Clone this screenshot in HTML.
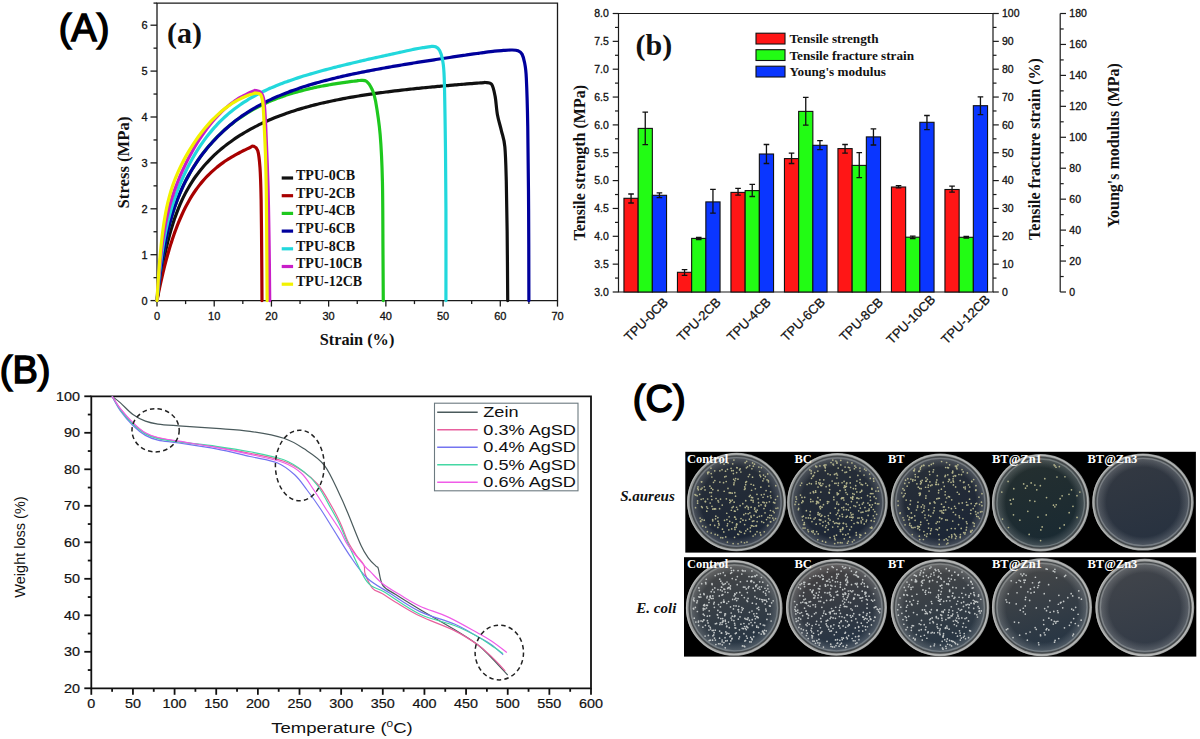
<!DOCTYPE html><html><head><meta charset="utf-8"><style>html,body{margin:0;padding:0;background:#fff;width:1200px;height:739px;overflow:hidden}svg{display:block}</style></head><body>
<svg width="1200" height="739" viewBox="0 0 1200 739">
<rect width="1200" height="739" fill="#fff"/>
<text x="58.7" y="40.6" style="font-family:'Liberation Sans', sans-serif;font-size:38px;fill:#000;stroke:#000;stroke-width:1.5">(A)</text>
<text x="-0.2" y="382.8" style="font-family:'Liberation Sans', sans-serif;font-size:38px;fill:#000;stroke:#000;stroke-width:1.5">(B)</text>
<text x="632.8" y="412" style="font-family:'Liberation Sans', sans-serif;font-size:38px;fill:#000;stroke:#000;stroke-width:1.5">(C)</text>
<g style="stroke:#1a1a1a;stroke-width:1.3;fill:none">
<path d="M157 300.6 H557.5 V3.1 H157 Z"/>
<path d="M150.5 300.6 H157"/>
<path d="M153.5 277.65 H157"/>
<path d="M150.5 254.7 H157"/>
<path d="M153.5 231.75 H157"/>
<path d="M150.5 208.8 H157"/>
<path d="M153.5 185.85 H157"/>
<path d="M150.5 162.9 H157"/>
<path d="M153.5 139.95 H157"/>
<path d="M150.5 117 H157"/>
<path d="M153.5 94.05 H157"/>
<path d="M150.5 71.1 H157"/>
<path d="M153.5 48.15 H157"/>
<path d="M150.5 25.2 H157"/>
<path d="M153.5 3.1 H157"/>
<path d="M157 300.6 V306.6"/>
<path d="M185.61 300.6 V304.1"/>
<path d="M214.21 300.6 V306.6"/>
<path d="M242.82 300.6 V304.1"/>
<path d="M271.43 300.6 V306.6"/>
<path d="M300.04 300.6 V304.1"/>
<path d="M328.64 300.6 V306.6"/>
<path d="M357.25 300.6 V304.1"/>
<path d="M385.86 300.6 V306.6"/>
<path d="M414.46 300.6 V304.1"/>
<path d="M443.07 300.6 V306.6"/>
<path d="M471.68 300.6 V304.1"/>
<path d="M500.29 300.6 V306.6"/>
<path d="M528.89 300.6 V304.1"/>
<path d="M557.5 300.6 V306.6"/>
</g>
<text x="147.5" y="304.6" text-anchor="end" style="font-family:'Liberation Sans', sans-serif;font-size:11px;fill:#111;stroke:#111;stroke-width:0.3">0</text>
<text x="147.5" y="258.7" text-anchor="end" style="font-family:'Liberation Sans', sans-serif;font-size:11px;fill:#111;stroke:#111;stroke-width:0.3">1</text>
<text x="147.5" y="212.8" text-anchor="end" style="font-family:'Liberation Sans', sans-serif;font-size:11px;fill:#111;stroke:#111;stroke-width:0.3">2</text>
<text x="147.5" y="166.9" text-anchor="end" style="font-family:'Liberation Sans', sans-serif;font-size:11px;fill:#111;stroke:#111;stroke-width:0.3">3</text>
<text x="147.5" y="121" text-anchor="end" style="font-family:'Liberation Sans', sans-serif;font-size:11px;fill:#111;stroke:#111;stroke-width:0.3">4</text>
<text x="147.5" y="75.1" text-anchor="end" style="font-family:'Liberation Sans', sans-serif;font-size:11px;fill:#111;stroke:#111;stroke-width:0.3">5</text>
<text x="147.5" y="29.2" text-anchor="end" style="font-family:'Liberation Sans', sans-serif;font-size:11px;fill:#111;stroke:#111;stroke-width:0.3">6</text>
<text x="157" y="320" text-anchor="middle" style="font-family:'Liberation Sans', sans-serif;font-size:11px;fill:#111;stroke:#111;stroke-width:0.3">0</text>
<text x="214.21" y="320" text-anchor="middle" style="font-family:'Liberation Sans', sans-serif;font-size:11px;fill:#111;stroke:#111;stroke-width:0.3">10</text>
<text x="271.43" y="320" text-anchor="middle" style="font-family:'Liberation Sans', sans-serif;font-size:11px;fill:#111;stroke:#111;stroke-width:0.3">20</text>
<text x="328.64" y="320" text-anchor="middle" style="font-family:'Liberation Sans', sans-serif;font-size:11px;fill:#111;stroke:#111;stroke-width:0.3">30</text>
<text x="385.86" y="320" text-anchor="middle" style="font-family:'Liberation Sans', sans-serif;font-size:11px;fill:#111;stroke:#111;stroke-width:0.3">40</text>
<text x="443.07" y="320" text-anchor="middle" style="font-family:'Liberation Sans', sans-serif;font-size:11px;fill:#111;stroke:#111;stroke-width:0.3">50</text>
<text x="500.29" y="320" text-anchor="middle" style="font-family:'Liberation Sans', sans-serif;font-size:11px;fill:#111;stroke:#111;stroke-width:0.3">60</text>
<text x="557.5" y="320" text-anchor="middle" style="font-family:'Liberation Sans', sans-serif;font-size:11px;fill:#111;stroke:#111;stroke-width:0.3">70</text>
<text x="357" y="345" text-anchor="middle" style="font-family:'Liberation Serif', serif;font-size:16.3px;font-weight:bold;fill:#111">Strain (%)</text>
<text transform="translate(129.4 162.5) rotate(-90)" text-anchor="middle" style="font-family:'Liberation Serif', serif;font-size:16.3px;font-weight:bold;fill:#111;font-size:16.7px">Stress (MPa)</text>
<text x="167" y="42.5" style="font-family:'Liberation Serif', serif;font-size:30px;font-weight:bold;fill:#111">(a)</text>
<g style="fill:none;stroke-width:3.2;stroke-linejoin:round;stroke-linecap:round">
<path stroke="#111111" d="M157 300.6 C157.14 299.58 157.57 296.48 157.86 294.5 C158.14 292.51 158.43 290.58 158.72 288.7 C159 286.81 159.29 284.98 159.57 283.18 C159.86 281.39 160.15 279.64 160.43 277.94 C160.72 276.23 161 274.57 161.29 272.94 C161.58 271.31 161.86 269.73 162.15 268.18 C162.44 266.63 162.72 265.12 163.01 263.64 C163.29 262.17 163.58 260.72 163.87 259.31 C164.15 257.9 164.44 256.53 164.72 255.18 C165.01 253.84 165.3 252.52 165.58 251.24 C165.87 249.95 166.15 248.7 166.44 247.47 C166.73 246.24 167.01 245.03 167.3 243.86 C167.58 242.68 167.87 241.53 168.16 240.41 C168.44 239.28 168.73 238.18 169.01 237.1 C169.3 236.02 169.59 234.96 169.87 233.93 C170.16 232.9 170.45 231.88 170.73 230.89 C171.02 229.9 171.3 228.93 171.59 227.97 C171.88 227.02 172.16 226.09 172.45 225.17 C172.73 224.26 173.02 223.36 173.31 222.48 C173.59 221.6 173.88 220.74 174.16 219.89 C174.45 219.04 174.31 219.33 175.02 217.39 C175.74 215.46 177.31 211.13 178.46 208.29 C179.6 205.45 180.74 202.85 181.89 200.36 C183.03 197.88 184.18 195.58 185.32 193.38 C186.47 191.19 187.61 189.14 188.75 187.18 C189.9 185.21 191.04 183.37 192.19 181.6 C193.33 179.83 194.48 178.15 195.62 176.54 C196.76 174.93 197.91 173.4 199.05 171.92 C200.2 170.44 201.34 169.03 202.49 167.67 C203.63 166.3 204.77 165 205.92 163.73 C207.06 162.46 208.21 161.24 209.35 160.06 C210.5 158.88 211.64 157.74 212.78 156.63 C213.93 155.52 215.07 154.45 216.22 153.41 C217.36 152.37 218.51 151.36 219.65 150.38 C220.79 149.39 221.94 148.44 223.08 147.51 C224.23 146.58 225.37 145.68 226.52 144.79 C227.66 143.91 228.8 143.06 229.95 142.22 C231.09 141.38 232.24 140.57 233.38 139.77 C234.53 138.98 235.67 138.2 236.81 137.44 C237.96 136.69 239.1 135.95 240.25 135.23 C241.39 134.5 242.54 133.8 243.68 133.11 C244.82 132.42 245.97 131.75 247.11 131.09 C248.26 130.43 249.4 129.79 250.55 129.16 C251.69 128.54 252.83 127.92 253.98 127.32 C255.12 126.72 256.27 126.13 257.41 125.56 C258.56 124.98 259.7 124.42 260.84 123.87 C261.99 123.32 263.13 122.79 264.28 122.26 C265.42 121.73 266.57 121.22 267.71 120.72 C268.85 120.21 270 119.72 271.14 119.24 C272.29 118.75 273.43 118.28 274.58 117.82 C275.72 117.36 276.86 116.9 278.01 116.46 C279.15 116.02 280.3 115.58 281.44 115.16 C282.59 114.73 283.73 114.31 284.87 113.9 C286.02 113.5 287.16 113.1 288.31 112.7 C289.45 112.31 290.6 111.93 291.74 111.55 C292.88 111.17 294.03 110.81 295.17 110.44 C296.32 110.08 297.46 109.73 298.61 109.38 C299.75 109.03 300.89 108.69 302.04 108.36 C303.18 108.02 304.33 107.7 305.47 107.38 C306.62 107.05 307.76 106.74 308.9 106.43 C310.05 106.12 311.19 105.82 312.34 105.52 C313.48 105.22 314.63 104.93 315.77 104.64 C316.91 104.36 318.06 104.08 319.2 103.8 C320.35 103.52 321.49 103.25 322.64 102.99 C323.78 102.72 324.92 102.46 326.07 102.2 C327.21 101.95 328.36 101.7 329.5 101.45 C330.65 101.2 331.79 100.96 332.93 100.72 C334.08 100.48 335.22 100.25 336.37 100.02 C337.51 99.79 338.66 99.56 339.8 99.34 C340.94 99.11 342.09 98.89 343.23 98.68 C344.38 98.46 345.52 98.25 346.67 98.04 C347.81 97.84 348.95 97.63 350.1 97.43 C351.24 97.23 352.39 97.03 353.53 96.84 C354.68 96.64 355.82 96.45 356.96 96.26 C358.11 96.07 359.25 95.89 360.4 95.7 C361.54 95.52 362.69 95.34 363.83 95.16 C364.97 94.99 366.12 94.81 367.26 94.64 C368.41 94.47 369.55 94.3 370.7 94.13 C371.84 93.96 372.98 93.8 374.13 93.64 C375.27 93.47 376.42 93.31 377.56 93.16 C378.71 93 379.85 92.84 380.99 92.69 C382.14 92.54 383.28 92.39 384.43 92.24 C385.57 92.09 386.72 91.94 387.86 91.8 C389 91.65 390.15 91.51 391.29 91.37 C392.44 91.23 393.58 91.09 394.73 90.95 C395.87 90.81 397.01 90.67 398.16 90.54 C399.3 90.41 400.45 90.27 401.59 90.14 C402.74 90.01 403.88 89.88 405.02 89.75 C406.17 89.63 407.31 89.5 408.46 89.37 C409.6 89.25 410.75 89.13 411.89 89 C413.03 88.88 414.18 88.76 415.32 88.64 C416.47 88.52 417.61 88.4 418.76 88.29 C419.9 88.17 421.04 88.05 422.19 87.94 C423.33 87.83 424.48 87.71 425.62 87.6 C426.77 87.49 427.91 87.38 429.05 87.27 C430.2 87.16 431.34 87.05 432.49 86.94 C433.63 86.83 434.78 86.72 435.92 86.62 C437.06 86.51 438.21 86.41 439.35 86.3 C440.5 86.2 441.64 86.1 442.79 85.99 C443.93 85.89 445.07 85.79 446.22 85.69 C447.36 85.59 448.51 85.49 449.65 85.39 C450.8 85.29 451.94 85.2 453.08 85.1 C454.23 85 455.37 84.9 456.52 84.81 C457.66 84.71 458.81 84.62 459.95 84.52 C461.09 84.43 462.24 84.34 463.38 84.24 C464.53 84.15 465.67 84.06 466.82 83.97 C467.96 83.87 469.1 83.78 470.25 83.69 C471.39 83.6 472.54 83.51 473.68 83.42 C474.83 83.33 475.97 83.25 477.11 83.16 C478.26 83.07 479.4 82.98 480.55 82.89 C481.69 82.81 483.17 82.7 483.98 82.63 C484.79 82.57 484.12 82.23 485.41 82.53 C486.7 82.82 490.08 82.11 491.7 84.41 C493.32 86.71 494.18 91.3 495.14 96.35 C496.09 101.39 496.38 108.97 497.43 114.71 C498.47 120.44 500.19 125.42 501.43 130.77 C502.67 136.12 504.05 138.42 504.86 146.84 C505.67 155.25 505.91 167.11 506.29 181.26 C506.67 195.41 506.91 211.86 507.15 231.75 C507.39 251.64 507.63 289.12 507.72 300.6"/>
<path stroke="#a80000" d="M157 300.6 C157.14 299.87 157.57 297.67 157.86 296.23 C158.14 294.8 158.43 293.38 158.72 291.99 C159 290.6 159.29 289.23 159.57 287.88 C159.86 286.54 160.15 285.21 160.43 283.9 C160.72 282.59 161 281.3 161.29 280.03 C161.58 278.76 161.86 277.51 162.15 276.28 C162.44 275.05 162.72 273.84 163.01 272.64 C163.29 271.45 163.58 270.27 163.87 269.11 C164.15 267.95 164.44 266.81 164.72 265.69 C165.01 264.56 165.3 263.45 165.58 262.36 C165.87 261.27 166.15 260.2 166.44 259.14 C166.73 258.08 167.01 257.04 167.3 256.01 C167.58 254.98 167.87 253.97 168.16 252.97 C168.44 251.97 168.73 250.99 169.01 250.02 C169.3 249.05 169.59 248.1 169.87 247.16 C170.16 246.22 170.45 245.29 170.73 244.38 C171.02 243.46 171.3 242.56 171.59 241.68 C171.88 240.79 172.16 239.92 172.45 239.06 C172.73 238.19 173.02 237.35 173.31 236.51 C173.59 235.67 173.88 234.85 174.16 234.04 C174.45 233.23 174.31 233.53 175.02 231.64 C175.74 229.75 177.31 225.51 178.46 222.69 C179.6 219.87 180.74 217.23 181.89 214.72 C183.03 212.2 184.18 209.84 185.32 207.58 C186.47 205.33 187.61 203.21 188.75 201.19 C189.9 199.17 191.04 197.27 192.19 195.45 C193.33 193.63 194.48 191.92 195.62 190.28 C196.76 188.64 197.91 187.09 199.05 185.61 C200.2 184.13 201.34 182.72 202.49 181.38 C203.63 180.03 204.77 178.76 205.92 177.53 C207.06 176.31 208.21 175.15 209.35 174.03 C210.5 172.91 211.64 171.84 212.78 170.82 C213.93 169.79 215.07 168.81 216.22 167.87 C217.36 166.92 218.51 166.02 219.65 165.14 C220.79 164.27 221.94 163.43 223.08 162.62 C224.23 161.81 225.37 161.03 226.52 160.28 C227.66 159.52 228.8 158.79 229.95 158.08 C231.09 157.37 232.24 156.69 233.38 156.03 C234.53 155.36 235.67 154.72 236.81 154.09 C237.96 153.46 239.1 152.85 240.25 152.25 C241.39 151.66 242.54 151.08 243.68 150.51 C244.82 149.94 245.97 149.39 247.11 148.85 C248.26 148.31 249.54 147.71 250.55 147.26 C251.55 146.8 251.93 145.56 253.12 146.1 C254.31 146.64 256.55 146.94 257.7 150.51 C258.84 154.07 259.41 159.3 259.99 167.49 C260.56 175.68 260.84 185.09 261.13 199.62 C261.42 214.16 261.56 237.87 261.7 254.7 C261.85 271.53 261.94 292.95 261.99 300.6"/>
<path stroke="#1ec81e" d="M157 300.6 C157.14 299.29 157.57 295.28 157.86 292.76 C158.14 290.24 158.43 287.81 158.72 285.47 C159 283.12 159.29 280.86 159.57 278.66 C159.86 276.47 160.15 274.36 160.43 272.31 C160.72 270.26 161 268.29 161.29 266.37 C161.58 264.46 161.86 262.61 162.15 260.81 C162.44 259.02 162.72 257.28 163.01 255.59 C163.29 253.91 163.58 252.28 163.87 250.69 C164.15 249.11 164.44 247.57 164.72 246.08 C165.01 244.58 165.3 243.14 165.58 241.73 C165.87 240.32 166.15 238.95 166.44 237.62 C166.73 236.28 167.01 234.99 167.3 233.73 C167.58 232.46 167.87 231.24 168.16 230.04 C168.44 228.84 168.73 227.68 169.01 226.54 C169.3 225.41 169.59 224.3 169.87 223.22 C170.16 222.13 170.45 221.08 170.73 220.05 C171.02 219.02 171.3 218.01 171.59 217.02 C171.88 216.04 172.16 215.08 172.45 214.14 C172.73 213.19 173.02 212.27 173.31 211.37 C173.59 210.47 173.88 209.58 174.16 208.72 C174.45 207.85 174.31 208.14 175.02 206.17 C175.74 204.2 177.31 199.8 178.46 196.9 C179.6 194.01 180.74 191.36 181.89 188.81 C183.03 186.26 184.18 183.9 185.32 181.62 C186.47 179.34 187.61 177.2 188.75 175.14 C189.9 173.07 191.04 171.11 192.19 169.22 C193.33 167.32 194.48 165.52 195.62 163.77 C196.76 162.02 197.91 160.35 199.05 158.72 C200.2 157.09 201.34 155.53 202.49 154.02 C203.63 152.5 204.77 151.04 205.92 149.62 C207.06 148.19 208.21 146.82 209.35 145.49 C210.5 144.16 211.64 142.87 212.78 141.61 C213.93 140.36 215.07 139.14 216.22 137.96 C217.36 136.78 218.51 135.64 219.65 134.53 C220.79 133.41 221.94 132.33 223.08 131.28 C224.23 130.23 225.37 129.22 226.52 128.22 C227.66 127.23 228.8 126.27 229.95 125.34 C231.09 124.4 232.24 123.49 233.38 122.61 C234.53 121.73 235.67 120.87 236.81 120.03 C237.96 119.2 239.1 118.39 240.25 117.6 C241.39 116.81 242.54 116.04 243.68 115.3 C244.82 114.55 245.97 113.83 247.11 113.12 C248.26 112.41 249.4 111.73 250.55 111.06 C251.69 110.39 252.83 109.75 253.98 109.12 C255.12 108.48 256.27 107.87 257.41 107.27 C258.56 106.68 259.7 106.1 260.84 105.53 C261.99 104.97 263.13 104.42 264.28 103.88 C265.42 103.35 266.57 102.83 267.71 102.32 C268.85 101.82 270 101.33 271.14 100.85 C272.29 100.37 273.43 99.9 274.58 99.45 C275.72 98.99 276.86 98.55 278.01 98.12 C279.15 97.69 280.3 97.28 281.44 96.87 C282.59 96.46 283.73 96.06 284.87 95.68 C286.02 95.29 287.16 94.92 288.31 94.55 C289.45 94.19 290.6 93.83 291.74 93.48 C292.88 93.14 294.03 92.8 295.17 92.47 C296.32 92.14 297.46 91.82 298.61 91.51 C299.75 91.19 300.89 90.89 302.04 90.59 C303.18 90.3 304.33 90.01 305.47 89.73 C306.62 89.45 307.76 89.17 308.9 88.9 C310.05 88.64 311.19 88.38 312.34 88.12 C313.48 87.87 314.63 87.62 315.77 87.38 C316.91 87.14 318.06 86.9 319.2 86.67 C320.35 86.44 321.49 86.22 322.64 86 C323.78 85.78 324.92 85.57 326.07 85.36 C327.21 85.16 328.36 84.95 329.5 84.76 C330.65 84.56 331.79 84.36 332.93 84.18 C334.08 83.99 335.22 83.8 336.37 83.62 C337.51 83.44 338.66 83.27 339.8 83.1 C340.94 82.93 342.09 82.76 343.23 82.6 C344.38 82.43 345.52 82.27 346.67 82.12 C347.81 81.96 348.95 81.81 350.1 81.66 C351.24 81.51 352.39 81.36 353.53 81.22 C354.68 81.08 355.96 80.92 356.96 80.8 C357.97 80.68 357.97 80.44 359.54 80.5 C361.11 80.57 364.31 79.71 366.4 81.2 C368.5 82.69 370.6 86.17 372.13 89.46 C373.65 92.75 374.22 93.44 375.56 100.94 C376.89 108.43 378.99 121.05 380.14 134.44 C381.28 147.83 381.95 161.22 382.42 181.26 C382.9 201.3 382.85 234.81 383 254.7 C383.14 274.59 383.23 292.95 383.28 300.6"/>
<path stroke="#00009c" d="M157 300.6 C157.14 299.3 157.57 295.3 157.86 292.79 C158.14 290.27 158.43 287.85 158.72 285.51 C159 283.16 159.29 280.91 159.57 278.72 C159.86 276.53 160.15 274.42 160.43 272.37 C160.72 270.32 161 268.35 161.29 266.43 C161.58 264.51 161.86 262.66 162.15 260.87 C162.44 259.07 162.72 257.33 163.01 255.64 C163.29 253.95 163.58 252.32 163.87 250.73 C164.15 249.14 164.44 247.6 164.72 246.1 C165.01 244.61 165.3 243.16 165.58 241.74 C165.87 240.33 166.15 238.96 166.44 237.62 C166.73 236.29 167.01 234.99 167.3 233.72 C167.58 232.46 167.87 231.23 168.16 230.03 C168.44 228.83 168.73 227.66 169.01 226.52 C169.3 225.38 169.59 224.27 169.87 223.18 C170.16 222.1 170.45 221.04 170.73 220.01 C171.02 218.97 171.3 217.96 171.59 216.97 C171.88 215.99 172.16 215.02 172.45 214.08 C172.73 213.13 173.02 212.21 173.31 211.31 C173.59 210.4 173.88 209.52 174.16 208.65 C174.45 207.78 174.31 208.07 175.02 206.1 C175.74 204.13 177.31 199.72 178.46 196.83 C179.6 193.93 180.74 191.29 181.89 188.74 C183.03 186.2 184.18 183.84 185.32 181.57 C186.47 179.3 187.61 177.17 188.75 175.11 C189.9 173.05 191.04 171.11 192.19 169.22 C193.33 167.34 194.48 165.54 195.62 163.8 C196.76 162.06 197.91 160.39 199.05 158.78 C200.2 157.16 201.34 155.6 202.49 154.09 C203.63 152.58 204.77 151.12 205.92 149.7 C207.06 148.29 208.21 146.92 209.35 145.58 C210.5 144.25 211.64 142.96 212.78 141.7 C213.93 140.45 215.07 139.23 216.22 138.04 C217.36 136.85 218.51 135.7 219.65 134.58 C220.79 133.46 221.94 132.37 223.08 131.31 C224.23 130.24 225.37 129.21 226.52 128.2 C227.66 127.2 228.8 126.22 229.95 125.26 C231.09 124.31 232.24 123.38 233.38 122.47 C234.53 121.56 235.67 120.68 236.81 119.82 C237.96 118.96 239.1 118.12 240.25 117.3 C241.39 116.48 242.54 115.69 243.68 114.91 C244.82 114.13 245.97 113.37 247.11 112.63 C248.26 111.89 249.4 111.16 250.55 110.46 C251.69 109.75 252.83 109.06 253.98 108.39 C255.12 107.72 256.27 107.06 257.41 106.42 C258.56 105.78 259.7 105.15 260.84 104.54 C261.99 103.92 263.13 103.32 264.28 102.74 C265.42 102.15 266.57 101.58 267.71 101.02 C268.85 100.46 270 99.92 271.14 99.38 C272.29 98.84 273.43 98.32 274.58 97.81 C275.72 97.29 276.86 96.79 278.01 96.3 C279.15 95.81 280.3 95.33 281.44 94.86 C282.59 94.39 283.73 93.93 284.87 93.47 C286.02 93.02 287.16 92.58 288.31 92.14 C289.45 91.71 290.6 91.28 291.74 90.87 C292.88 90.45 294.03 90.04 295.17 89.64 C296.32 89.23 297.46 88.84 298.61 88.45 C299.75 88.06 300.89 87.69 302.04 87.31 C303.18 86.94 304.33 86.57 305.47 86.21 C306.62 85.85 307.76 85.5 308.9 85.15 C310.05 84.8 311.19 84.46 312.34 84.12 C313.48 83.79 314.63 83.46 315.77 83.13 C316.91 82.8 318.06 82.48 319.2 82.17 C320.35 81.85 321.49 81.54 322.64 81.24 C323.78 80.93 324.92 80.63 326.07 80.33 C327.21 80.04 328.36 79.74 329.5 79.46 C330.65 79.17 331.79 78.88 332.93 78.6 C334.08 78.32 335.22 78.05 336.37 77.77 C337.51 77.5 338.66 77.23 339.8 76.97 C340.94 76.7 342.09 76.44 343.23 76.18 C344.38 75.92 345.52 75.66 346.67 75.41 C347.81 75.16 348.95 74.91 350.1 74.66 C351.24 74.42 352.39 74.17 353.53 73.93 C354.68 73.69 355.82 73.45 356.96 73.21 C358.11 72.98 359.25 72.74 360.4 72.51 C361.54 72.28 362.69 72.05 363.83 71.82 C364.97 71.6 366.12 71.37 367.26 71.15 C368.41 70.93 369.55 70.71 370.7 70.49 C371.84 70.27 372.98 70.05 374.13 69.84 C375.27 69.62 376.42 69.41 377.56 69.2 C378.71 68.99 379.85 68.78 380.99 68.57 C382.14 68.37 383.28 68.16 384.43 67.95 C385.57 67.75 386.72 67.55 387.86 67.35 C389 67.14 390.15 66.94 391.29 66.75 C392.44 66.55 393.58 66.35 394.73 66.15 C395.87 65.96 397.01 65.76 398.16 65.57 C399.3 65.37 400.45 65.18 401.59 64.99 C402.74 64.8 403.88 64.61 405.02 64.42 C406.17 64.23 407.31 64.04 408.46 63.86 C409.6 63.67 410.75 63.48 411.89 63.3 C413.03 63.11 414.18 62.93 415.32 62.75 C416.47 62.56 417.61 62.38 418.76 62.2 C419.9 62.02 421.04 61.84 422.19 61.66 C423.33 61.48 424.48 61.3 425.62 61.12 C426.77 60.94 427.91 60.76 429.05 60.58 C430.2 60.41 431.34 60.23 432.49 60.06 C433.63 59.88 434.78 59.7 435.92 59.53 C437.06 59.36 438.21 59.18 439.35 59.01 C440.5 58.84 441.64 58.66 442.79 58.49 C443.93 58.32 445.07 58.15 446.22 57.98 C447.36 57.8 448.51 57.63 449.65 57.46 C450.8 57.29 451.94 57.12 453.08 56.95 C454.23 56.78 455.37 56.62 456.52 56.45 C457.66 56.28 458.81 56.11 459.95 55.94 C461.09 55.78 462.24 55.61 463.38 55.44 C464.53 55.28 465.67 55.11 466.82 54.94 C467.96 54.78 469.1 54.61 470.25 54.45 C471.39 54.28 472.54 54.12 473.68 53.95 C474.83 53.79 475.97 53.62 477.11 53.46 C478.26 53.29 479.55 53.11 480.55 52.97 C481.55 52.82 480.79 52.9 483.12 52.6 C485.46 52.29 491.23 51.49 494.56 51.13 C497.9 50.77 500.29 50.64 503.15 50.45 C506.01 50.25 509.25 49.95 511.73 49.99 C514.21 50.02 516.31 49.99 518.02 50.67 C519.74 51.36 520.93 52.09 522.03 54.12 C523.12 56.14 523.89 58.86 524.6 62.84 C525.32 66.82 525.79 67.43 526.32 77.99 C526.84 88.54 527.37 104.38 527.75 126.18 C528.13 147.98 528.42 179.73 528.61 208.8 C528.8 237.87 528.85 285.3 528.89 300.6"/>
<path stroke="#22d8dc" d="M157 300.6 C157.14 298.84 157.57 293.36 157.86 290.04 C158.14 286.72 158.43 283.62 158.72 280.66 C159 277.7 159.29 274.93 159.57 272.28 C159.86 269.63 160.15 267.15 160.43 264.76 C160.72 262.38 161 260.14 161.29 257.98 C161.58 255.83 161.86 253.79 162.15 251.83 C162.44 249.87 162.72 248.01 163.01 246.22 C163.29 244.43 163.58 242.73 163.87 241.08 C164.15 239.43 164.44 237.86 164.72 236.34 C165.01 234.82 165.3 233.36 165.58 231.95 C165.87 230.54 166.15 229.18 166.44 227.86 C166.73 226.54 167.01 225.27 167.3 224.03 C167.58 222.8 167.87 221.6 168.16 220.44 C168.44 219.27 168.73 218.14 169.01 217.04 C169.3 215.94 169.59 214.87 169.87 213.82 C170.16 212.78 170.45 211.76 170.73 210.76 C171.02 209.76 171.3 208.79 171.59 207.84 C171.88 206.88 172.16 205.95 172.45 205.04 C172.73 204.12 173.02 203.23 173.31 202.35 C173.59 201.47 173.88 200.61 174.16 199.76 C174.45 198.91 174.31 199.22 175.02 197.26 C175.74 195.31 177.31 190.95 178.46 188.03 C179.6 185.11 180.74 182.39 181.89 179.76 C183.03 177.13 184.18 174.65 185.32 172.25 C186.47 169.85 187.61 167.56 188.75 165.35 C189.9 163.14 191.04 161.03 192.19 158.99 C193.33 156.95 194.48 155 195.62 153.11 C196.76 151.22 197.91 149.4 199.05 147.65 C200.2 145.89 201.34 144.21 202.49 142.58 C203.63 140.94 204.77 139.38 205.92 137.86 C207.06 136.34 208.21 134.88 209.35 133.46 C210.5 132.05 211.64 130.68 212.78 129.36 C213.93 128.04 215.07 126.77 216.22 125.54 C217.36 124.3 218.51 123.12 219.65 121.96 C220.79 120.81 221.94 119.7 223.08 118.62 C224.23 117.54 225.37 116.5 226.52 115.48 C227.66 114.47 228.8 113.49 229.95 112.55 C231.09 111.6 232.24 110.68 233.38 109.79 C234.53 108.89 235.67 108.03 236.81 107.19 C237.96 106.35 239.1 105.54 240.25 104.75 C241.39 103.96 242.54 103.19 243.68 102.44 C244.82 101.7 245.97 100.97 247.11 100.27 C248.26 99.56 249.4 98.88 250.55 98.21 C251.69 97.54 252.83 96.9 253.98 96.26 C255.12 95.63 256.27 95.01 257.41 94.41 C258.56 93.81 259.7 93.23 260.84 92.65 C261.99 92.08 263.13 91.53 264.28 90.98 C265.42 90.44 266.57 89.9 267.71 89.38 C268.85 88.86 270 88.36 271.14 87.86 C272.29 87.36 273.43 86.88 274.58 86.4 C275.72 85.92 276.86 85.46 278.01 85 C279.15 84.54 280.3 84.1 281.44 83.66 C282.59 83.22 283.73 82.79 284.87 82.36 C286.02 81.94 287.16 81.53 288.31 81.12 C289.45 80.71 290.6 80.31 291.74 79.91 C292.88 79.52 294.03 79.13 295.17 78.75 C296.32 78.37 297.46 78 298.61 77.63 C299.75 77.26 300.89 76.89 302.04 76.53 C303.18 76.17 304.33 75.82 305.47 75.47 C306.62 75.12 307.76 74.78 308.9 74.44 C310.05 74.1 311.19 73.76 312.34 73.43 C313.48 73.1 314.63 72.77 315.77 72.44 C316.91 72.12 318.06 71.8 319.2 71.48 C320.35 71.17 321.49 70.85 322.64 70.54 C323.78 70.23 324.92 69.92 326.07 69.62 C327.21 69.31 328.36 69.01 329.5 68.71 C330.65 68.41 331.79 68.12 332.93 67.82 C334.08 67.53 335.22 67.24 336.37 66.95 C337.51 66.66 338.66 66.37 339.8 66.09 C340.94 65.8 342.09 65.52 343.23 65.24 C344.38 64.95 345.52 64.67 346.67 64.4 C347.81 64.12 348.95 63.84 350.1 63.57 C351.24 63.29 352.39 63.02 353.53 62.75 C354.68 62.48 355.82 62.21 356.96 61.94 C358.11 61.67 359.25 61.4 360.4 61.14 C361.54 60.87 362.69 60.61 363.83 60.34 C364.97 60.08 366.12 59.82 367.26 59.56 C368.41 59.3 369.55 59.04 370.7 58.78 C371.84 58.52 372.98 58.26 374.13 58 C375.27 57.74 376.42 57.49 377.56 57.23 C378.71 56.97 379.85 56.72 380.99 56.47 C382.14 56.21 383.28 55.96 384.43 55.7 C385.57 55.45 386.72 55.2 387.86 54.95 C389 54.7 390.15 54.45 391.29 54.2 C392.44 53.95 393.58 53.7 394.73 53.45 C395.87 53.2 397.01 52.95 398.16 52.7 C399.3 52.45 400.45 52.2 401.59 51.96 C402.74 51.71 403.88 51.46 405.02 51.22 C406.17 50.97 407.31 50.72 408.46 50.48 C409.6 50.23 410.89 49.96 411.89 49.74 C412.89 49.53 412.6 49.54 414.46 49.19 C416.32 48.85 420.38 48.13 423.05 47.69 C425.72 47.25 428.39 46.7 430.48 46.54 C432.58 46.39 434.11 46.12 435.63 46.77 C437.16 47.42 438.49 48.3 439.64 50.45 C440.78 52.59 441.74 55.04 442.5 59.63 C443.26 64.22 443.74 64.6 444.22 77.99 C444.69 91.37 445.07 118.15 445.36 139.95 C445.65 161.75 445.84 182.03 445.93 208.8 C446.03 235.58 445.93 285.3 445.93 300.6"/>
<path stroke="#c81ec8" d="M157 300.6 C157.14 298.53 157.57 292.06 157.86 288.17 C158.14 284.28 158.43 280.68 158.72 277.26 C159 273.84 159.29 270.66 159.57 267.64 C159.86 264.62 160.15 261.81 160.43 259.13 C160.72 256.44 161 253.94 161.29 251.55 C161.58 249.16 161.86 246.92 162.15 244.77 C162.44 242.62 162.72 240.61 163.01 238.67 C163.29 236.74 163.58 234.91 163.87 233.16 C164.15 231.4 164.44 229.74 164.72 228.14 C165.01 226.53 165.3 225.01 165.58 223.54 C165.87 222.07 166.15 220.67 166.44 219.32 C166.73 217.96 167.01 216.66 167.3 215.4 C167.58 214.14 167.87 212.93 168.16 211.76 C168.44 210.58 168.73 209.45 169.01 208.35 C169.3 207.25 169.59 206.18 169.87 205.14 C170.16 204.11 170.45 203.1 170.73 202.11 C171.02 201.13 171.3 200.18 171.59 199.24 C171.88 198.3 172.16 197.39 172.45 196.5 C172.73 195.6 173.02 194.73 173.31 193.88 C173.59 193.02 173.88 192.18 174.16 191.36 C174.45 190.53 174.31 190.83 175.02 188.93 C175.74 187.04 177.31 182.82 178.46 179.99 C179.6 177.16 180.74 174.52 181.89 171.96 C183.03 169.39 184.18 166.96 185.32 164.6 C186.47 162.24 187.61 159.98 188.75 157.79 C189.9 155.59 191.04 153.48 192.19 151.44 C193.33 149.39 194.48 147.42 195.62 145.51 C196.76 143.6 197.91 141.76 199.05 139.97 C200.2 138.18 201.34 136.46 202.49 134.79 C203.63 133.13 204.77 131.52 205.92 129.96 C207.06 128.41 208.21 126.91 209.35 125.46 C210.5 124.01 211.64 122.61 212.78 121.27 C213.93 119.92 215.07 118.62 216.22 117.37 C217.36 116.12 218.51 114.92 219.65 113.77 C220.79 112.61 221.94 111.5 223.08 110.43 C224.23 109.37 225.37 108.34 226.52 107.36 C227.66 106.38 228.8 105.44 229.95 104.54 C231.09 103.64 232.24 102.78 233.38 101.96 C234.53 101.14 235.67 100.35 236.81 99.61 C237.96 98.86 239.1 98.15 240.25 97.47 C241.39 96.8 242.54 96.16 243.68 95.55 C244.82 94.94 245.97 94.37 247.11 93.83 C248.26 93.29 249.4 92.78 250.55 92.3 C251.69 91.82 253.17 91.26 253.98 90.95 C254.79 90.64 254.22 90.16 255.41 90.44 C256.6 90.73 259.7 90.92 261.13 92.67 C262.56 94.42 263.23 95.35 263.99 100.94 C264.75 106.52 265.04 112.03 265.71 126.18 C266.37 140.33 267.42 165.96 268 185.85 C268.57 205.74 268.85 226.4 269.14 245.52 C269.43 264.65 269.62 291.42 269.71 300.6"/>
<path stroke="#f2f200" d="M157 300.6 C157.14 298.16 157.57 290.52 157.86 285.96 C158.14 281.4 158.43 277.2 158.72 273.23 C159 269.26 159.29 265.6 159.57 262.12 C159.86 258.65 160.15 255.44 160.43 252.4 C160.72 249.35 161 246.52 161.29 243.84 C161.58 241.15 161.86 238.66 162.15 236.28 C162.44 233.9 162.72 231.68 163.01 229.56 C163.29 227.45 163.58 225.47 163.87 223.57 C164.15 221.68 164.44 219.9 164.72 218.2 C165.01 216.49 165.3 214.89 165.58 213.34 C165.87 211.8 166.15 210.34 166.44 208.94 C166.73 207.54 167.01 206.21 167.3 204.92 C167.58 203.64 167.87 202.42 168.16 201.23 C168.44 200.05 168.73 198.92 169.01 197.83 C169.3 196.73 169.59 195.68 169.87 194.66 C170.16 193.64 170.45 192.66 170.73 191.71 C171.02 190.76 171.3 189.84 171.59 188.94 C171.88 188.04 172.16 187.17 172.45 186.32 C172.73 185.48 173.02 184.65 173.31 183.85 C173.59 183.04 173.88 182.26 174.16 181.49 C174.45 180.73 174.31 180.98 175.02 179.24 C175.74 177.51 177.31 173.64 178.46 171.08 C179.6 168.52 180.74 166.17 181.89 163.88 C183.03 161.6 184.18 159.45 185.32 157.37 C186.47 155.28 187.61 153.3 188.75 151.37 C189.9 149.44 191.04 147.59 192.19 145.8 C193.33 144.01 194.48 142.28 195.62 140.61 C196.76 138.94 197.91 137.33 199.05 135.77 C200.2 134.21 201.34 132.71 202.49 131.25 C203.63 129.79 204.77 128.39 205.92 127.03 C207.06 125.68 208.21 124.37 209.35 123.11 C210.5 121.84 211.64 120.63 212.78 119.46 C213.93 118.28 215.07 117.16 216.22 116.07 C217.36 114.98 218.51 113.94 219.65 112.94 C220.79 111.93 221.94 110.97 223.08 110.05 C224.23 109.12 225.37 108.24 226.52 107.39 C227.66 106.54 228.8 105.73 229.95 104.95 C231.09 104.18 232.24 103.44 233.38 102.73 C234.53 102.03 235.67 101.35 236.81 100.71 C237.96 100.08 239.1 99.47 240.25 98.89 C241.39 98.32 242.54 97.78 243.68 97.26 C244.82 96.75 245.97 96.27 247.11 95.81 C248.26 95.36 249.4 94.93 250.55 94.53 C251.69 94.13 253.17 93.67 253.98 93.42 C254.79 93.17 254.31 92.82 255.41 93 C256.51 93.19 259.32 92.8 260.56 94.51 C261.8 96.21 262.27 98.72 262.85 103.23 C263.42 107.74 263.56 113.18 263.99 121.59 C264.42 130.01 265.04 142.25 265.42 153.72 C265.8 165.2 266.04 173.61 266.28 190.44 C266.52 207.27 266.71 236.34 266.85 254.7 C266.99 273.06 267.09 292.95 267.14 300.6"/>
</g>
<path d="M281.7 178 H293.1" stroke="#111111" stroke-width="3.2"/>
<text x="296" y="179.8" style="font-family:'Liberation Serif', serif;font-size:14px;font-weight:bold;fill:#111">TPU-0CB</text>
<path d="M281.7 195.7 H293.1" stroke="#a80000" stroke-width="3.2"/>
<text x="296" y="197.5" style="font-family:'Liberation Serif', serif;font-size:14px;font-weight:bold;fill:#111">TPU-2CB</text>
<path d="M281.7 213.4 H293.1" stroke="#1ec81e" stroke-width="3.2"/>
<text x="296" y="215.2" style="font-family:'Liberation Serif', serif;font-size:14px;font-weight:bold;fill:#111">TPU-4CB</text>
<path d="M281.7 231.1 H293.1" stroke="#00009c" stroke-width="3.2"/>
<text x="296" y="232.9" style="font-family:'Liberation Serif', serif;font-size:14px;font-weight:bold;fill:#111">TPU-6CB</text>
<path d="M281.7 248.8 H293.1" stroke="#22d8dc" stroke-width="3.2"/>
<text x="296" y="250.6" style="font-family:'Liberation Serif', serif;font-size:14px;font-weight:bold;fill:#111">TPU-8CB</text>
<path d="M281.7 266.5 H293.1" stroke="#c81ec8" stroke-width="3.2"/>
<text x="296" y="268.3" style="font-family:'Liberation Serif', serif;font-size:14px;font-weight:bold;fill:#111">TPU-10CB</text>
<path d="M281.7 284.2 H293.1" stroke="#f2f200" stroke-width="3.2"/>
<text x="296" y="286" style="font-family:'Liberation Serif', serif;font-size:14px;font-weight:bold;fill:#111">TPU-12CB</text>
<g style="stroke:#1a1a1a;stroke-width:1.3;fill:none;stroke-width:1.2">
<path d="M618.5 292 H993 V13.5 H618.5 Z"/>
<path d="M612.7 292 H618.5"/>
<path d="M615 278.07 H618.5"/>
<path d="M612.7 264.15 H618.5"/>
<path d="M615 250.22 H618.5"/>
<path d="M612.7 236.3 H618.5"/>
<path d="M615 222.38 H618.5"/>
<path d="M612.7 208.45 H618.5"/>
<path d="M615 194.53 H618.5"/>
<path d="M612.7 180.6 H618.5"/>
<path d="M615 166.68 H618.5"/>
<path d="M612.7 152.75 H618.5"/>
<path d="M615 138.82 H618.5"/>
<path d="M612.7 124.9 H618.5"/>
<path d="M615 110.97 H618.5"/>
<path d="M612.7 97.05 H618.5"/>
<path d="M615 83.12 H618.5"/>
<path d="M612.7 69.2 H618.5"/>
<path d="M615 55.28 H618.5"/>
<path d="M612.7 41.35 H618.5"/>
<path d="M615 27.43 H618.5"/>
<path d="M612.7 13.5 H618.5"/>
<path d="M993 292 H998.8"/>
<path d="M993 278.07 H996.5"/>
<path d="M993 264.15 H998.8"/>
<path d="M993 250.22 H996.5"/>
<path d="M993 236.3 H998.8"/>
<path d="M993 222.38 H996.5"/>
<path d="M993 208.45 H998.8"/>
<path d="M993 194.53 H996.5"/>
<path d="M993 180.6 H998.8"/>
<path d="M993 166.68 H996.5"/>
<path d="M993 152.75 H998.8"/>
<path d="M993 138.82 H996.5"/>
<path d="M993 124.9 H998.8"/>
<path d="M993 110.97 H996.5"/>
<path d="M993 97.05 H998.8"/>
<path d="M993 83.12 H996.5"/>
<path d="M993 69.2 H998.8"/>
<path d="M993 55.28 H996.5"/>
<path d="M993 41.35 H998.8"/>
<path d="M993 27.43 H996.5"/>
<path d="M993 13.5 H998.8"/>
<path d="M1060.2 13.5 V292"/>
<path d="M1060.2 292 H1066"/>
<path d="M1060.2 276.53 H1063.7"/>
<path d="M1060.2 261.06 H1066"/>
<path d="M1060.2 245.58 H1063.7"/>
<path d="M1060.2 230.11 H1066"/>
<path d="M1060.2 214.64 H1063.7"/>
<path d="M1060.2 199.17 H1066"/>
<path d="M1060.2 183.69 H1063.7"/>
<path d="M1060.2 168.22 H1066"/>
<path d="M1060.2 152.75 H1063.7"/>
<path d="M1060.2 137.28 H1066"/>
<path d="M1060.2 121.81 H1063.7"/>
<path d="M1060.2 106.33 H1066"/>
<path d="M1060.2 90.86 H1063.7"/>
<path d="M1060.2 75.39 H1066"/>
<path d="M1060.2 59.92 H1063.7"/>
<path d="M1060.2 44.44 H1066"/>
<path d="M1060.2 28.97 H1063.7"/>
<path d="M1060.2 13.5 H1066"/>
</g>
<text x="608.8" y="295.8" text-anchor="end" style="font-family:'Liberation Sans', sans-serif;font-size:10.5px;fill:#111;stroke:#111;stroke-width:0.3">3.0</text>
<text x="608.8" y="267.95" text-anchor="end" style="font-family:'Liberation Sans', sans-serif;font-size:10.5px;fill:#111;stroke:#111;stroke-width:0.3">3.5</text>
<text x="608.8" y="240.1" text-anchor="end" style="font-family:'Liberation Sans', sans-serif;font-size:10.5px;fill:#111;stroke:#111;stroke-width:0.3">4.0</text>
<text x="608.8" y="212.25" text-anchor="end" style="font-family:'Liberation Sans', sans-serif;font-size:10.5px;fill:#111;stroke:#111;stroke-width:0.3">4.5</text>
<text x="608.8" y="184.4" text-anchor="end" style="font-family:'Liberation Sans', sans-serif;font-size:10.5px;fill:#111;stroke:#111;stroke-width:0.3">5.0</text>
<text x="608.8" y="156.55" text-anchor="end" style="font-family:'Liberation Sans', sans-serif;font-size:10.5px;fill:#111;stroke:#111;stroke-width:0.3">5.5</text>
<text x="608.8" y="128.7" text-anchor="end" style="font-family:'Liberation Sans', sans-serif;font-size:10.5px;fill:#111;stroke:#111;stroke-width:0.3">6.0</text>
<text x="608.8" y="100.85" text-anchor="end" style="font-family:'Liberation Sans', sans-serif;font-size:10.5px;fill:#111;stroke:#111;stroke-width:0.3">6.5</text>
<text x="608.8" y="73" text-anchor="end" style="font-family:'Liberation Sans', sans-serif;font-size:10.5px;fill:#111;stroke:#111;stroke-width:0.3">7.0</text>
<text x="608.8" y="45.15" text-anchor="end" style="font-family:'Liberation Sans', sans-serif;font-size:10.5px;fill:#111;stroke:#111;stroke-width:0.3">7.5</text>
<text x="608.8" y="17.3" text-anchor="end" style="font-family:'Liberation Sans', sans-serif;font-size:10.5px;fill:#111;stroke:#111;stroke-width:0.3">8.0</text>
<text x="1002" y="295.8" style="font-family:'Liberation Sans', sans-serif;font-size:10.5px;fill:#111;stroke:#111;stroke-width:0.3">0</text>
<text x="1002" y="267.95" style="font-family:'Liberation Sans', sans-serif;font-size:10.5px;fill:#111;stroke:#111;stroke-width:0.3">10</text>
<text x="1002" y="240.1" style="font-family:'Liberation Sans', sans-serif;font-size:10.5px;fill:#111;stroke:#111;stroke-width:0.3">20</text>
<text x="1002" y="212.25" style="font-family:'Liberation Sans', sans-serif;font-size:10.5px;fill:#111;stroke:#111;stroke-width:0.3">30</text>
<text x="1002" y="184.4" style="font-family:'Liberation Sans', sans-serif;font-size:10.5px;fill:#111;stroke:#111;stroke-width:0.3">40</text>
<text x="1002" y="156.55" style="font-family:'Liberation Sans', sans-serif;font-size:10.5px;fill:#111;stroke:#111;stroke-width:0.3">50</text>
<text x="1002" y="128.7" style="font-family:'Liberation Sans', sans-serif;font-size:10.5px;fill:#111;stroke:#111;stroke-width:0.3">60</text>
<text x="1002" y="100.85" style="font-family:'Liberation Sans', sans-serif;font-size:10.5px;fill:#111;stroke:#111;stroke-width:0.3">70</text>
<text x="1002" y="73" style="font-family:'Liberation Sans', sans-serif;font-size:10.5px;fill:#111;stroke:#111;stroke-width:0.3">80</text>
<text x="1002" y="45.15" style="font-family:'Liberation Sans', sans-serif;font-size:10.5px;fill:#111;stroke:#111;stroke-width:0.3">90</text>
<text x="1002" y="17.3" style="font-family:'Liberation Sans', sans-serif;font-size:10.5px;fill:#111;stroke:#111;stroke-width:0.3">100</text>
<text x="1069.3" y="295.8" style="font-family:'Liberation Sans', sans-serif;font-size:10.5px;fill:#111;stroke:#111;stroke-width:0.3">0</text>
<text x="1069.3" y="264.86" style="font-family:'Liberation Sans', sans-serif;font-size:10.5px;fill:#111;stroke:#111;stroke-width:0.3">20</text>
<text x="1069.3" y="233.91" style="font-family:'Liberation Sans', sans-serif;font-size:10.5px;fill:#111;stroke:#111;stroke-width:0.3">40</text>
<text x="1069.3" y="202.97" style="font-family:'Liberation Sans', sans-serif;font-size:10.5px;fill:#111;stroke:#111;stroke-width:0.3">60</text>
<text x="1069.3" y="172.02" style="font-family:'Liberation Sans', sans-serif;font-size:10.5px;fill:#111;stroke:#111;stroke-width:0.3">80</text>
<text x="1069.3" y="141.08" style="font-family:'Liberation Sans', sans-serif;font-size:10.5px;fill:#111;stroke:#111;stroke-width:0.3">100</text>
<text x="1069.3" y="110.13" style="font-family:'Liberation Sans', sans-serif;font-size:10.5px;fill:#111;stroke:#111;stroke-width:0.3">120</text>
<text x="1069.3" y="79.19" style="font-family:'Liberation Sans', sans-serif;font-size:10.5px;fill:#111;stroke:#111;stroke-width:0.3">140</text>
<text x="1069.3" y="48.24" style="font-family:'Liberation Sans', sans-serif;font-size:10.5px;fill:#111;stroke:#111;stroke-width:0.3">160</text>
<text x="1069.3" y="17.3" style="font-family:'Liberation Sans', sans-serif;font-size:10.5px;fill:#111;stroke:#111;stroke-width:0.3">180</text>
<text transform="translate(584.6 162.8) rotate(-90)" text-anchor="middle" style="font-family:'Liberation Serif', serif;font-size:16px;font-weight:bold;fill:#111">Tensile strength (MPa)</text>
<text transform="translate(1039.6 149) rotate(-90)" text-anchor="middle" style="font-family:'Liberation Serif', serif;font-size:16px;font-weight:bold;fill:#111">Tensile fracture strain (%)</text>
<text transform="translate(1119 145.5) rotate(-90)" text-anchor="middle" style="font-family:'Liberation Serif', serif;font-size:16px;font-weight:bold;fill:#111">Young&#39;s modulus (MPa)</text>
<text x="635.5" y="55" style="font-family:'Liberation Serif', serif;font-size:30px;font-weight:bold;fill:#111">(b)</text>
<rect x="623.95" y="198.3" width="14.2" height="93.7" fill="#ff1616" stroke="#111" stroke-width="1.1"/>
<rect x="638.15" y="128.4" width="14.2" height="163.6" fill="#22fc14" stroke="#111" stroke-width="1.1"/>
<rect x="652.35" y="195.3" width="14.2" height="96.7" fill="#0a36ff" stroke="#111" stroke-width="1.1"/>
<path d="M631.05 194 V203 M628.25 194 h5.6 M628.25 203 h5.6" stroke="#111" stroke-width="1.3" fill="none"/>
<path d="M645.25 112.2 V144.7 M642.45 112.2 h5.6 M642.45 144.7 h5.6" stroke="#111" stroke-width="1.3" fill="none"/>
<path d="M659.45 192.9 V197.7 M656.65 192.9 h5.6 M656.65 197.7 h5.6" stroke="#111" stroke-width="1.3" fill="none"/>
<text transform="translate(646.05 319.5) rotate(-45)" text-anchor="middle" dominant-baseline="central" style="font-family:'Liberation Sans', sans-serif;font-size:13px;fill:#111;stroke:#111;stroke-width:0.25">TPU-0CB</text>
<rect x="677.45" y="272.3" width="14.2" height="19.7" fill="#ff1616" stroke="#111" stroke-width="1.1"/>
<rect x="691.65" y="238.4" width="14.2" height="53.6" fill="#22fc14" stroke="#111" stroke-width="1.1"/>
<rect x="705.85" y="201.9" width="14.2" height="90.1" fill="#0a36ff" stroke="#111" stroke-width="1.1"/>
<path d="M684.55 269.6 V275.3 M681.75 269.6 h5.6 M681.75 275.3 h5.6" stroke="#111" stroke-width="1.3" fill="none"/>
<path d="M698.75 237.3 V239.5 M695.95 237.3 h5.6 M695.95 239.5 h5.6" stroke="#111" stroke-width="1.3" fill="none"/>
<path d="M712.95 189.4 V213.2 M710.15 189.4 h5.6 M710.15 213.2 h5.6" stroke="#111" stroke-width="1.3" fill="none"/>
<text transform="translate(698.75 319.5) rotate(-45)" text-anchor="middle" dominant-baseline="central" style="font-family:'Liberation Sans', sans-serif;font-size:13px;fill:#111;stroke:#111;stroke-width:0.25">TPU-2CB</text>
<rect x="730.95" y="192.4" width="14.2" height="99.6" fill="#ff1616" stroke="#111" stroke-width="1.1"/>
<rect x="745.15" y="190.6" width="14.2" height="101.4" fill="#22fc14" stroke="#111" stroke-width="1.1"/>
<rect x="759.35" y="154" width="14.2" height="138" fill="#0a36ff" stroke="#111" stroke-width="1.1"/>
<path d="M738.05 188.4 V195.2 M735.25 188.4 h5.6 M735.25 195.2 h5.6" stroke="#111" stroke-width="1.3" fill="none"/>
<path d="M752.25 184.3 V196.5 M749.45 184.3 h5.6 M749.45 196.5 h5.6" stroke="#111" stroke-width="1.3" fill="none"/>
<path d="M766.45 144.5 V163.5 M763.65 144.5 h5.6 M763.65 163.5 h5.6" stroke="#111" stroke-width="1.3" fill="none"/>
<text transform="translate(748.85 319.5) rotate(-45)" text-anchor="middle" dominant-baseline="central" style="font-family:'Liberation Sans', sans-serif;font-size:13px;fill:#111;stroke:#111;stroke-width:0.25">TPU-4CB</text>
<rect x="784.45" y="158.6" width="14.2" height="133.4" fill="#ff1616" stroke="#111" stroke-width="1.1"/>
<rect x="798.65" y="111.4" width="14.2" height="180.6" fill="#22fc14" stroke="#111" stroke-width="1.1"/>
<rect x="812.85" y="145.3" width="14.2" height="146.7" fill="#0a36ff" stroke="#111" stroke-width="1.1"/>
<path d="M791.55 153.2 V163.5 M788.75 153.2 h5.6 M788.75 163.5 h5.6" stroke="#111" stroke-width="1.3" fill="none"/>
<path d="M805.75 97.3 V125.2 M802.95 97.3 h5.6 M802.95 125.2 h5.6" stroke="#111" stroke-width="1.3" fill="none"/>
<path d="M819.95 140.7 V149.6 M817.15 140.7 h5.6 M817.15 149.6 h5.6" stroke="#111" stroke-width="1.3" fill="none"/>
<text transform="translate(802.95 319.5) rotate(-45)" text-anchor="middle" dominant-baseline="central" style="font-family:'Liberation Sans', sans-serif;font-size:13px;fill:#111;stroke:#111;stroke-width:0.25">TPU-6CB</text>
<rect x="837.95" y="148.6" width="14.2" height="143.4" fill="#ff1616" stroke="#111" stroke-width="1.1"/>
<rect x="852.15" y="165.4" width="14.2" height="126.6" fill="#22fc14" stroke="#111" stroke-width="1.1"/>
<rect x="866.35" y="136.9" width="14.2" height="155.1" fill="#0a36ff" stroke="#111" stroke-width="1.1"/>
<path d="M845.05 144.5 V153.2 M842.25 144.5 h5.6 M842.25 153.2 h5.6" stroke="#111" stroke-width="1.3" fill="none"/>
<path d="M859.25 152.6 V177.6 M856.45 152.6 h5.6 M856.45 177.6 h5.6" stroke="#111" stroke-width="1.3" fill="none"/>
<path d="M873.45 128.8 V145 M870.65 128.8 h5.6 M870.65 145 h5.6" stroke="#111" stroke-width="1.3" fill="none"/>
<text transform="translate(861.15 319.5) rotate(-45)" text-anchor="middle" dominant-baseline="central" style="font-family:'Liberation Sans', sans-serif;font-size:13px;fill:#111;stroke:#111;stroke-width:0.25">TPU-8CB</text>
<rect x="891.45" y="187" width="14.2" height="105" fill="#ff1616" stroke="#111" stroke-width="1.1"/>
<rect x="905.65" y="237.2" width="14.2" height="54.8" fill="#22fc14" stroke="#111" stroke-width="1.1"/>
<rect x="919.85" y="122.3" width="14.2" height="169.7" fill="#0a36ff" stroke="#111" stroke-width="1.1"/>
<path d="M898.55 185.7 V187.9 M895.75 185.7 h5.6 M895.75 187.9 h5.6" stroke="#111" stroke-width="1.3" fill="none"/>
<path d="M912.75 236.1 V238.5 M909.95 236.1 h5.6 M909.95 238.5 h5.6" stroke="#111" stroke-width="1.3" fill="none"/>
<path d="M926.95 115.5 V129.6 M924.15 115.5 h5.6 M924.15 129.6 h5.6" stroke="#111" stroke-width="1.3" fill="none"/>
<text transform="translate(910.85 319.5) rotate(-45)" text-anchor="middle" dominant-baseline="central" style="font-family:'Liberation Sans', sans-serif;font-size:13px;fill:#111;stroke:#111;stroke-width:0.25">TPU-10CB</text>
<rect x="944.95" y="189.5" width="14.2" height="102.5" fill="#ff1616" stroke="#111" stroke-width="1.1"/>
<rect x="959.15" y="237.3" width="14.2" height="54.7" fill="#22fc14" stroke="#111" stroke-width="1.1"/>
<rect x="973.35" y="105.7" width="14.2" height="186.3" fill="#0a36ff" stroke="#111" stroke-width="1.1"/>
<path d="M952.05 186.2 V192.2 M949.25 186.2 h5.6 M949.25 192.2 h5.6" stroke="#111" stroke-width="1.3" fill="none"/>
<path d="M966.25 236.5 V238.1 M963.45 236.5 h5.6 M963.45 238.1 h5.6" stroke="#111" stroke-width="1.3" fill="none"/>
<path d="M980.45 96.8 V114.6 M977.65 96.8 h5.6 M977.65 114.6 h5.6" stroke="#111" stroke-width="1.3" fill="none"/>
<text transform="translate(965.45 319.5) rotate(-45)" text-anchor="middle" dominant-baseline="central" style="font-family:'Liberation Sans', sans-serif;font-size:13px;fill:#111;stroke:#111;stroke-width:0.25">TPU-12CB</text>
<rect x="756" y="33.2" width="29" height="10.8" fill="#ff1616" stroke="#111" stroke-width="1.1"/>
<text x="789.5" y="43" style="font-family:'Liberation Serif', serif;font-size:13.2px;font-weight:bold;fill:#111">Tensile strength</text>
<rect x="756" y="49.7" width="29" height="10.8" fill="#22fc14" stroke="#111" stroke-width="1.1"/>
<text x="789.5" y="59.5" style="font-family:'Liberation Serif', serif;font-size:13.2px;font-weight:bold;fill:#111">Tensile fracture strain</text>
<rect x="756" y="66.2" width="29" height="10.8" fill="#0a36ff" stroke="#111" stroke-width="1.1"/>
<text x="789.5" y="76" style="font-family:'Liberation Serif', serif;font-size:13.2px;font-weight:bold;fill:#111">Young&#39;s modulus</text>
<g style="stroke:#111;stroke-width:1.8;fill:none">
<path d="M91.3 688.3 H591 V396.3 H91.3 Z"/>
<path d="M84.3 688.3 H91.3"/>
<path d="M87.8 670.05 H91.3"/>
<path d="M84.3 651.8 H91.3"/>
<path d="M87.8 633.55 H91.3"/>
<path d="M84.3 615.3 H91.3"/>
<path d="M87.8 597.05 H91.3"/>
<path d="M84.3 578.8 H91.3"/>
<path d="M87.8 560.55 H91.3"/>
<path d="M84.3 542.3 H91.3"/>
<path d="M87.8 524.05 H91.3"/>
<path d="M84.3 505.8 H91.3"/>
<path d="M87.8 487.55 H91.3"/>
<path d="M84.3 469.3 H91.3"/>
<path d="M87.8 451.05 H91.3"/>
<path d="M84.3 432.8 H91.3"/>
<path d="M87.8 414.55 H91.3"/>
<path d="M84.3 396.3 H91.3"/>
<path d="M91.3 688.3 V694.8"/>
<path d="M112.12 688.3 V691.8"/>
<path d="M132.94 688.3 V694.8"/>
<path d="M153.76 688.3 V691.8"/>
<path d="M174.58 688.3 V694.8"/>
<path d="M195.4 688.3 V691.8"/>
<path d="M216.22 688.3 V694.8"/>
<path d="M237.05 688.3 V691.8"/>
<path d="M257.87 688.3 V694.8"/>
<path d="M278.69 688.3 V691.8"/>
<path d="M299.51 688.3 V694.8"/>
<path d="M320.33 688.3 V691.8"/>
<path d="M341.15 688.3 V694.8"/>
<path d="M361.97 688.3 V691.8"/>
<path d="M382.79 688.3 V694.8"/>
<path d="M403.61 688.3 V691.8"/>
<path d="M424.43 688.3 V694.8"/>
<path d="M445.25 688.3 V691.8"/>
<path d="M466.07 688.3 V694.8"/>
<path d="M486.9 688.3 V691.8"/>
<path d="M507.72 688.3 V694.8"/>
<path d="M528.54 688.3 V691.8"/>
<path d="M549.36 688.3 V694.8"/>
<path d="M570.18 688.3 V691.8"/>
<path d="M591 688.3 V694.8"/>
</g>
<text transform="translate(80 692.7) scale(1.17 1)" text-anchor="end" style="font-family:'Liberation Sans', sans-serif;font-size:12.3px;fill:#111;stroke:#111;stroke-width:0.2">20</text>
<text transform="translate(80 656.2) scale(1.17 1)" text-anchor="end" style="font-family:'Liberation Sans', sans-serif;font-size:12.3px;fill:#111;stroke:#111;stroke-width:0.2">30</text>
<text transform="translate(80 619.7) scale(1.17 1)" text-anchor="end" style="font-family:'Liberation Sans', sans-serif;font-size:12.3px;fill:#111;stroke:#111;stroke-width:0.2">40</text>
<text transform="translate(80 583.2) scale(1.17 1)" text-anchor="end" style="font-family:'Liberation Sans', sans-serif;font-size:12.3px;fill:#111;stroke:#111;stroke-width:0.2">50</text>
<text transform="translate(80 546.7) scale(1.17 1)" text-anchor="end" style="font-family:'Liberation Sans', sans-serif;font-size:12.3px;fill:#111;stroke:#111;stroke-width:0.2">60</text>
<text transform="translate(80 510.2) scale(1.17 1)" text-anchor="end" style="font-family:'Liberation Sans', sans-serif;font-size:12.3px;fill:#111;stroke:#111;stroke-width:0.2">70</text>
<text transform="translate(80 473.7) scale(1.17 1)" text-anchor="end" style="font-family:'Liberation Sans', sans-serif;font-size:12.3px;fill:#111;stroke:#111;stroke-width:0.2">80</text>
<text transform="translate(80 437.2) scale(1.17 1)" text-anchor="end" style="font-family:'Liberation Sans', sans-serif;font-size:12.3px;fill:#111;stroke:#111;stroke-width:0.2">90</text>
<text transform="translate(80 400.7) scale(1.17 1)" text-anchor="end" style="font-family:'Liberation Sans', sans-serif;font-size:12.3px;fill:#111;stroke:#111;stroke-width:0.2">100</text>
<text transform="translate(91.3 707.7) scale(1.17 1)" text-anchor="middle" style="font-family:'Liberation Sans', sans-serif;font-size:12.3px;fill:#111;stroke:#111;stroke-width:0.2">0</text>
<text transform="translate(132.94 707.7) scale(1.17 1)" text-anchor="middle" style="font-family:'Liberation Sans', sans-serif;font-size:12.3px;fill:#111;stroke:#111;stroke-width:0.2">50</text>
<text transform="translate(174.58 707.7) scale(1.17 1)" text-anchor="middle" style="font-family:'Liberation Sans', sans-serif;font-size:12.3px;fill:#111;stroke:#111;stroke-width:0.2">100</text>
<text transform="translate(216.22 707.7) scale(1.17 1)" text-anchor="middle" style="font-family:'Liberation Sans', sans-serif;font-size:12.3px;fill:#111;stroke:#111;stroke-width:0.2">150</text>
<text transform="translate(257.87 707.7) scale(1.17 1)" text-anchor="middle" style="font-family:'Liberation Sans', sans-serif;font-size:12.3px;fill:#111;stroke:#111;stroke-width:0.2">200</text>
<text transform="translate(299.51 707.7) scale(1.17 1)" text-anchor="middle" style="font-family:'Liberation Sans', sans-serif;font-size:12.3px;fill:#111;stroke:#111;stroke-width:0.2">250</text>
<text transform="translate(341.15 707.7) scale(1.17 1)" text-anchor="middle" style="font-family:'Liberation Sans', sans-serif;font-size:12.3px;fill:#111;stroke:#111;stroke-width:0.2">300</text>
<text transform="translate(382.79 707.7) scale(1.17 1)" text-anchor="middle" style="font-family:'Liberation Sans', sans-serif;font-size:12.3px;fill:#111;stroke:#111;stroke-width:0.2">350</text>
<text transform="translate(424.43 707.7) scale(1.17 1)" text-anchor="middle" style="font-family:'Liberation Sans', sans-serif;font-size:12.3px;fill:#111;stroke:#111;stroke-width:0.2">400</text>
<text transform="translate(466.07 707.7) scale(1.17 1)" text-anchor="middle" style="font-family:'Liberation Sans', sans-serif;font-size:12.3px;fill:#111;stroke:#111;stroke-width:0.2">450</text>
<text transform="translate(507.72 707.7) scale(1.17 1)" text-anchor="middle" style="font-family:'Liberation Sans', sans-serif;font-size:12.3px;fill:#111;stroke:#111;stroke-width:0.2">500</text>
<text transform="translate(549.36 707.7) scale(1.17 1)" text-anchor="middle" style="font-family:'Liberation Sans', sans-serif;font-size:12.3px;fill:#111;stroke:#111;stroke-width:0.2">550</text>
<text transform="translate(591 707.7) scale(1.17 1)" text-anchor="middle" style="font-family:'Liberation Sans', sans-serif;font-size:12.3px;fill:#111;stroke:#111;stroke-width:0.2">600</text>
<text transform="translate(342 733) scale(1.245 1)" text-anchor="middle" style="font-family:'Liberation Sans', sans-serif;font-size:14.9px;fill:#111">Temperature (<tspan dy="-6.5" style="font-size:9.5px">0</tspan><tspan dy="6.5">C)</tspan></text>
<text transform="translate(25.3 547) rotate(-90)" text-anchor="middle" style="font-family:'Liberation Sans', sans-serif;font-size:14.5px;fill:#111">Weight loss (%)</text>
<g style="fill:none;stroke-width:1.2;stroke-linejoin:round">
<path stroke="#4a5a5c" d="M112.12 396.3 C113.51 397.39 116.98 399.83 120.45 402.87 C123.92 405.91 128.78 411.51 132.94 414.55 C137.11 417.59 141.27 419.54 145.43 421.12 C149.6 422.7 152.37 423.25 157.93 424.04 C163.48 424.83 169.03 425.13 178.75 425.86 C188.46 426.59 204.34 427.51 216.22 428.42 C228.11 429.33 238.78 429.7 250.04 431.34 C261.3 432.98 274.76 435.35 283.77 438.27 C292.78 441.19 297.32 444.36 304.09 448.86 C310.86 453.36 318.43 457.56 324.41 465.29 C330.39 473.01 336.08 487.25 339.98 495.21 C343.88 503.18 344.3 504.71 347.81 513.1 C351.32 521.5 357.58 538.04 361.05 545.59 C364.52 553.13 366.11 554.89 368.63 558.36 C371.16 561.83 374.6 564.69 376.21 566.39 C377.82 568.09 377.2 565.42 378.29 568.58 C379.39 571.74 379.89 581.05 382.79 585.37 C385.69 589.69 389.51 590.48 395.7 594.5 C401.89 598.51 410.15 603.62 419.94 609.46 C429.72 615.3 444.84 623.69 454.42 629.53 C463.99 635.38 471.29 639.88 477.4 644.5 C483.51 649.12 486.01 652.16 491.06 657.27 C496.11 662.38 504.94 672.18 507.72 675.16"/>
<path stroke="#e8609e" d="M112.12 396.3 C113.51 398.43 116.98 404.57 120.45 409.07 C123.92 413.58 128.78 419.3 132.94 423.31 C137.11 427.33 141.27 430.73 145.43 433.16 C149.6 435.6 152.37 436.51 157.93 437.91 C163.48 439.31 169.03 440.04 178.75 441.56 C188.46 443.08 204.34 445.09 216.22 447.04 C228.11 448.98 238.78 450.87 250.04 453.24 C261.3 455.61 274.76 458.11 283.77 461.27 C292.78 464.43 298.44 468.39 304.09 472.22 C309.74 476.05 313.6 479.52 317.66 484.26 C321.73 489.01 324.77 494.36 328.49 500.69 C332.21 507.02 336.75 515.41 339.98 522.22 C343.22 529.04 345.2 536.09 347.9 541.57 C350.59 547.04 353.48 551.18 356.14 555.08 C358.81 558.97 362.39 561.83 363.89 564.93 C365.39 568.03 363.69 569.8 365.14 573.69 C366.58 577.58 369.73 585 372.55 588.29 C375.37 591.57 378.18 591.09 382.04 593.4 C385.9 595.71 389.38 598.39 395.7 602.16 C402.02 605.93 410.15 611.28 419.94 616.03 C429.72 620.77 444.84 625.88 454.42 630.63 C463.99 635.38 471.29 640.24 477.4 644.5 C483.51 648.76 486.42 651.8 491.06 656.18 C495.7 660.56 502.86 668.35 505.22 670.78"/>
<path stroke="#7474f0" d="M112.12 396.3 C113.51 398.73 116.98 406.03 120.45 410.9 C123.92 415.77 128.78 421.42 132.94 425.5 C137.11 429.58 141.27 432.92 145.43 435.36 C149.6 437.79 152.37 438.82 157.93 440.1 C163.48 441.38 169.03 441.56 178.75 443.02 C188.46 444.48 204.34 446.61 216.22 448.86 C228.11 451.11 239.89 454.21 250.04 456.52 C260.18 458.84 269.67 459.69 277.11 462.73 C284.55 465.77 289.72 470.27 294.68 474.77 C299.63 479.28 302.55 484.08 306.84 489.74 C311.13 495.4 315.9 501.97 320.41 508.72 C324.92 515.47 329.06 522.53 333.9 530.25 C338.75 537.98 344 547.17 349.48 555.08 C354.96 562.98 360.12 571.38 366.8 577.71 C373.48 584.03 380.68 587.38 389.54 593.03 C398.39 598.69 409.12 606.48 419.94 611.65 C430.75 616.82 444.84 619.92 454.42 624.06 C463.99 628.2 471.29 633.06 477.4 636.47 C483.51 639.88 486.77 641.46 491.06 644.5 C495.35 647.54 501.12 653.02 503.14 654.72"/>
<path stroke="#44d8a4" d="M112.12 396.3 C113.51 398.55 116.98 405.18 120.45 409.81 C123.92 414.43 128.78 420.02 132.94 424.04 C137.11 428.05 141.27 431.46 145.43 433.89 C149.6 436.33 152.37 437.3 157.93 438.64 C163.48 439.98 169.03 440.65 178.75 441.93 C188.46 443.2 204.34 444.66 216.22 446.31 C228.11 447.95 238.78 449.53 250.04 451.78 C261.3 454.03 274.76 456.46 283.77 459.81 C292.78 463.16 298.44 467.54 304.09 471.86 C309.74 476.17 313.15 479.58 317.66 485.73 C322.18 491.87 327.44 502.15 331.16 508.72 C334.88 515.29 337.19 519.37 339.98 525.14 C342.77 530.92 343.43 534.03 347.9 543.39 C352.37 552.76 360.65 573.2 366.8 581.36 C372.95 589.51 375.93 586.83 384.79 592.3 C393.65 597.78 408.33 608.67 419.94 614.2 C431.54 619.74 444.84 621.81 454.42 625.52 C463.99 629.23 471.29 633.18 477.4 636.47 C483.51 639.75 486.77 642.37 491.06 645.23 C495.35 648.09 501.12 652.23 503.14 653.62"/>
<path stroke="#f05ce8" d="M112.12 396.3 C113.51 398.37 116.98 404.33 120.45 408.71 C123.92 413.09 128.78 418.57 132.94 422.58 C137.11 426.6 141.27 430.31 145.43 432.8 C149.6 435.29 152.37 436.15 157.93 437.54 C163.48 438.94 169.03 439.55 178.75 441.19 C188.46 442.84 204.34 445.21 216.22 447.4 C228.11 449.59 238.78 451.78 250.04 454.34 C261.3 456.89 275.2 459.57 283.77 462.73 C292.33 465.89 296.44 468.81 301.42 473.31 C306.41 477.82 309.6 483.84 313.67 489.74 C317.73 495.64 321.44 501.97 325.83 508.72 C330.21 515.47 336.31 524.17 339.98 530.25 C343.66 536.34 343.73 539.2 347.9 545.22 C352.06 551.24 361.18 561.95 364.97 566.39 C368.76 570.83 367.79 569.07 370.63 571.87 C373.48 574.66 377.14 579.35 382.04 583.18 C386.94 587.01 393.72 591.03 400.03 594.86 C406.35 598.69 411.9 602.46 419.94 606.17 C427.97 609.89 438.67 612.68 448.25 617.12 C457.83 621.57 470.27 628.87 477.4 632.82 C484.54 636.77 486.15 637.56 491.06 640.85 C495.97 644.13 504.25 650.58 506.88 652.53"/>
</g>
<g style="fill:none;stroke:#222;stroke-width:1.5;stroke-dasharray:4.5 3.2">
<ellipse cx="155.6" cy="430.3" rx="23.6" ry="21.6"/>
<ellipse cx="299.8" cy="465.5" rx="24.4" ry="35.3"/>
<ellipse cx="499.3" cy="652.5" rx="24.2" ry="27.4"/>
</g>
<rect x="434.5" y="403.2" width="143.5" height="87.6" fill="#fff" stroke="#6c7a80" stroke-width="1.1"/>
<path d="M437.2 412.2 H477.7" stroke="#4a5a5c" stroke-width="1.6"/>
<text transform="translate(483.3 417.4) scale(1.25 1)" style="font-family:'Liberation Sans', sans-serif;font-size:14.5px;fill:#111">Zein</text>
<path d="M437.2 429.7 H477.7" stroke="#e8609e" stroke-width="1.6"/>
<text transform="translate(483.3 434.9) scale(1.25 1)" style="font-family:'Liberation Sans', sans-serif;font-size:14.5px;fill:#111">0.3% AgSD</text>
<path d="M437.2 447.2 H477.7" stroke="#7474f0" stroke-width="1.6"/>
<text transform="translate(483.3 452.4) scale(1.25 1)" style="font-family:'Liberation Sans', sans-serif;font-size:14.5px;fill:#111">0.4% AgSD</text>
<path d="M437.2 464.7 H477.7" stroke="#44d8a4" stroke-width="1.6"/>
<text transform="translate(483.3 469.9) scale(1.25 1)" style="font-family:'Liberation Sans', sans-serif;font-size:14.5px;fill:#111">0.5% AgSD</text>
<path d="M437.2 482.2 H477.7" stroke="#f05ce8" stroke-width="1.6"/>
<text transform="translate(483.3 487.4) scale(1.25 1)" style="font-family:'Liberation Sans', sans-serif;font-size:14.5px;fill:#111">0.6% AgSD</text>
<rect x="685.3" y="451.8" width="510.6" height="100.8" fill="#000"/>
<rect x="684" y="557.2" width="512.3" height="99.4" fill="#000"/>
<defs>
<linearGradient id="gs" x1="0" y1="0" x2="0.3" y2="1"><stop offset="0" stop-color="#2a3038"/><stop offset="1" stop-color="#1c2636"/></linearGradient>
<linearGradient id="gs0" x1="0" y1="0" x2="0.3" y2="1"><stop offset="0" stop-color="#353a42"/><stop offset="1" stop-color="#283240"/></linearGradient>
<linearGradient id="ge" x1="0" y1="0" x2="0.3" y2="1"><stop offset="0" stop-color="#4a4948"/><stop offset="1" stop-color="#283644"/></linearGradient>
<linearGradient id="ge0" x1="0" y1="0" x2="0.3" y2="1"><stop offset="0" stop-color="#43464b"/><stop offset="1" stop-color="#333b47"/></linearGradient>
<linearGradient id="gsz" x1="0" y1="0" x2="0.3" y2="1"><stop offset="0" stop-color="#26302f"/><stop offset="1" stop-color="#1a2a32"/></linearGradient>
<linearGradient id="geb" x1="0" y1="0" x2="0.3" y2="1"><stop offset="0" stop-color="#4a4442"/><stop offset="1" stop-color="#263444"/></linearGradient>
<radialGradient id="edge" cx="0.5" cy="0.5" r="0.5"><stop offset="0.78" stop-color="#c8caca" stop-opacity="0"/><stop offset="1" stop-color="#c8caca" stop-opacity="0.28"/></radialGradient>
</defs>
<ellipse cx="736.6" cy="502" rx="49.5" ry="49.3" fill="#8e9292"/><ellipse cx="736.1" cy="502" rx="48.3" ry="48.1" fill="none" stroke="#c4c6c4" stroke-width="1.2" opacity="0.7"/><ellipse cx="736.6" cy="502" rx="46.9" ry="46.7" fill="#44484a"/><ellipse cx="736.6" cy="502" rx="45.5" ry="45.3" fill="url(#gs)"/><ellipse cx="736.6" cy="502" rx="45.5" ry="45.3" fill="url(#edge)"/><ellipse cx="736.6" cy="502" rx="44.5" ry="44.3" fill="none" stroke="#b0b4b4" stroke-width="1.3" opacity="0.4"/><g fill="#b4b48c"><circle cx="729.18" cy="516.77" r="0.85"/><circle cx="729.9" cy="492.7" r="0.85"/><circle cx="711.42" cy="496.25" r="0.85"/><circle cx="765.03" cy="512.8" r="0.85"/><circle cx="763.95" cy="508.54" r="0.85"/><circle cx="748.25" cy="507.44" r="0.85"/><circle cx="702.04" cy="519.66" r="0.85"/><circle cx="750.98" cy="516.1" r="0.85"/><circle cx="707.65" cy="472.28" r="0.85"/><circle cx="712.79" cy="489.53" r="0.85"/><circle cx="745.72" cy="500.64" r="0.85"/><circle cx="751.08" cy="484.23" r="0.85"/><circle cx="745.64" cy="513.49" r="0.85"/><circle cx="722.74" cy="537.85" r="0.85"/><circle cx="750.34" cy="531.41" r="0.85"/><circle cx="719.85" cy="482.12" r="0.85"/><circle cx="726.37" cy="498.85" r="0.85"/><circle cx="754.64" cy="509.06" r="0.85"/><circle cx="724.77" cy="476.81" r="0.85"/><circle cx="723.78" cy="531.94" r="0.85"/><circle cx="714.21" cy="508.75" r="0.85"/><circle cx="746.43" cy="467.82" r="0.85"/><circle cx="737.8" cy="534.21" r="0.85"/><circle cx="697.14" cy="495.73" r="0.85"/><circle cx="733.65" cy="479.37" r="0.85"/><circle cx="751.17" cy="500.18" r="0.85"/><circle cx="704.24" cy="520.21" r="0.85"/><circle cx="753.86" cy="526.27" r="0.85"/><circle cx="770.47" cy="510.48" r="0.85"/><circle cx="739.56" cy="469.94" r="0.85"/><circle cx="753.57" cy="485.21" r="0.85"/><circle cx="725.5" cy="471.13" r="0.85"/><circle cx="711.31" cy="488.18" r="0.85"/><circle cx="758.84" cy="467.1" r="0.85"/><circle cx="702.25" cy="507.62" r="0.85"/><circle cx="769.81" cy="515.25" r="0.85"/><circle cx="710.96" cy="468.17" r="0.85"/><circle cx="746.55" cy="481.59" r="0.85"/><circle cx="710.28" cy="524.87" r="0.85"/><circle cx="765.34" cy="506.08" r="0.85"/><circle cx="743.8" cy="514.67" r="0.85"/><circle cx="771.5" cy="515.49" r="0.85"/><circle cx="751.22" cy="517.37" r="0.85"/><circle cx="705.72" cy="527.12" r="0.85"/><circle cx="761.64" cy="515.82" r="0.85"/><circle cx="698.37" cy="489.78" r="0.85"/><circle cx="753.34" cy="466.16" r="0.85"/><circle cx="731.71" cy="528.97" r="0.85"/><circle cx="711.23" cy="533.01" r="0.85"/><circle cx="752.61" cy="497.66" r="0.85"/><circle cx="745.8" cy="520.32" r="0.85"/><circle cx="739.71" cy="531.45" r="0.85"/><circle cx="718.05" cy="490.42" r="0.85"/><circle cx="764.24" cy="502.71" r="0.85"/><circle cx="714.7" cy="525.43" r="0.85"/><circle cx="770.57" cy="491.74" r="0.85"/><circle cx="703.19" cy="498.75" r="0.85"/><circle cx="732.16" cy="493.16" r="0.85"/><circle cx="767.06" cy="479.83" r="0.85"/><circle cx="763.5" cy="475.06" r="0.85"/><circle cx="715.55" cy="518.81" r="0.85"/><circle cx="763.67" cy="522.51" r="0.85"/><circle cx="746.85" cy="506.21" r="0.85"/><circle cx="741.01" cy="518.56" r="0.85"/><circle cx="731.35" cy="510.23" r="0.85"/><circle cx="753.21" cy="502.02" r="0.85"/><circle cx="757.3" cy="517.26" r="0.85"/><circle cx="776.03" cy="508.34" r="0.85"/><circle cx="724.19" cy="491.23" r="0.85"/><circle cx="736.24" cy="527.06" r="0.85"/><circle cx="726.76" cy="513.23" r="0.85"/><circle cx="761.39" cy="467.55" r="0.85"/><circle cx="707.56" cy="508.27" r="0.85"/><circle cx="748.32" cy="508.99" r="0.85"/><circle cx="724.52" cy="520.28" r="0.85"/><circle cx="744.76" cy="486.97" r="0.85"/><circle cx="777.82" cy="508" r="0.85"/><circle cx="720.5" cy="499.12" r="0.85"/><circle cx="729.83" cy="500.13" r="0.85"/><circle cx="695" cy="494.61" r="0.85"/><circle cx="759.89" cy="475.14" r="0.85"/><circle cx="734.79" cy="527.69" r="0.85"/><circle cx="755.29" cy="534.4" r="0.85"/><circle cx="699.68" cy="494.37" r="0.85"/><circle cx="726.92" cy="519.62" r="0.85"/><circle cx="752.58" cy="462.91" r="0.85"/><circle cx="759.65" cy="471.48" r="0.85"/><circle cx="751.9" cy="468.74" r="0.85"/><circle cx="741.08" cy="532.27" r="0.85"/><circle cx="732.12" cy="507.7" r="0.85"/><circle cx="758.83" cy="505.93" r="0.85"/><circle cx="734.55" cy="537.33" r="0.85"/><circle cx="764.11" cy="494.33" r="0.85"/><circle cx="775.78" cy="485.71" r="0.85"/><circle cx="761.37" cy="494.84" r="0.85"/><circle cx="740.35" cy="521.91" r="0.85"/><circle cx="742.95" cy="520.16" r="0.85"/><circle cx="707.77" cy="473.63" r="0.85"/><circle cx="752.52" cy="477.18" r="0.85"/><circle cx="714.73" cy="470.82" r="0.85"/><circle cx="766.51" cy="519.55" r="0.85"/><circle cx="768.47" cy="481.8" r="0.85"/><circle cx="736.63" cy="472.6" r="0.85"/><circle cx="753.08" cy="536.03" r="0.85"/><circle cx="717.66" cy="535.06" r="0.85"/><circle cx="763.05" cy="497.26" r="0.85"/><circle cx="702.76" cy="526.03" r="0.85"/><circle cx="733.82" cy="484.68" r="0.85"/><circle cx="748.19" cy="513.84" r="0.85"/><circle cx="768.31" cy="480.5" r="0.85"/><circle cx="760.18" cy="532.72" r="0.85"/><circle cx="770.97" cy="497.74" r="0.85"/><circle cx="717.93" cy="527.44" r="0.85"/><circle cx="740.07" cy="505.72" r="0.85"/><circle cx="770.46" cy="495.77" r="0.85"/><circle cx="695.9" cy="495.17" r="0.85"/><circle cx="700.11" cy="518.04" r="0.85"/><circle cx="745.64" cy="484.66" r="0.85"/><circle cx="736.33" cy="525.02" r="0.85"/><circle cx="738.54" cy="534.51" r="0.85"/><circle cx="734.97" cy="529.48" r="0.85"/><circle cx="764.3" cy="531.76" r="0.85"/><circle cx="719.05" cy="524.88" r="0.85"/><circle cx="701.42" cy="481.78" r="0.85"/><circle cx="700.66" cy="521.49" r="0.85"/><circle cx="705.45" cy="501.68" r="0.85"/><circle cx="730.82" cy="501.14" r="0.85"/><circle cx="719.6" cy="508.69" r="0.85"/><circle cx="774.78" cy="502.94" r="0.85"/><circle cx="750.38" cy="527.85" r="0.85"/><circle cx="731.65" cy="470.66" r="0.85"/><circle cx="722.47" cy="529.2" r="0.85"/><circle cx="701.04" cy="489.14" r="0.85"/><circle cx="761.73" cy="521.69" r="0.85"/><circle cx="736.81" cy="524.38" r="0.85"/><circle cx="740.84" cy="471.99" r="0.85"/><circle cx="702.12" cy="487.98" r="0.85"/><circle cx="760.85" cy="487.2" r="0.85"/><circle cx="713.51" cy="482.36" r="0.85"/><circle cx="701.15" cy="499.3" r="0.85"/><circle cx="706.79" cy="511.16" r="0.85"/><circle cx="695.54" cy="507.68" r="0.85"/><circle cx="724.05" cy="464.19" r="0.85"/><circle cx="756.95" cy="494.3" r="0.85"/><circle cx="697.98" cy="486.91" r="0.85"/><circle cx="745.08" cy="488.7" r="0.85"/><circle cx="757.11" cy="521.57" r="0.85"/><circle cx="755.42" cy="511.18" r="0.85"/><circle cx="767.93" cy="517.43" r="0.85"/><circle cx="745.16" cy="462.63" r="0.85"/><circle cx="757.02" cy="531.7" r="0.85"/><circle cx="727.97" cy="488.41" r="0.85"/><circle cx="767.74" cy="473.91" r="0.85"/><circle cx="744.52" cy="542.75" r="0.85"/><circle cx="712.67" cy="519.71" r="0.85"/><circle cx="775.5" cy="499.53" r="0.85"/><circle cx="751.42" cy="525.72" r="0.85"/><circle cx="711.84" cy="499.58" r="0.85"/><circle cx="744.66" cy="524.62" r="0.85"/><circle cx="735.56" cy="496.15" r="0.85"/><circle cx="709.87" cy="492.6" r="0.85"/><circle cx="761.04" cy="504.78" r="0.85"/><circle cx="714.83" cy="480.62" r="0.85"/><circle cx="775.59" cy="518.59" r="0.85"/><circle cx="746.65" cy="461.29" r="0.85"/><circle cx="754.01" cy="515.41" r="0.85"/><circle cx="773.14" cy="511.24" r="0.85"/><circle cx="734.63" cy="517.18" r="0.85"/><circle cx="700.59" cy="521.05" r="0.85"/><circle cx="745.72" cy="482.37" r="0.85"/><circle cx="760.81" cy="534.89" r="0.85"/><circle cx="704.31" cy="486.73" r="0.85"/><circle cx="745.27" cy="507.44" r="0.85"/><circle cx="726.05" cy="476.33" r="0.85"/><circle cx="773.77" cy="520.1" r="0.85"/><circle cx="711.2" cy="473.53" r="0.85"/><circle cx="770.78" cy="521.76" r="0.85"/><circle cx="772.85" cy="518.06" r="0.85"/><circle cx="712.76" cy="509.09" r="0.85"/><circle cx="697.74" cy="488.6" r="0.85"/><circle cx="734.88" cy="517.19" r="0.85"/><circle cx="716.04" cy="498.5" r="0.85"/><circle cx="749.86" cy="512.85" r="0.85"/><circle cx="754.84" cy="507.95" r="0.85"/><circle cx="727.64" cy="523.73" r="0.85"/><circle cx="737.97" cy="479.14" r="0.85"/><circle cx="718.58" cy="501.99" r="0.85"/><circle cx="733.3" cy="506.7" r="0.85"/><circle cx="736.59" cy="507.27" r="0.85"/><circle cx="733.24" cy="470.61" r="0.85"/><circle cx="747.53" cy="529.21" r="0.85"/><circle cx="749.37" cy="496.47" r="0.85"/><circle cx="748.38" cy="476.62" r="0.85"/><circle cx="697.59" cy="503.22" r="0.85"/><circle cx="712.8" cy="520.84" r="0.85"/><circle cx="720.46" cy="463.03" r="0.85"/><circle cx="715.16" cy="534.4" r="0.85"/><circle cx="727.45" cy="469.33" r="0.85"/><circle cx="715.8" cy="516.13" r="0.85"/><circle cx="751.1" cy="507.14" r="0.85"/><circle cx="769.8" cy="517.74" r="0.85"/><circle cx="735.99" cy="519.17" r="0.85"/><circle cx="770.39" cy="521.75" r="0.85"/><circle cx="760.63" cy="476.69" r="0.85"/><circle cx="732.41" cy="522.51" r="0.85"/><circle cx="728.86" cy="529.78" r="0.85"/><circle cx="752.26" cy="525.74" r="0.85"/><circle cx="733.12" cy="543.56" r="0.85"/><circle cx="767.73" cy="496.62" r="0.85"/><circle cx="738.06" cy="543.77" r="0.85"/><circle cx="727.28" cy="525.64" r="0.85"/><circle cx="762.99" cy="502.18" r="0.85"/><circle cx="706.69" cy="506.78" r="0.85"/><circle cx="745.8" cy="530.79" r="0.85"/><circle cx="758.55" cy="502.68" r="0.85"/><circle cx="759.42" cy="516.37" r="0.85"/><circle cx="742.79" cy="503.65" r="0.85"/><circle cx="729.71" cy="521.34" r="0.85"/><circle cx="709.91" cy="486.15" r="0.85"/><circle cx="736.72" cy="467.51" r="0.85"/><circle cx="728.11" cy="463.03" r="0.85"/><circle cx="717.85" cy="517.54" r="0.85"/><circle cx="753.04" cy="500.42" r="0.85"/><circle cx="731.06" cy="468.34" r="0.85"/><circle cx="774.18" cy="512.56" r="0.85"/><circle cx="762.93" cy="480.85" r="0.85"/><circle cx="732.7" cy="463.87" r="0.85"/><circle cx="756.41" cy="525.63" r="0.85"/><circle cx="697.58" cy="500.93" r="0.85"/><circle cx="749.68" cy="465.6" r="0.85"/><circle cx="701.73" cy="481.75" r="0.85"/><circle cx="722.04" cy="469.69" r="0.85"/><circle cx="737.55" cy="509.45" r="0.85"/><circle cx="753.8" cy="520.96" r="0.85"/><circle cx="767.47" cy="525.81" r="0.85"/><circle cx="705.02" cy="489.89" r="0.85"/><circle cx="711.87" cy="477" r="0.85"/><circle cx="734.15" cy="502.16" r="0.85"/><circle cx="747.51" cy="466.85" r="0.85"/><circle cx="705.35" cy="501.42" r="0.85"/><circle cx="730.68" cy="492.8" r="0.85"/><circle cx="734.82" cy="480.72" r="0.85"/><circle cx="756.25" cy="511.88" r="0.85"/><circle cx="734.09" cy="482.9" r="0.85"/><circle cx="733.9" cy="460.08" r="0.85"/><circle cx="710.2" cy="503" r="0.85"/><circle cx="701.58" cy="506.62" r="0.85"/><circle cx="740.17" cy="468.78" r="0.85"/><circle cx="729.18" cy="492.75" r="0.85"/><circle cx="749.53" cy="519.13" r="0.85"/><circle cx="735.6" cy="478.56" r="0.85"/><circle cx="732.26" cy="500.04" r="0.85"/><circle cx="757.16" cy="510.2" r="0.85"/><circle cx="719.87" cy="470.78" r="0.85"/><circle cx="726.23" cy="481.52" r="0.85"/><circle cx="707.64" cy="498.99" r="0.85"/><circle cx="722.22" cy="505.07" r="0.85"/><circle cx="751.57" cy="490.24" r="0.85"/><circle cx="777.55" cy="496.36" r="0.85"/><circle cx="765.37" cy="505.16" r="0.85"/><circle cx="754.47" cy="464.13" r="0.85"/><circle cx="715.56" cy="508.88" r="0.85"/><circle cx="746.97" cy="542.05" r="0.85"/><circle cx="744.56" cy="533.45" r="0.85"/><circle cx="756.05" cy="525.94" r="0.85"/><circle cx="751.48" cy="497.47" r="0.85"/><circle cx="749.61" cy="474.57" r="0.85"/><circle cx="763.75" cy="478.73" r="0.85"/><circle cx="741.32" cy="542.02" r="0.85"/><circle cx="729.89" cy="502.58" r="0.85"/><circle cx="766.55" cy="502.67" r="0.85"/><circle cx="714.24" cy="509.12" r="0.85"/><circle cx="752.48" cy="521.29" r="0.85"/><circle cx="720.81" cy="537.67" r="0.85"/><circle cx="773.61" cy="502.4" r="0.85"/><circle cx="744.46" cy="489.52" r="0.85"/><circle cx="768.88" cy="485.98" r="0.85"/><circle cx="755.34" cy="488.73" r="0.85"/><circle cx="718" cy="521.18" r="0.85"/><circle cx="769.39" cy="501.75" r="0.85"/><circle cx="718.69" cy="523.36" r="0.85"/><circle cx="735.12" cy="511.23" r="0.85"/><circle cx="767.93" cy="525.17" r="0.85"/><circle cx="727.43" cy="542.11" r="0.85"/><circle cx="736.69" cy="523.92" r="0.85"/><circle cx="718.03" cy="500.72" r="0.85"/><circle cx="707.37" cy="531.71" r="0.85"/><circle cx="765.36" cy="476.53" r="0.85"/><circle cx="708.82" cy="472.21" r="0.85"/><circle cx="766.09" cy="490.53" r="0.85"/><circle cx="734.79" cy="492.71" r="0.85"/><circle cx="733.43" cy="473.62" r="0.85"/><circle cx="737.17" cy="467.86" r="0.85"/><circle cx="734.47" cy="511.17" r="0.85"/><circle cx="750.26" cy="495.26" r="0.85"/><circle cx="711.94" cy="506.34" r="0.85"/><circle cx="725.74" cy="536.93" r="0.85"/><circle cx="758.15" cy="498.78" r="0.85"/><circle cx="723.55" cy="482.63" r="0.85"/><circle cx="711.49" cy="492.59" r="0.85"/></g>
<ellipse cx="837.5" cy="502.3" rx="50.3" ry="49.3" fill="#8e9292"/><ellipse cx="837" cy="502.3" rx="49.1" ry="48.1" fill="none" stroke="#c4c6c4" stroke-width="1.2" opacity="0.7"/><ellipse cx="837.5" cy="502.3" rx="47.7" ry="46.7" fill="#44484a"/><ellipse cx="837.5" cy="502.3" rx="46.3" ry="45.3" fill="url(#gs)"/><ellipse cx="837.5" cy="502.3" rx="46.3" ry="45.3" fill="url(#edge)"/><ellipse cx="837.5" cy="502.3" rx="45.3" ry="44.3" fill="none" stroke="#b0b4b4" stroke-width="1.3" opacity="0.4"/><g fill="#b4b48c"><circle cx="846.18" cy="517.14" r="0.85"/><circle cx="848.33" cy="541.37" r="0.85"/><circle cx="817.1" cy="502.67" r="0.85"/><circle cx="873.6" cy="478.72" r="0.85"/><circle cx="822.05" cy="507.21" r="0.85"/><circle cx="842.14" cy="514.28" r="0.85"/><circle cx="830.33" cy="513.05" r="0.85"/><circle cx="839.01" cy="523.87" r="0.85"/><circle cx="800.39" cy="485.33" r="0.85"/><circle cx="837.44" cy="474.98" r="0.85"/><circle cx="810.51" cy="518.16" r="0.85"/><circle cx="819.41" cy="519.58" r="0.85"/><circle cx="858.69" cy="510.82" r="0.85"/><circle cx="852.61" cy="499.26" r="0.85"/><circle cx="803" cy="501.58" r="0.85"/><circle cx="850.66" cy="487.3" r="0.85"/><circle cx="834.65" cy="523.31" r="0.85"/><circle cx="814.03" cy="519.03" r="0.85"/><circle cx="875.9" cy="491.12" r="0.85"/><circle cx="841.98" cy="497.8" r="0.85"/><circle cx="873.38" cy="509.51" r="0.85"/><circle cx="861.22" cy="484.47" r="0.85"/><circle cx="837" cy="502" r="0.85"/><circle cx="804.99" cy="528.1" r="0.85"/><circle cx="855.89" cy="467.32" r="0.85"/><circle cx="858.85" cy="498.62" r="0.85"/><circle cx="850.73" cy="512.87" r="0.85"/><circle cx="801.94" cy="497.38" r="0.85"/><circle cx="871.98" cy="489.31" r="0.85"/><circle cx="814.64" cy="472.58" r="0.85"/><circle cx="806.36" cy="510.67" r="0.85"/><circle cx="874.78" cy="511.55" r="0.85"/><circle cx="842.06" cy="542.85" r="0.85"/><circle cx="822.87" cy="483.73" r="0.85"/><circle cx="852.64" cy="517.67" r="0.85"/><circle cx="813.68" cy="475.45" r="0.85"/><circle cx="846.29" cy="509.61" r="0.85"/><circle cx="804.69" cy="497.33" r="0.85"/><circle cx="821.81" cy="515.3" r="0.85"/><circle cx="833.92" cy="499.72" r="0.85"/><circle cx="828.11" cy="529.67" r="0.85"/><circle cx="871.26" cy="493.59" r="0.85"/><circle cx="859.84" cy="482.74" r="0.85"/><circle cx="839.57" cy="523.34" r="0.85"/><circle cx="872.89" cy="493.56" r="0.85"/><circle cx="835.23" cy="508.17" r="0.85"/><circle cx="801.79" cy="502.67" r="0.85"/><circle cx="818.17" cy="512.69" r="0.85"/><circle cx="816.74" cy="466.79" r="0.85"/><circle cx="838.67" cy="510.07" r="0.85"/><circle cx="822.68" cy="525.77" r="0.85"/><circle cx="829.54" cy="485.05" r="0.85"/><circle cx="848.4" cy="467.32" r="0.85"/><circle cx="817.81" cy="501.71" r="0.85"/><circle cx="861.35" cy="497.83" r="0.85"/><circle cx="846.4" cy="483.81" r="0.85"/><circle cx="844.27" cy="538.79" r="0.85"/><circle cx="825.68" cy="542.15" r="0.85"/><circle cx="818.69" cy="502.79" r="0.85"/><circle cx="842.19" cy="529.38" r="0.85"/><circle cx="816" cy="466.61" r="0.85"/><circle cx="854.03" cy="523.52" r="0.85"/><circle cx="847.4" cy="543.14" r="0.85"/><circle cx="843.72" cy="509.83" r="0.85"/><circle cx="862.85" cy="512.14" r="0.85"/><circle cx="870.29" cy="478.43" r="0.85"/><circle cx="832.79" cy="460.07" r="0.85"/><circle cx="860.18" cy="492.13" r="0.85"/><circle cx="854.08" cy="540.11" r="0.85"/><circle cx="837.32" cy="494.71" r="0.85"/><circle cx="823.8" cy="479.82" r="0.85"/><circle cx="819.91" cy="519.74" r="0.85"/><circle cx="838.63" cy="504.29" r="0.85"/><circle cx="832.7" cy="527.07" r="0.85"/><circle cx="852.2" cy="498.17" r="0.85"/><circle cx="856.81" cy="497.99" r="0.85"/><circle cx="813.02" cy="532.52" r="0.85"/><circle cx="850" cy="477.15" r="0.85"/><circle cx="866" cy="511.21" r="0.85"/><circle cx="808.44" cy="531.55" r="0.85"/><circle cx="846.7" cy="526.34" r="0.85"/><circle cx="843.54" cy="497.84" r="0.85"/><circle cx="804.31" cy="522.67" r="0.85"/><circle cx="838.42" cy="493.77" r="0.85"/><circle cx="848.12" cy="504.61" r="0.85"/><circle cx="856.83" cy="491.92" r="0.85"/><circle cx="836.8" cy="461.99" r="0.85"/><circle cx="825.45" cy="521.11" r="0.85"/><circle cx="870.46" cy="493.52" r="0.85"/><circle cx="834.69" cy="538.2" r="0.85"/><circle cx="828.24" cy="522.71" r="0.85"/><circle cx="875.29" cy="503.18" r="0.85"/><circle cx="867.46" cy="485.33" r="0.85"/><circle cx="843.85" cy="499.99" r="0.85"/><circle cx="840.53" cy="531.47" r="0.85"/><circle cx="878.42" cy="491.16" r="0.85"/><circle cx="821.02" cy="516.24" r="0.85"/><circle cx="809.86" cy="515.03" r="0.85"/><circle cx="854.23" cy="494.36" r="0.85"/><circle cx="849.62" cy="467.73" r="0.85"/><circle cx="854.37" cy="468.75" r="0.85"/><circle cx="818.04" cy="487.11" r="0.85"/><circle cx="826.43" cy="525.48" r="0.85"/><circle cx="839.96" cy="490.59" r="0.85"/><circle cx="849.76" cy="537.2" r="0.85"/><circle cx="837.69" cy="513.12" r="0.85"/><circle cx="869.1" cy="508.98" r="0.85"/><circle cx="817.77" cy="539.73" r="0.85"/><circle cx="869.65" cy="474.04" r="0.85"/><circle cx="836.32" cy="514.58" r="0.85"/><circle cx="862.74" cy="519.4" r="0.85"/><circle cx="830.23" cy="474.77" r="0.85"/><circle cx="840.28" cy="529.62" r="0.85"/><circle cx="811.52" cy="478.35" r="0.85"/><circle cx="836.99" cy="463.16" r="0.85"/><circle cx="829.75" cy="489.59" r="0.85"/><circle cx="850.24" cy="482.91" r="0.85"/><circle cx="813.25" cy="491.7" r="0.85"/><circle cx="836.05" cy="483.37" r="0.85"/><circle cx="837.85" cy="523.36" r="0.85"/><circle cx="860.84" cy="535.14" r="0.85"/><circle cx="815.6" cy="490.83" r="0.85"/><circle cx="803.09" cy="528.04" r="0.85"/><circle cx="816.6" cy="501.36" r="0.85"/><circle cx="850.12" cy="470.22" r="0.85"/><circle cx="851.39" cy="501.53" r="0.85"/><circle cx="798.64" cy="508.38" r="0.85"/><circle cx="859.9" cy="468.04" r="0.85"/><circle cx="860.31" cy="508.08" r="0.85"/><circle cx="851.37" cy="514.91" r="0.85"/><circle cx="870.23" cy="496.81" r="0.85"/><circle cx="861.52" cy="491.28" r="0.85"/><circle cx="856.93" cy="481.06" r="0.85"/><circle cx="835.1" cy="539.73" r="0.85"/><circle cx="850.83" cy="497.67" r="0.85"/><circle cx="809.32" cy="483.28" r="0.85"/><circle cx="842.83" cy="527.59" r="0.85"/><circle cx="849.89" cy="517.2" r="0.85"/><circle cx="836.46" cy="535.21" r="0.85"/><circle cx="826.13" cy="486.67" r="0.85"/><circle cx="862.31" cy="504.04" r="0.85"/><circle cx="829.35" cy="485.83" r="0.85"/><circle cx="830.03" cy="520.03" r="0.85"/><circle cx="846.54" cy="472.08" r="0.85"/><circle cx="850.27" cy="507.54" r="0.85"/><circle cx="811.98" cy="521.59" r="0.85"/><circle cx="829.08" cy="492.45" r="0.85"/><circle cx="856.22" cy="532.68" r="0.85"/><circle cx="817.97" cy="514.45" r="0.85"/><circle cx="822.47" cy="541.13" r="0.85"/><circle cx="825" cy="531.88" r="0.85"/><circle cx="820" cy="523.75" r="0.85"/><circle cx="866.06" cy="470.32" r="0.85"/><circle cx="824.84" cy="516.56" r="0.85"/><circle cx="834.8" cy="483.29" r="0.85"/><circle cx="878.77" cy="503.79" r="0.85"/><circle cx="802.55" cy="520.06" r="0.85"/><circle cx="803.53" cy="524.51" r="0.85"/><circle cx="820.49" cy="506.47" r="0.85"/><circle cx="869.66" cy="505.24" r="0.85"/><circle cx="811.19" cy="470.94" r="0.85"/><circle cx="866.57" cy="520.1" r="0.85"/><circle cx="816.24" cy="524.21" r="0.85"/><circle cx="851.58" cy="520.26" r="0.85"/><circle cx="796.03" cy="496.88" r="0.85"/><circle cx="861.11" cy="521.11" r="0.85"/><circle cx="851.94" cy="462.94" r="0.85"/><circle cx="842.53" cy="516.61" r="0.85"/><circle cx="877.73" cy="487.59" r="0.85"/><circle cx="827.51" cy="503.36" r="0.85"/><circle cx="861.72" cy="490.45" r="0.85"/><circle cx="865.73" cy="483.34" r="0.85"/><circle cx="845.36" cy="487.11" r="0.85"/><circle cx="842.07" cy="482.76" r="0.85"/><circle cx="804.48" cy="524.4" r="0.85"/><circle cx="846.38" cy="486.31" r="0.85"/><circle cx="842.97" cy="528.65" r="0.85"/><circle cx="810.74" cy="499.35" r="0.85"/><circle cx="852.97" cy="517.06" r="0.85"/><circle cx="831.03" cy="462.52" r="0.85"/><circle cx="869.03" cy="510.44" r="0.85"/><circle cx="837.9" cy="494" r="0.85"/><circle cx="845.35" cy="489.89" r="0.85"/><circle cx="811.35" cy="483.84" r="0.85"/><circle cx="820.7" cy="485.45" r="0.85"/><circle cx="808.4" cy="517.93" r="0.85"/><circle cx="805.97" cy="517.83" r="0.85"/><circle cx="810.3" cy="511.54" r="0.85"/><circle cx="871.34" cy="507.2" r="0.85"/><circle cx="816.45" cy="503.66" r="0.85"/><circle cx="840.77" cy="464.88" r="0.85"/><circle cx="819.7" cy="506.97" r="0.85"/><circle cx="823.47" cy="504.63" r="0.85"/><circle cx="857.24" cy="522.46" r="0.85"/><circle cx="861.74" cy="517.71" r="0.85"/><circle cx="828.74" cy="501.75" r="0.85"/><circle cx="829.34" cy="493.08" r="0.85"/><circle cx="833.53" cy="465" r="0.85"/><circle cx="827.4" cy="501.59" r="0.85"/><circle cx="810.78" cy="501.66" r="0.85"/><circle cx="852.79" cy="497.53" r="0.85"/><circle cx="864.55" cy="469.1" r="0.85"/><circle cx="833.09" cy="464.15" r="0.85"/><circle cx="852.42" cy="541.83" r="0.85"/><circle cx="795.02" cy="504.42" r="0.85"/><circle cx="852.77" cy="493.6" r="0.85"/><circle cx="847.52" cy="462.46" r="0.85"/><circle cx="861.11" cy="512.38" r="0.85"/><circle cx="838.17" cy="485.37" r="0.85"/><circle cx="855.65" cy="488.8" r="0.85"/><circle cx="844.1" cy="487.54" r="0.85"/><circle cx="795.79" cy="501.73" r="0.85"/><circle cx="843.27" cy="523.36" r="0.85"/><circle cx="812.95" cy="501.39" r="0.85"/><circle cx="855.56" cy="506.46" r="0.85"/><circle cx="859.77" cy="537.22" r="0.85"/><circle cx="819.9" cy="465.92" r="0.85"/><circle cx="856.33" cy="535.17" r="0.85"/><circle cx="861.25" cy="522.8" r="0.85"/><circle cx="820.41" cy="483.03" r="0.85"/><circle cx="860.12" cy="479.61" r="0.85"/><circle cx="801.7" cy="483.04" r="0.85"/><circle cx="871.81" cy="528.19" r="0.85"/><circle cx="818.78" cy="482.86" r="0.85"/><circle cx="844.1" cy="481.39" r="0.85"/><circle cx="870.49" cy="500.37" r="0.85"/><circle cx="813.21" cy="530.92" r="0.85"/><circle cx="820.41" cy="508.64" r="0.85"/><circle cx="837.12" cy="492.96" r="0.85"/><circle cx="846.8" cy="482.91" r="0.85"/><circle cx="809.84" cy="469.92" r="0.85"/><circle cx="807.1" cy="484.5" r="0.85"/><circle cx="836.79" cy="503.96" r="0.85"/><circle cx="853.93" cy="505.76" r="0.85"/><circle cx="816.18" cy="483.67" r="0.85"/><circle cx="796.48" cy="499.1" r="0.85"/><circle cx="851.5" cy="517.25" r="0.85"/><circle cx="833.79" cy="497.09" r="0.85"/><circle cx="863.41" cy="502.72" r="0.85"/><circle cx="857.9" cy="518.05" r="0.85"/><circle cx="842.85" cy="534.36" r="0.85"/><circle cx="820.85" cy="492.1" r="0.85"/><circle cx="816.17" cy="481.72" r="0.85"/><circle cx="865.38" cy="533.13" r="0.85"/><circle cx="838.18" cy="518.72" r="0.85"/><circle cx="866.14" cy="521.54" r="0.85"/><circle cx="864.05" cy="475.09" r="0.85"/><circle cx="819.25" cy="514.93" r="0.85"/><circle cx="872.33" cy="504.76" r="0.85"/><circle cx="813.71" cy="492.69" r="0.85"/><circle cx="819.83" cy="479.85" r="0.85"/><circle cx="871.88" cy="488.29" r="0.85"/><circle cx="837.89" cy="542.72" r="0.85"/><circle cx="868" cy="510.76" r="0.85"/><circle cx="819.89" cy="513.85" r="0.85"/><circle cx="873.33" cy="515.76" r="0.85"/><circle cx="869.68" cy="504.75" r="0.85"/><circle cx="852.79" cy="496.48" r="0.85"/><circle cx="848.08" cy="533.81" r="0.85"/><circle cx="802.7" cy="500.81" r="0.85"/><circle cx="844.55" cy="485.92" r="0.85"/><circle cx="828.81" cy="524" r="0.85"/><circle cx="876.62" cy="514.33" r="0.85"/><circle cx="845.07" cy="467.1" r="0.85"/><circle cx="877.43" cy="503.86" r="0.85"/><circle cx="836.6" cy="473.3" r="0.85"/><circle cx="835.99" cy="473.73" r="0.85"/><circle cx="839.62" cy="515.94" r="0.85"/><circle cx="838.45" cy="510.63" r="0.85"/><circle cx="818.23" cy="533.93" r="0.85"/><circle cx="823.98" cy="465.5" r="0.85"/><circle cx="832.15" cy="481" r="0.85"/><circle cx="810.41" cy="492.99" r="0.85"/><circle cx="845.03" cy="472.43" r="0.85"/><circle cx="834.16" cy="536.22" r="0.85"/><circle cx="857.27" cy="498" r="0.85"/><circle cx="841.41" cy="498.71" r="0.85"/><circle cx="836.12" cy="522.92" r="0.85"/><circle cx="835.87" cy="461" r="0.85"/><circle cx="836.9" cy="477.99" r="0.85"/><circle cx="855.69" cy="485.63" r="0.85"/><circle cx="840.32" cy="542.72" r="0.85"/><circle cx="812.84" cy="476.39" r="0.85"/><circle cx="815.65" cy="466.05" r="0.85"/><circle cx="798.38" cy="509.72" r="0.85"/><circle cx="824.48" cy="465.03" r="0.85"/><circle cx="803.32" cy="516.21" r="0.85"/><circle cx="815.69" cy="492.21" r="0.85"/><circle cx="845.62" cy="534.9" r="0.85"/><circle cx="874.14" cy="521.36" r="0.85"/><circle cx="841.89" cy="507.8" r="0.85"/><circle cx="870.35" cy="527.76" r="0.85"/><circle cx="828.31" cy="515.55" r="0.85"/><circle cx="846.23" cy="503.86" r="0.85"/><circle cx="825.29" cy="470.62" r="0.85"/><circle cx="825.3" cy="467.8" r="0.85"/><circle cx="868.1" cy="515.42" r="0.85"/><circle cx="811.79" cy="531.4" r="0.85"/><circle cx="854.88" cy="465.92" r="0.85"/><circle cx="874.58" cy="518.25" r="0.85"/><circle cx="873.79" cy="481.13" r="0.85"/><circle cx="852.92" cy="514.32" r="0.85"/><circle cx="843.65" cy="507.4" r="0.85"/><circle cx="860.08" cy="470.98" r="0.85"/><circle cx="811.22" cy="473.46" r="0.85"/><circle cx="821.71" cy="485.53" r="0.85"/><circle cx="848.51" cy="510.11" r="0.85"/><circle cx="838.41" cy="483.07" r="0.85"/><circle cx="825.59" cy="527.41" r="0.85"/><circle cx="859.34" cy="505.12" r="0.85"/><circle cx="830.02" cy="537.53" r="0.85"/><circle cx="820.86" cy="520.06" r="0.85"/><circle cx="867.58" cy="495.53" r="0.85"/><circle cx="857.84" cy="475.42" r="0.85"/><circle cx="864.92" cy="507.59" r="0.85"/><circle cx="802.27" cy="516.84" r="0.85"/><circle cx="816.64" cy="531.6" r="0.85"/><circle cx="817.83" cy="497.63" r="0.85"/><circle cx="846" cy="492.54" r="0.85"/><circle cx="845.12" cy="486.41" r="0.85"/><circle cx="857.05" cy="502.46" r="0.85"/><circle cx="840.79" cy="460.37" r="0.85"/><circle cx="867.96" cy="503.12" r="0.85"/><circle cx="798.74" cy="504.33" r="0.85"/><circle cx="849.73" cy="529.71" r="0.85"/><circle cx="814.76" cy="534.08" r="0.85"/><circle cx="834.69" cy="543.53" r="0.85"/><circle cx="833.26" cy="521.57" r="0.85"/><circle cx="827.92" cy="473.78" r="0.85"/><circle cx="864.24" cy="523.92" r="0.85"/><circle cx="871.22" cy="520.67" r="0.85"/><circle cx="824.93" cy="466.63" r="0.85"/><circle cx="819.5" cy="484.04" r="0.85"/><circle cx="815.27" cy="517.83" r="0.85"/><circle cx="847.36" cy="494.37" r="0.85"/><circle cx="842.77" cy="497.95" r="0.85"/><circle cx="843.57" cy="523.29" r="0.85"/><circle cx="862.54" cy="484.79" r="0.85"/><circle cx="807.82" cy="529.8" r="0.85"/><circle cx="840.54" cy="531.02" r="0.85"/><circle cx="800.47" cy="495.03" r="0.85"/><circle cx="838.16" cy="468.12" r="0.85"/><circle cx="823.08" cy="522.1" r="0.85"/><circle cx="859.88" cy="534.64" r="0.85"/><circle cx="817.85" cy="471.11" r="0.85"/><circle cx="851.45" cy="526.95" r="0.85"/><circle cx="842.36" cy="470.29" r="0.85"/><circle cx="858.26" cy="522.88" r="0.85"/><circle cx="853.42" cy="488.59" r="0.85"/><circle cx="846.07" cy="524.1" r="0.85"/><circle cx="825.91" cy="464.92" r="0.85"/><circle cx="847.19" cy="516.17" r="0.85"/><circle cx="837.88" cy="526.6" r="0.85"/><circle cx="820.22" cy="499.93" r="0.85"/><circle cx="828.59" cy="518.62" r="0.85"/><circle cx="874.17" cy="496.65" r="0.85"/><circle cx="871.73" cy="527.2" r="0.85"/><circle cx="859.14" cy="518.01" r="0.85"/><circle cx="876.07" cy="498.46" r="0.85"/><circle cx="834.49" cy="474.41" r="0.85"/></g>
<ellipse cx="940.3" cy="502.7" rx="49.6" ry="49.3" fill="#8e9292"/><ellipse cx="939.8" cy="502.7" rx="48.4" ry="48.1" fill="none" stroke="#c4c6c4" stroke-width="1.2" opacity="0.7"/><ellipse cx="940.3" cy="502.7" rx="47" ry="46.7" fill="#44484a"/><ellipse cx="940.3" cy="502.7" rx="45.6" ry="45.3" fill="url(#gs)"/><ellipse cx="940.3" cy="502.7" rx="45.6" ry="45.3" fill="url(#edge)"/><ellipse cx="940.3" cy="502.7" rx="44.6" ry="44.3" fill="none" stroke="#b0b4b4" stroke-width="1.3" opacity="0.4"/><g fill="#b4b48c"><circle cx="951.64" cy="534.75" r="0.85"/><circle cx="955.53" cy="514.72" r="0.85"/><circle cx="934.28" cy="507.76" r="0.85"/><circle cx="909.63" cy="525.12" r="0.85"/><circle cx="929.76" cy="474.49" r="0.85"/><circle cx="920.67" cy="481.31" r="0.85"/><circle cx="961.21" cy="528.4" r="0.85"/><circle cx="909.86" cy="523.33" r="0.85"/><circle cx="963.82" cy="487.46" r="0.85"/><circle cx="907.17" cy="486.2" r="0.85"/><circle cx="922.29" cy="512.37" r="0.85"/><circle cx="933.32" cy="463.41" r="0.85"/><circle cx="945.69" cy="467.52" r="0.85"/><circle cx="961.48" cy="474.66" r="0.85"/><circle cx="922.13" cy="480.45" r="0.85"/><circle cx="927.21" cy="533.8" r="0.85"/><circle cx="962.95" cy="518.59" r="0.85"/><circle cx="947.61" cy="467.53" r="0.85"/><circle cx="925.61" cy="487.23" r="0.85"/><circle cx="914.68" cy="515.95" r="0.85"/><circle cx="920.52" cy="483.88" r="0.85"/><circle cx="921.61" cy="466.13" r="0.85"/><circle cx="954.44" cy="534.11" r="0.85"/><circle cx="945" cy="476.6" r="0.85"/><circle cx="898.12" cy="505.38" r="0.85"/><circle cx="970.96" cy="510.14" r="0.85"/><circle cx="960.42" cy="534.56" r="0.85"/><circle cx="969.03" cy="491.52" r="0.85"/><circle cx="966.43" cy="521.83" r="0.85"/><circle cx="905.24" cy="493.52" r="0.85"/><circle cx="906.17" cy="500.1" r="0.85"/><circle cx="955.03" cy="475.69" r="0.85"/><circle cx="905.05" cy="524.81" r="0.85"/><circle cx="949.09" cy="536.78" r="0.85"/><circle cx="911.12" cy="525.92" r="0.85"/><circle cx="970.83" cy="532.04" r="0.85"/><circle cx="934.03" cy="510.68" r="0.85"/><circle cx="936.17" cy="529.27" r="0.85"/><circle cx="967.9" cy="505" r="0.85"/><circle cx="908.89" cy="519.71" r="0.85"/><circle cx="927.1" cy="520.24" r="0.85"/><circle cx="946.2" cy="538.85" r="0.85"/><circle cx="969.2" cy="491.32" r="0.85"/><circle cx="947.74" cy="540.05" r="0.85"/><circle cx="924.96" cy="514.99" r="0.85"/><circle cx="966.25" cy="529.91" r="0.85"/><circle cx="952.77" cy="471.17" r="0.85"/><circle cx="908.8" cy="508.84" r="0.85"/><circle cx="946.62" cy="543.98" r="0.85"/><circle cx="919.64" cy="529.8" r="0.85"/><circle cx="956.49" cy="467.81" r="0.85"/><circle cx="917.54" cy="507.29" r="0.85"/><circle cx="925.84" cy="498.21" r="0.85"/><circle cx="953.11" cy="480.8" r="0.85"/><circle cx="953.39" cy="484.96" r="0.85"/><circle cx="924.95" cy="517.73" r="0.85"/><circle cx="923.79" cy="510.91" r="0.85"/><circle cx="976.67" cy="503.31" r="0.85"/><circle cx="936.17" cy="523.35" r="0.85"/><circle cx="930.82" cy="530.6" r="0.85"/><circle cx="909.51" cy="517.45" r="0.85"/><circle cx="926.39" cy="481.15" r="0.85"/><circle cx="975.97" cy="485.68" r="0.85"/><circle cx="976.78" cy="516.28" r="0.85"/><circle cx="971.76" cy="481.69" r="0.85"/><circle cx="965.11" cy="532.64" r="0.85"/><circle cx="936.79" cy="498.83" r="0.85"/><circle cx="981.96" cy="505.69" r="0.85"/><circle cx="928.37" cy="485.04" r="0.85"/><circle cx="953.3" cy="512.27" r="0.85"/><circle cx="944.17" cy="539.97" r="0.85"/><circle cx="930.77" cy="516.36" r="0.85"/><circle cx="971.69" cy="481.25" r="0.85"/><circle cx="960.23" cy="537.62" r="0.85"/><circle cx="910.89" cy="479.04" r="0.85"/><circle cx="920.46" cy="467.65" r="0.85"/><circle cx="949.59" cy="464.86" r="0.85"/><circle cx="951.87" cy="536.18" r="0.85"/><circle cx="904.11" cy="495.66" r="0.85"/><circle cx="903.03" cy="517.74" r="0.85"/><circle cx="919.58" cy="495.28" r="0.85"/><circle cx="941.89" cy="518.5" r="0.85"/><circle cx="929.96" cy="503.15" r="0.85"/><circle cx="924.38" cy="506.02" r="0.85"/><circle cx="910.12" cy="504.33" r="0.85"/><circle cx="901.75" cy="492.99" r="0.85"/><circle cx="979.53" cy="504.32" r="0.85"/><circle cx="908.83" cy="509.08" r="0.85"/><circle cx="920.38" cy="469.1" r="0.85"/><circle cx="920.71" cy="522.17" r="0.85"/><circle cx="951.7" cy="499.84" r="0.85"/><circle cx="918.05" cy="476.97" r="0.85"/><circle cx="973.2" cy="508.62" r="0.85"/><circle cx="923.32" cy="465.28" r="0.85"/><circle cx="919.76" cy="539.57" r="0.85"/><circle cx="910.56" cy="500.72" r="0.85"/><circle cx="946.61" cy="498" r="0.85"/><circle cx="933.58" cy="469.74" r="0.85"/><circle cx="919.3" cy="536.22" r="0.85"/><circle cx="920.63" cy="524.53" r="0.85"/><circle cx="903.2" cy="496.74" r="0.85"/><circle cx="947.2" cy="529.91" r="0.85"/><circle cx="912.15" cy="517.53" r="0.85"/><circle cx="951.04" cy="482.31" r="0.85"/><circle cx="953.07" cy="478.84" r="0.85"/><circle cx="917.99" cy="502.18" r="0.85"/><circle cx="898.06" cy="501.01" r="0.85"/><circle cx="918.8" cy="471.46" r="0.85"/><circle cx="928.57" cy="523.62" r="0.85"/><circle cx="930.32" cy="533.72" r="0.85"/><circle cx="915.19" cy="474.48" r="0.85"/><circle cx="975.55" cy="511.7" r="0.85"/><circle cx="964.1" cy="482.02" r="0.85"/><circle cx="962.63" cy="509.86" r="0.85"/><circle cx="958.95" cy="503.42" r="0.85"/><circle cx="969.72" cy="486.98" r="0.85"/><circle cx="919.52" cy="471.06" r="0.85"/><circle cx="968.55" cy="484.85" r="0.85"/><circle cx="915.11" cy="480.17" r="0.85"/><circle cx="929.38" cy="471.7" r="0.85"/><circle cx="932.01" cy="484.91" r="0.85"/><circle cx="925.87" cy="477.75" r="0.85"/><circle cx="941.38" cy="489.2" r="0.85"/><circle cx="943.74" cy="510.13" r="0.85"/><circle cx="946.59" cy="462.52" r="0.85"/><circle cx="925.78" cy="481.27" r="0.85"/><circle cx="957.03" cy="468.84" r="0.85"/><circle cx="920.19" cy="494.48" r="0.85"/><circle cx="931.37" cy="528.86" r="0.85"/><circle cx="928.58" cy="528.07" r="0.85"/><circle cx="914.28" cy="470.75" r="0.85"/><circle cx="970.67" cy="513.48" r="0.85"/><circle cx="954.61" cy="506.29" r="0.85"/><circle cx="952.32" cy="472.73" r="0.85"/><circle cx="965.25" cy="488.8" r="0.85"/><circle cx="966.84" cy="505.05" r="0.85"/><circle cx="905.57" cy="480.2" r="0.85"/><circle cx="969.61" cy="499.17" r="0.85"/><circle cx="928.64" cy="509.8" r="0.85"/><circle cx="928.16" cy="487.25" r="0.85"/><circle cx="943.39" cy="507.02" r="0.85"/><circle cx="975.69" cy="503.76" r="0.85"/><circle cx="970.68" cy="531.64" r="0.85"/><circle cx="974.26" cy="523.56" r="0.85"/><circle cx="944.23" cy="506.81" r="0.85"/><circle cx="936.27" cy="482.15" r="0.85"/><circle cx="938.39" cy="484.39" r="0.85"/><circle cx="976.12" cy="514.29" r="0.85"/><circle cx="931.31" cy="464.39" r="0.85"/><circle cx="938.72" cy="490.45" r="0.85"/><circle cx="915.39" cy="476.8" r="0.85"/><circle cx="900.22" cy="512.77" r="0.85"/><circle cx="939.23" cy="544.45" r="0.85"/><circle cx="939.36" cy="498.26" r="0.85"/><circle cx="974.69" cy="505.87" r="0.85"/><circle cx="945.26" cy="491.75" r="0.85"/><circle cx="926.61" cy="536.38" r="0.85"/><circle cx="960.31" cy="536.79" r="0.85"/><circle cx="929.87" cy="503.59" r="0.85"/><circle cx="918.44" cy="526.54" r="0.85"/><circle cx="907.65" cy="515.84" r="0.85"/><circle cx="963.75" cy="532.69" r="0.85"/><circle cx="917.84" cy="528.56" r="0.85"/><circle cx="921.31" cy="482.69" r="0.85"/><circle cx="911.71" cy="527.51" r="0.85"/><circle cx="975.98" cy="489.92" r="0.85"/><circle cx="919.16" cy="493.33" r="0.85"/><circle cx="979.52" cy="518.31" r="0.85"/><circle cx="929.03" cy="465.67" r="0.85"/><circle cx="923.87" cy="531.5" r="0.85"/><circle cx="978.95" cy="497.22" r="0.85"/><circle cx="921.16" cy="488.68" r="0.85"/><circle cx="903.95" cy="520.09" r="0.85"/><circle cx="914.98" cy="527.32" r="0.85"/><circle cx="907.78" cy="478.67" r="0.85"/><circle cx="948.35" cy="481.52" r="0.85"/><circle cx="962.26" cy="502.93" r="0.85"/><circle cx="911.32" cy="517.94" r="0.85"/><circle cx="956.55" cy="466.03" r="0.85"/><circle cx="978.01" cy="512.9" r="0.85"/><circle cx="955.39" cy="466.04" r="0.85"/><circle cx="920.14" cy="492.98" r="0.85"/><circle cx="963.14" cy="471.96" r="0.85"/><circle cx="923.96" cy="465.43" r="0.85"/><circle cx="933.16" cy="512.88" r="0.85"/><circle cx="904.22" cy="490.13" r="0.85"/><circle cx="951.66" cy="537.76" r="0.85"/><circle cx="959.14" cy="494.14" r="0.85"/><circle cx="912.71" cy="480.91" r="0.85"/><circle cx="921.3" cy="506.88" r="0.85"/><circle cx="939.2" cy="539.54" r="0.85"/><circle cx="947.81" cy="474.85" r="0.85"/><circle cx="973.06" cy="522.7" r="0.85"/><circle cx="943.17" cy="482.38" r="0.85"/><circle cx="904.72" cy="483.39" r="0.85"/><circle cx="963.51" cy="482.4" r="0.85"/><circle cx="907.79" cy="507.49" r="0.85"/><circle cx="947.31" cy="520" r="0.85"/><circle cx="955.42" cy="534.99" r="0.85"/><circle cx="919.36" cy="526.95" r="0.85"/><circle cx="915.11" cy="520.29" r="0.85"/><circle cx="945.66" cy="509.93" r="0.85"/><circle cx="966.48" cy="502.23" r="0.85"/><circle cx="967.06" cy="523.62" r="0.85"/><circle cx="944.23" cy="486.36" r="0.85"/><circle cx="919.7" cy="488.38" r="0.85"/><circle cx="934.21" cy="501.96" r="0.85"/><circle cx="981.97" cy="511.56" r="0.85"/><circle cx="960.2" cy="480.59" r="0.85"/><circle cx="920.32" cy="493.79" r="0.85"/><circle cx="945.4" cy="475.41" r="0.85"/><circle cx="975.7" cy="490.41" r="0.85"/><circle cx="957.91" cy="464.8" r="0.85"/><circle cx="940.09" cy="510.97" r="0.85"/><circle cx="945.82" cy="519.93" r="0.85"/><circle cx="948.66" cy="507.52" r="0.85"/><circle cx="902.92" cy="488.7" r="0.85"/><circle cx="900.05" cy="513.43" r="0.85"/><circle cx="949.46" cy="496.92" r="0.85"/><circle cx="918.27" cy="487.21" r="0.85"/><circle cx="970.88" cy="531.2" r="0.85"/><circle cx="938.85" cy="534.62" r="0.85"/><circle cx="913.74" cy="470.55" r="0.85"/><circle cx="927.33" cy="479.36" r="0.85"/><circle cx="924.08" cy="508.12" r="0.85"/><circle cx="981.96" cy="493.66" r="0.85"/><circle cx="941.79" cy="510.93" r="0.85"/><circle cx="939.36" cy="527.91" r="0.85"/><circle cx="973.65" cy="479.5" r="0.85"/><circle cx="945.14" cy="494.83" r="0.85"/><circle cx="948.47" cy="467.81" r="0.85"/><circle cx="914.61" cy="469.07" r="0.85"/><circle cx="955.6" cy="508.26" r="0.85"/><circle cx="941.59" cy="461.5" r="0.85"/><circle cx="929.92" cy="481.86" r="0.85"/><circle cx="909.01" cy="482.57" r="0.85"/><circle cx="959.52" cy="517.59" r="0.85"/><circle cx="939.64" cy="517.67" r="0.85"/><circle cx="922.84" cy="504.75" r="0.85"/><circle cx="941.47" cy="518.75" r="0.85"/><circle cx="938.19" cy="498.41" r="0.85"/><circle cx="936.43" cy="484.31" r="0.85"/><circle cx="980.49" cy="511.89" r="0.85"/><circle cx="947.91" cy="543.1" r="0.85"/><circle cx="967.32" cy="472.92" r="0.85"/><circle cx="958.58" cy="524.59" r="0.85"/><circle cx="974.14" cy="526.16" r="0.85"/><circle cx="958.89" cy="474.49" r="0.85"/><circle cx="916.45" cy="510.01" r="0.85"/><circle cx="953.41" cy="476.35" r="0.85"/><circle cx="929.09" cy="491.11" r="0.85"/><circle cx="942.11" cy="512.67" r="0.85"/><circle cx="933.1" cy="471.88" r="0.85"/><circle cx="964.84" cy="534.01" r="0.85"/><circle cx="937.47" cy="529.85" r="0.85"/><circle cx="952.75" cy="521.07" r="0.85"/><circle cx="953.51" cy="481.9" r="0.85"/><circle cx="955.12" cy="528.61" r="0.85"/><circle cx="923.42" cy="539.48" r="0.85"/><circle cx="972.22" cy="530.36" r="0.85"/><circle cx="978.25" cy="516.77" r="0.85"/><circle cx="930.64" cy="485.68" r="0.85"/><circle cx="917.62" cy="505.91" r="0.85"/><circle cx="939.36" cy="521.77" r="0.85"/><circle cx="912.26" cy="534.58" r="0.85"/><circle cx="981.48" cy="502.21" r="0.85"/><circle cx="959.14" cy="515.86" r="0.85"/><circle cx="948.46" cy="496.51" r="0.85"/><circle cx="936.88" cy="479.91" r="0.85"/><circle cx="945.67" cy="501.98" r="0.85"/><circle cx="949.07" cy="479.45" r="0.85"/><circle cx="941.5" cy="504.14" r="0.85"/><circle cx="955.65" cy="475.87" r="0.85"/><circle cx="951.38" cy="528.51" r="0.85"/><circle cx="957.32" cy="492.26" r="0.85"/><circle cx="925.96" cy="495.85" r="0.85"/><circle cx="956.27" cy="536.49" r="0.85"/><circle cx="935.76" cy="484.38" r="0.85"/><circle cx="951.42" cy="508.71" r="0.85"/><circle cx="916.9" cy="483.83" r="0.85"/><circle cx="937.39" cy="521.79" r="0.85"/><circle cx="912.9" cy="479.48" r="0.85"/><circle cx="952.64" cy="472.63" r="0.85"/><circle cx="943.54" cy="513.11" r="0.85"/><circle cx="937.34" cy="475.69" r="0.85"/><circle cx="938.52" cy="492.85" r="0.85"/><circle cx="949.52" cy="479.84" r="0.85"/><circle cx="962.03" cy="469.57" r="0.85"/><circle cx="934.98" cy="502.93" r="0.85"/><circle cx="965.28" cy="487" r="0.85"/><circle cx="955.63" cy="486.89" r="0.85"/><circle cx="955.57" cy="538.39" r="0.85"/><circle cx="928.68" cy="515.45" r="0.85"/><circle cx="917.52" cy="526.45" r="0.85"/><circle cx="971.16" cy="503.59" r="0.85"/><circle cx="911.32" cy="512.91" r="0.85"/><circle cx="966.56" cy="527.44" r="0.85"/><circle cx="956.47" cy="466.54" r="0.85"/><circle cx="924.73" cy="535.06" r="0.85"/><circle cx="913.03" cy="527.7" r="0.85"/></g>
<ellipse cx="1040.7" cy="502.7" rx="48.7" ry="48.7" fill="#8e9292"/><ellipse cx="1040.2" cy="502.7" rx="47.5" ry="47.5" fill="none" stroke="#c4c6c4" stroke-width="1.2" opacity="0.7"/><ellipse cx="1040.7" cy="502.7" rx="46.1" ry="46.1" fill="#44484a"/><ellipse cx="1040.7" cy="502.7" rx="44.7" ry="44.7" fill="url(#gsz)"/><ellipse cx="1040.7" cy="502.7" rx="44.7" ry="44.7" fill="url(#edge)"/><ellipse cx="1040.7" cy="502.7" rx="43.7" ry="43.7" fill="none" stroke="#b0b4b4" stroke-width="1.3" opacity="0.4"/><g fill="#b4b48c"><circle cx="1077.03" cy="517.4" r="0.85"/><circle cx="1068.99" cy="494.3" r="0.85"/><circle cx="1010.25" cy="500.15" r="0.85"/><circle cx="1034.83" cy="501.3" r="0.85"/><circle cx="1060.13" cy="498.67" r="0.85"/><circle cx="1046.24" cy="514.95" r="0.85"/><circle cx="1040.59" cy="540.62" r="0.85"/><circle cx="1053.5" cy="505.15" r="0.85"/><circle cx="1034.86" cy="485.11" r="0.85"/><circle cx="1072.98" cy="506.3" r="0.85"/><circle cx="1013.8" cy="488.68" r="0.85"/><circle cx="1036.76" cy="489.84" r="0.85"/><circle cx="1064.94" cy="476.73" r="0.85"/><circle cx="1054.83" cy="506.82" r="0.85"/><circle cx="1011.04" cy="503.89" r="0.85"/><circle cx="1037.99" cy="517.1" r="0.85"/><circle cx="1027.82" cy="511.37" r="0.85"/><circle cx="1008.07" cy="481.47" r="0.85"/><circle cx="1059.81" cy="528.06" r="0.85"/><circle cx="1040.33" cy="485.7" r="0.85"/><circle cx="1059.37" cy="466.62" r="0.85"/><circle cx="1019.88" cy="520.21" r="0.85"/><circle cx="1056.95" cy="476.99" r="0.85"/><circle cx="1008.44" cy="527.52" r="0.85"/><circle cx="1044.81" cy="478.64" r="0.85"/><circle cx="1042.17" cy="526.94" r="0.85"/><circle cx="1002.5" cy="519.06" r="0.85"/><circle cx="1054.13" cy="464.94" r="0.85"/><circle cx="1056.05" cy="467.26" r="0.85"/><circle cx="1069.18" cy="512.66" r="0.85"/><circle cx="1079.84" cy="492.09" r="0.85"/><circle cx="1040.82" cy="529.96" r="0.85"/><circle cx="1023.68" cy="483.95" r="0.85"/><circle cx="1029.87" cy="500.58" r="0.85"/><circle cx="1013.49" cy="514.87" r="0.85"/><circle cx="1056.23" cy="504.74" r="0.85"/><circle cx="1077" cy="495.7" r="0.85"/><circle cx="1071.5" cy="489.82" r="0.85"/><circle cx="1055.05" cy="465.95" r="0.85"/><circle cx="1046.52" cy="497.54" r="0.85"/><circle cx="1027.08" cy="485.9" r="0.85"/><circle cx="1031.17" cy="482.94" r="0.85"/><circle cx="1001.78" cy="492.12" r="0.85"/><circle cx="1025.51" cy="488.2" r="0.85"/><circle cx="1013.3" cy="499.18" r="0.85"/><circle cx="1062.13" cy="495.87" r="0.85"/><circle cx="1029.18" cy="534.43" r="0.85"/><circle cx="1064.22" cy="524.9" r="0.85"/></g>
<ellipse cx="1143" cy="502" rx="50.7" ry="48.6" fill="#8e9292"/><ellipse cx="1142.5" cy="502" rx="49.5" ry="47.4" fill="none" stroke="#c4c6c4" stroke-width="1.2" opacity="0.7"/><ellipse cx="1143" cy="502" rx="48.1" ry="46" fill="#44484a"/><ellipse cx="1143" cy="502" rx="46.7" ry="44.6" fill="url(#gs0)"/><ellipse cx="1143" cy="502" rx="46.7" ry="44.6" fill="url(#edge)"/><ellipse cx="1143" cy="502" rx="45.7" ry="43.6" fill="none" stroke="#b0b4b4" stroke-width="1.3" opacity="0.4"/>
<ellipse cx="734.2" cy="607.9" rx="48.3" ry="47.9" fill="#9a9c9c"/><ellipse cx="733.7" cy="607.9" rx="47.1" ry="46.7" fill="none" stroke="#c4c6c4" stroke-width="1.2" opacity="0.7"/><ellipse cx="734.2" cy="607.9" rx="45.7" ry="45.3" fill="#44484a"/><ellipse cx="734.2" cy="607.9" rx="44.3" ry="43.9" fill="url(#ge)"/><ellipse cx="734.2" cy="607.9" rx="44.3" ry="43.9" fill="url(#edge)"/><ellipse cx="734.2" cy="607.9" rx="43.3" ry="42.9" fill="none" stroke="#b0b4b4" stroke-width="1.3" opacity="0.4"/><g fill="#c4c8c8"><circle cx="762.87" cy="599.86" r="0.85"/><circle cx="730.92" cy="635.84" r="0.85"/><circle cx="718.55" cy="604.55" r="0.85"/><circle cx="744.93" cy="618.38" r="0.85"/><circle cx="727.03" cy="633.18" r="0.85"/><circle cx="729.31" cy="627.63" r="0.85"/><circle cx="760.36" cy="623.86" r="0.85"/><circle cx="751.55" cy="580.72" r="0.85"/><circle cx="703.88" cy="593.72" r="0.85"/><circle cx="744.78" cy="640.99" r="0.85"/><circle cx="704.35" cy="615.32" r="0.85"/><circle cx="712.59" cy="589.54" r="0.85"/><circle cx="726.61" cy="626.72" r="0.85"/><circle cx="739.49" cy="636.91" r="0.85"/><circle cx="710.58" cy="629.01" r="0.85"/><circle cx="758.82" cy="609.72" r="0.85"/><circle cx="747.32" cy="592.55" r="0.85"/><circle cx="706.89" cy="597.84" r="0.85"/><circle cx="725.23" cy="647.85" r="0.85"/><circle cx="723.9" cy="642.62" r="0.85"/><circle cx="740.04" cy="616.84" r="0.85"/><circle cx="753.23" cy="588.14" r="0.85"/><circle cx="758.15" cy="617.64" r="0.85"/><circle cx="701.06" cy="620.92" r="0.85"/><circle cx="749.46" cy="620.29" r="0.85"/><circle cx="768.76" cy="598.95" r="0.85"/><circle cx="747.82" cy="627.63" r="0.85"/><circle cx="713.7" cy="634.97" r="0.85"/><circle cx="705.66" cy="582.56" r="0.85"/><circle cx="747.14" cy="581.18" r="0.85"/><circle cx="731.67" cy="572.48" r="0.85"/><circle cx="735.94" cy="579.56" r="0.85"/><circle cx="741.82" cy="574.07" r="0.85"/><circle cx="746.95" cy="600.4" r="0.85"/><circle cx="736.08" cy="605.94" r="0.85"/><circle cx="737.33" cy="576.53" r="0.85"/><circle cx="693.42" cy="608.44" r="0.85"/><circle cx="710.03" cy="596.27" r="0.85"/><circle cx="742.36" cy="570.28" r="0.85"/><circle cx="714.2" cy="592.06" r="0.85"/><circle cx="707.33" cy="616.13" r="0.85"/><circle cx="730.41" cy="585.93" r="0.85"/><circle cx="710.25" cy="627.36" r="0.85"/><circle cx="716.56" cy="623.41" r="0.85"/><circle cx="743.05" cy="570.97" r="0.85"/><circle cx="706.5" cy="607.98" r="0.85"/><circle cx="743.41" cy="628.7" r="0.85"/><circle cx="753.53" cy="632.58" r="0.85"/><circle cx="723.46" cy="601.91" r="0.85"/><circle cx="754.94" cy="596.63" r="0.85"/><circle cx="755.27" cy="576.5" r="0.85"/><circle cx="752.36" cy="603.13" r="0.85"/><circle cx="698.7" cy="625.42" r="0.85"/><circle cx="743.23" cy="608.5" r="0.85"/><circle cx="707.29" cy="596.38" r="0.85"/><circle cx="766.27" cy="590.51" r="0.85"/><circle cx="693.88" cy="598.04" r="0.85"/><circle cx="704.48" cy="604.66" r="0.85"/><circle cx="723.93" cy="584.3" r="0.85"/><circle cx="714.12" cy="632.66" r="0.85"/><circle cx="710.18" cy="640.17" r="0.85"/><circle cx="720.77" cy="581.18" r="0.85"/><circle cx="754.87" cy="622.58" r="0.85"/><circle cx="708.9" cy="625.9" r="0.85"/><circle cx="699.35" cy="590.57" r="0.85"/><circle cx="762.48" cy="601.54" r="0.85"/><circle cx="703.64" cy="619.85" r="0.85"/><circle cx="758.55" cy="607.31" r="0.85"/><circle cx="697.32" cy="600.9" r="0.85"/><circle cx="745.4" cy="628.3" r="0.85"/><circle cx="771.63" cy="602.84" r="0.85"/><circle cx="720.42" cy="606.82" r="0.85"/><circle cx="761.42" cy="586.85" r="0.85"/><circle cx="751.94" cy="570.88" r="0.85"/><circle cx="754.78" cy="590.63" r="0.85"/><circle cx="746.62" cy="626.35" r="0.85"/><circle cx="704.74" cy="605.77" r="0.85"/><circle cx="740.93" cy="624.18" r="0.85"/><circle cx="712.12" cy="584.57" r="0.85"/><circle cx="709.18" cy="640.62" r="0.85"/><circle cx="728.61" cy="601.49" r="0.85"/><circle cx="702.88" cy="627.21" r="0.85"/><circle cx="722.14" cy="639.98" r="0.85"/><circle cx="757.13" cy="608.46" r="0.85"/><circle cx="751.62" cy="581.51" r="0.85"/><circle cx="725.13" cy="592" r="0.85"/><circle cx="703.28" cy="608.31" r="0.85"/><circle cx="730.84" cy="640.85" r="0.85"/><circle cx="693.5" cy="599.82" r="0.85"/><circle cx="710.41" cy="595.99" r="0.85"/><circle cx="746.09" cy="619.17" r="0.85"/><circle cx="735.01" cy="594.47" r="0.85"/><circle cx="748.08" cy="617.91" r="0.85"/><circle cx="696.86" cy="602.64" r="0.85"/><circle cx="705.89" cy="583.79" r="0.85"/><circle cx="738.5" cy="609.65" r="0.85"/><circle cx="737.25" cy="584.7" r="0.85"/><circle cx="728.88" cy="583.98" r="0.85"/><circle cx="744.61" cy="626.5" r="0.85"/><circle cx="766.25" cy="630.81" r="0.85"/><circle cx="712.85" cy="595.88" r="0.85"/><circle cx="709.66" cy="615.83" r="0.85"/><circle cx="771.13" cy="620.99" r="0.85"/><circle cx="698.85" cy="587.88" r="0.85"/><circle cx="703.79" cy="619.91" r="0.85"/><circle cx="734.24" cy="616.54" r="0.85"/><circle cx="769.06" cy="591.87" r="0.85"/><circle cx="718.6" cy="643.75" r="0.85"/><circle cx="743.42" cy="587.12" r="0.85"/><circle cx="701.64" cy="583.66" r="0.85"/><circle cx="693.71" cy="609.02" r="0.85"/><circle cx="735.35" cy="633.59" r="0.85"/><circle cx="730.35" cy="588.9" r="0.85"/><circle cx="720.08" cy="643.8" r="0.85"/><circle cx="697.37" cy="611.49" r="0.85"/><circle cx="734.92" cy="625.04" r="0.85"/><circle cx="722.9" cy="621.72" r="0.85"/><circle cx="756.25" cy="603.95" r="0.85"/><circle cx="721.15" cy="602.64" r="0.85"/><circle cx="708.97" cy="602.52" r="0.85"/><circle cx="725.47" cy="613.92" r="0.85"/><circle cx="761.2" cy="634.08" r="0.85"/><circle cx="721.98" cy="624.3" r="0.85"/><circle cx="742.19" cy="628.35" r="0.85"/><circle cx="734.83" cy="615.57" r="0.85"/><circle cx="721.74" cy="587.24" r="0.85"/><circle cx="753.67" cy="636.63" r="0.85"/><circle cx="752.23" cy="619.66" r="0.85"/><circle cx="741.76" cy="595.23" r="0.85"/><circle cx="698.57" cy="621.03" r="0.85"/><circle cx="739.81" cy="592.44" r="0.85"/><circle cx="712.91" cy="635.84" r="0.85"/><circle cx="705.08" cy="636.07" r="0.85"/><circle cx="744.76" cy="646.67" r="0.85"/><circle cx="714.39" cy="607.3" r="0.85"/><circle cx="719.82" cy="612.26" r="0.85"/><circle cx="728.47" cy="587.65" r="0.85"/><circle cx="759.93" cy="589.28" r="0.85"/><circle cx="720.27" cy="622.97" r="0.85"/><circle cx="719.3" cy="595.96" r="0.85"/><circle cx="744.33" cy="597.53" r="0.85"/><circle cx="703.68" cy="605.42" r="0.85"/><circle cx="729.53" cy="643.78" r="0.85"/><circle cx="708.94" cy="630.01" r="0.85"/><circle cx="713.09" cy="598.43" r="0.85"/><circle cx="724.81" cy="615.6" r="0.85"/><circle cx="751.17" cy="641.97" r="0.85"/><circle cx="719.59" cy="638.14" r="0.85"/><circle cx="758.34" cy="627.42" r="0.85"/><circle cx="715.25" cy="630.17" r="0.85"/><circle cx="731.1" cy="618.02" r="0.85"/><circle cx="726.77" cy="626.06" r="0.85"/><circle cx="758.91" cy="632.73" r="0.85"/><circle cx="728.87" cy="633.52" r="0.85"/><circle cx="764.96" cy="588.27" r="0.85"/><circle cx="762.77" cy="582.22" r="0.85"/><circle cx="748.94" cy="623.89" r="0.85"/><circle cx="767.88" cy="614.17" r="0.85"/><circle cx="721.47" cy="586.99" r="0.85"/><circle cx="705.42" cy="625.36" r="0.85"/><circle cx="727.7" cy="588.41" r="0.85"/><circle cx="748.28" cy="587.84" r="0.85"/><circle cx="721.98" cy="595.19" r="0.85"/><circle cx="763.95" cy="633.96" r="0.85"/><circle cx="730.69" cy="573.31" r="0.85"/><circle cx="742.25" cy="609.97" r="0.85"/><circle cx="743.91" cy="623.5" r="0.85"/><circle cx="725.8" cy="631.91" r="0.85"/><circle cx="756.68" cy="613.5" r="0.85"/><circle cx="722.83" cy="594.57" r="0.85"/><circle cx="750.93" cy="581.59" r="0.85"/><circle cx="729.83" cy="587.57" r="0.85"/><circle cx="702.65" cy="621.44" r="0.85"/><circle cx="733.44" cy="608.94" r="0.85"/><circle cx="752.7" cy="576.58" r="0.85"/><circle cx="732.25" cy="616.21" r="0.85"/><circle cx="753.92" cy="582.43" r="0.85"/><circle cx="753.85" cy="613.87" r="0.85"/><circle cx="762.52" cy="631.46" r="0.85"/><circle cx="744.05" cy="646.05" r="0.85"/><circle cx="734.16" cy="595.81" r="0.85"/><circle cx="725.32" cy="583.61" r="0.85"/><circle cx="733.62" cy="570.41" r="0.85"/><circle cx="731.77" cy="620.01" r="0.85"/><circle cx="759.74" cy="599.03" r="0.85"/><circle cx="765.5" cy="593.36" r="0.85"/><circle cx="731.49" cy="570.48" r="0.85"/><circle cx="714.81" cy="587.93" r="0.85"/><circle cx="766.93" cy="619.41" r="0.85"/><circle cx="707.42" cy="620.72" r="0.85"/><circle cx="747.56" cy="601.48" r="0.85"/><circle cx="734.85" cy="599.32" r="0.85"/><circle cx="723.28" cy="572.55" r="0.85"/><circle cx="732.04" cy="638.27" r="0.85"/><circle cx="766.78" cy="601.62" r="0.85"/><circle cx="714.22" cy="602.29" r="0.85"/><circle cx="757.35" cy="616.88" r="0.85"/><circle cx="718.35" cy="617.64" r="0.85"/><circle cx="728.5" cy="622.03" r="0.85"/><circle cx="725.11" cy="575.41" r="0.85"/><circle cx="735.76" cy="628.09" r="0.85"/><circle cx="706.6" cy="605.25" r="0.85"/><circle cx="756.87" cy="598.32" r="0.85"/><circle cx="722.26" cy="644.79" r="0.85"/><circle cx="753.8" cy="631.95" r="0.85"/><circle cx="715.38" cy="640.08" r="0.85"/><circle cx="699.6" cy="597.18" r="0.85"/><circle cx="750.7" cy="637.28" r="0.85"/><circle cx="711.23" cy="591.65" r="0.85"/><circle cx="738.04" cy="570.55" r="0.85"/><circle cx="751.02" cy="622.5" r="0.85"/><circle cx="722.12" cy="622.28" r="0.85"/><circle cx="754.67" cy="615.98" r="0.85"/><circle cx="745.56" cy="640.51" r="0.85"/><circle cx="720.97" cy="612.34" r="0.85"/><circle cx="721.37" cy="633.06" r="0.85"/><circle cx="723.09" cy="620.71" r="0.85"/><circle cx="738.09" cy="609.77" r="0.85"/><circle cx="770.17" cy="606.14" r="0.85"/><circle cx="764.61" cy="625.46" r="0.85"/><circle cx="765.17" cy="604.07" r="0.85"/><circle cx="756.73" cy="626.09" r="0.85"/><circle cx="717.61" cy="615.1" r="0.85"/><circle cx="730.55" cy="606.9" r="0.85"/><circle cx="763.4" cy="591.89" r="0.85"/><circle cx="706.27" cy="579.26" r="0.85"/><circle cx="722.23" cy="591" r="0.85"/><circle cx="734.59" cy="623.23" r="0.85"/><circle cx="770.23" cy="614.17" r="0.85"/><circle cx="746.27" cy="588.94" r="0.85"/><circle cx="747.25" cy="638.15" r="0.85"/><circle cx="756.84" cy="575.21" r="0.85"/><circle cx="752.25" cy="639.7" r="0.85"/><circle cx="751.53" cy="576.85" r="0.85"/><circle cx="725.93" cy="623.58" r="0.85"/><circle cx="744.92" cy="587.16" r="0.85"/><circle cx="713.28" cy="630.38" r="0.85"/><circle cx="708.38" cy="635.39" r="0.85"/><circle cx="734.76" cy="616.25" r="0.85"/><circle cx="704.12" cy="594.59" r="0.85"/><circle cx="749.01" cy="576.57" r="0.85"/><circle cx="767.65" cy="585.44" r="0.85"/><circle cx="704.84" cy="608.93" r="0.85"/><circle cx="746.69" cy="626.74" r="0.85"/><circle cx="723.92" cy="602.21" r="0.85"/><circle cx="727.81" cy="592.49" r="0.85"/><circle cx="695.84" cy="622.07" r="0.85"/><circle cx="741.22" cy="612.3" r="0.85"/><circle cx="717.34" cy="614.57" r="0.85"/><circle cx="733.83" cy="605.75" r="0.85"/><circle cx="754.97" cy="575.85" r="0.85"/><circle cx="740.43" cy="581.76" r="0.85"/><circle cx="727.19" cy="640.67" r="0.85"/><circle cx="707.34" cy="605.45" r="0.85"/><circle cx="719.64" cy="631.05" r="0.85"/><circle cx="715.19" cy="575.55" r="0.85"/><circle cx="748.08" cy="598.43" r="0.85"/><circle cx="726.36" cy="634.19" r="0.85"/><circle cx="711.59" cy="598.48" r="0.85"/><circle cx="738.28" cy="619.21" r="0.85"/><circle cx="721.6" cy="632.9" r="0.85"/><circle cx="773.18" cy="600.86" r="0.85"/><circle cx="761.42" cy="577.48" r="0.85"/><circle cx="765.99" cy="600.2" r="0.85"/><circle cx="738.02" cy="598.55" r="0.85"/><circle cx="719.73" cy="579.13" r="0.85"/><circle cx="725.05" cy="637.67" r="0.85"/><circle cx="761.76" cy="599.56" r="0.85"/><circle cx="720.53" cy="589.89" r="0.85"/><circle cx="712.54" cy="640.16" r="0.85"/><circle cx="751.99" cy="611.01" r="0.85"/><circle cx="722.15" cy="583.07" r="0.85"/><circle cx="763.26" cy="624.98" r="0.85"/><circle cx="712.22" cy="630.51" r="0.85"/><circle cx="708.02" cy="622.94" r="0.85"/><circle cx="710.17" cy="597.63" r="0.85"/><circle cx="747.5" cy="619.41" r="0.85"/><circle cx="757.91" cy="588.46" r="0.85"/><circle cx="763.59" cy="632.69" r="0.85"/><circle cx="733.92" cy="620.59" r="0.85"/><circle cx="713.74" cy="603.93" r="0.85"/><circle cx="703.33" cy="609.96" r="0.85"/><circle cx="738.82" cy="638.73" r="0.85"/><circle cx="756.78" cy="627.13" r="0.85"/><circle cx="724.2" cy="601.75" r="0.85"/><circle cx="724.76" cy="614" r="0.85"/><circle cx="698.33" cy="622.09" r="0.85"/><circle cx="700.82" cy="597.02" r="0.85"/><circle cx="734.81" cy="593.97" r="0.85"/><circle cx="769.45" cy="605.85" r="0.85"/><circle cx="764.55" cy="630.35" r="0.85"/><circle cx="720.81" cy="618.6" r="0.85"/><circle cx="764.41" cy="600.22" r="0.85"/><circle cx="736.6" cy="592.85" r="0.85"/><circle cx="735.83" cy="598.15" r="0.85"/><circle cx="736.29" cy="632.95" r="0.85"/><circle cx="766.1" cy="610.92" r="0.85"/><circle cx="739.43" cy="629.85" r="0.85"/><circle cx="727.03" cy="581.98" r="0.85"/><circle cx="759.26" cy="586.99" r="0.85"/><circle cx="755.85" cy="585.66" r="0.85"/><circle cx="767.89" cy="588.86" r="0.85"/><circle cx="751.88" cy="638.84" r="0.85"/><circle cx="714.47" cy="638.12" r="0.85"/><circle cx="718.23" cy="573.99" r="0.85"/><circle cx="752.41" cy="625.43" r="0.85"/><circle cx="730.96" cy="567.93" r="0.85"/><circle cx="732.67" cy="599.44" r="0.85"/><circle cx="723.77" cy="600.01" r="0.85"/><circle cx="698.69" cy="596.75" r="0.85"/><circle cx="764.53" cy="633.72" r="0.85"/><circle cx="724.7" cy="589.37" r="0.85"/><circle cx="743.92" cy="633.69" r="0.85"/><circle cx="750.87" cy="581.19" r="0.85"/><circle cx="738.75" cy="611.8" r="0.85"/><circle cx="762.8" cy="631.46" r="0.85"/><circle cx="746.44" cy="636.06" r="0.85"/><circle cx="725.62" cy="640.97" r="0.85"/><circle cx="722.64" cy="618.55" r="0.85"/><circle cx="755.82" cy="586.59" r="0.85"/><circle cx="720.34" cy="573.52" r="0.85"/><circle cx="738.83" cy="606.37" r="0.85"/><circle cx="725.34" cy="621.28" r="0.85"/><circle cx="695.36" cy="607.47" r="0.85"/><circle cx="736.64" cy="600.53" r="0.85"/><circle cx="749.72" cy="641.83" r="0.85"/><circle cx="723.04" cy="584.59" r="0.85"/><circle cx="717.85" cy="610.39" r="0.85"/><circle cx="748.87" cy="586.55" r="0.85"/><circle cx="756.89" cy="584.86" r="0.85"/><circle cx="755.39" cy="618.75" r="0.85"/><circle cx="742.46" cy="645.97" r="0.85"/><circle cx="726.84" cy="603.32" r="0.85"/><circle cx="746.27" cy="629.56" r="0.85"/><circle cx="703.27" cy="614.19" r="0.85"/><circle cx="715.36" cy="623.76" r="0.85"/><circle cx="765.81" cy="609.08" r="0.85"/><circle cx="731.21" cy="613" r="0.85"/><circle cx="694.25" cy="618.22" r="0.85"/><circle cx="749.43" cy="612.32" r="0.85"/><circle cx="723.86" cy="588.99" r="0.85"/><circle cx="729.91" cy="636.71" r="0.85"/><circle cx="731.82" cy="638.88" r="0.85"/><circle cx="694.17" cy="600.81" r="0.85"/><circle cx="741.87" cy="607.53" r="0.85"/><circle cx="700.32" cy="594.46" r="0.85"/><circle cx="759.64" cy="581.86" r="0.85"/><circle cx="712.01" cy="583.55" r="0.85"/><circle cx="719.83" cy="624.48" r="0.85"/><circle cx="745.11" cy="570.97" r="0.85"/><circle cx="765.99" cy="595.12" r="0.85"/><circle cx="722.11" cy="641.83" r="0.85"/><circle cx="732.25" cy="578.58" r="0.85"/><circle cx="717.95" cy="589.59" r="0.85"/><circle cx="709.05" cy="599.68" r="0.85"/><circle cx="756.62" cy="616.77" r="0.85"/><circle cx="715.86" cy="644.59" r="0.85"/><circle cx="709.18" cy="610.8" r="0.85"/><circle cx="735.03" cy="627.84" r="0.85"/><circle cx="725.26" cy="620.21" r="0.85"/></g>
<ellipse cx="836.5" cy="607.4" rx="50.5" ry="48.4" fill="#9a9c9c"/><ellipse cx="836" cy="607.4" rx="49.3" ry="47.2" fill="none" stroke="#c4c6c4" stroke-width="1.2" opacity="0.7"/><ellipse cx="836.5" cy="607.4" rx="47.9" ry="45.8" fill="#44484a"/><ellipse cx="836.5" cy="607.4" rx="46.5" ry="44.4" fill="url(#geb)"/><ellipse cx="836.5" cy="607.4" rx="46.5" ry="44.4" fill="url(#edge)"/><ellipse cx="836.5" cy="607.4" rx="45.5" ry="43.4" fill="none" stroke="#b0b4b4" stroke-width="1.3" opacity="0.4"/><g fill="#c4c8c8"><circle cx="877.22" cy="609.17" r="0.85"/><circle cx="808.6" cy="615.47" r="0.85"/><circle cx="814.68" cy="597.81" r="0.85"/><circle cx="841.99" cy="616.77" r="0.85"/><circle cx="828.79" cy="629.34" r="0.85"/><circle cx="831.76" cy="576.8" r="0.85"/><circle cx="860.04" cy="598.09" r="0.85"/><circle cx="865.86" cy="592.28" r="0.85"/><circle cx="852.68" cy="615.89" r="0.85"/><circle cx="798.53" cy="587.34" r="0.85"/><circle cx="812.56" cy="636.09" r="0.85"/><circle cx="799.86" cy="624.31" r="0.85"/><circle cx="864.19" cy="619.38" r="0.85"/><circle cx="854.98" cy="594.44" r="0.85"/><circle cx="836.19" cy="613.72" r="0.85"/><circle cx="848.06" cy="625.94" r="0.85"/><circle cx="830.73" cy="588.73" r="0.85"/><circle cx="820.71" cy="618.4" r="0.85"/><circle cx="804.09" cy="584.07" r="0.85"/><circle cx="824.93" cy="592.58" r="0.85"/><circle cx="832.17" cy="566.72" r="0.85"/><circle cx="826.59" cy="600.44" r="0.85"/><circle cx="851.42" cy="571.11" r="0.85"/><circle cx="827.75" cy="620.34" r="0.85"/><circle cx="848.62" cy="635.66" r="0.85"/><circle cx="861.28" cy="583.9" r="0.85"/><circle cx="854.31" cy="598.46" r="0.85"/><circle cx="818.96" cy="639.35" r="0.85"/><circle cx="820" cy="586.05" r="0.85"/><circle cx="825.54" cy="585.56" r="0.85"/><circle cx="862.8" cy="616.87" r="0.85"/><circle cx="869.67" cy="616.69" r="0.85"/><circle cx="820.95" cy="632.66" r="0.85"/><circle cx="818.41" cy="595.22" r="0.85"/><circle cx="831.54" cy="608.51" r="0.85"/><circle cx="865.76" cy="593.24" r="0.85"/><circle cx="846.81" cy="606.63" r="0.85"/><circle cx="808.46" cy="584.13" r="0.85"/><circle cx="830.13" cy="618.59" r="0.85"/><circle cx="845.67" cy="620.48" r="0.85"/><circle cx="837.91" cy="594.98" r="0.85"/><circle cx="847.62" cy="582.46" r="0.85"/><circle cx="803.98" cy="599.71" r="0.85"/><circle cx="803.18" cy="595.96" r="0.85"/><circle cx="816.32" cy="593.12" r="0.85"/><circle cx="835.26" cy="586.28" r="0.85"/><circle cx="827.34" cy="572.06" r="0.85"/><circle cx="840.45" cy="584.54" r="0.85"/><circle cx="842.61" cy="566.62" r="0.85"/><circle cx="814.45" cy="613.78" r="0.85"/><circle cx="794.58" cy="601.5" r="0.85"/><circle cx="839.31" cy="610.32" r="0.85"/><circle cx="801.55" cy="612.52" r="0.85"/><circle cx="840.48" cy="582.6" r="0.85"/><circle cx="857.32" cy="606.09" r="0.85"/><circle cx="837.04" cy="594.92" r="0.85"/><circle cx="852.25" cy="610.07" r="0.85"/><circle cx="865.26" cy="618.29" r="0.85"/><circle cx="818.99" cy="601.36" r="0.85"/><circle cx="861.04" cy="598.09" r="0.85"/><circle cx="847.38" cy="621.55" r="0.85"/><circle cx="833.28" cy="567.52" r="0.85"/><circle cx="840.41" cy="613.44" r="0.85"/><circle cx="840.28" cy="587.2" r="0.85"/><circle cx="867.16" cy="604.14" r="0.85"/><circle cx="819.69" cy="588.95" r="0.85"/><circle cx="845.75" cy="580.55" r="0.85"/><circle cx="817.92" cy="642.82" r="0.85"/><circle cx="865.65" cy="629.76" r="0.85"/><circle cx="868.67" cy="620.78" r="0.85"/><circle cx="803.38" cy="629.8" r="0.85"/><circle cx="867.01" cy="618.92" r="0.85"/><circle cx="801.15" cy="628.82" r="0.85"/><circle cx="869.04" cy="596.21" r="0.85"/><circle cx="840.05" cy="628.04" r="0.85"/><circle cx="834.28" cy="634.76" r="0.85"/><circle cx="838.8" cy="626.05" r="0.85"/><circle cx="838.52" cy="574.05" r="0.85"/><circle cx="823.44" cy="647.03" r="0.85"/><circle cx="843.37" cy="638.15" r="0.85"/><circle cx="858.94" cy="639.65" r="0.85"/><circle cx="851.88" cy="591.63" r="0.85"/><circle cx="836.88" cy="569.61" r="0.85"/><circle cx="831.39" cy="630.89" r="0.85"/><circle cx="795.44" cy="610.97" r="0.85"/><circle cx="855.53" cy="636.65" r="0.85"/><circle cx="812.46" cy="591.26" r="0.85"/><circle cx="800.44" cy="588.71" r="0.85"/><circle cx="846.76" cy="645.32" r="0.85"/><circle cx="811.84" cy="635.7" r="0.85"/><circle cx="848.69" cy="593.93" r="0.85"/><circle cx="865.1" cy="576.05" r="0.85"/><circle cx="834.49" cy="613.62" r="0.85"/><circle cx="869.45" cy="633.92" r="0.85"/><circle cx="878.13" cy="609.75" r="0.85"/><circle cx="858.37" cy="636.42" r="0.85"/><circle cx="851.18" cy="617.25" r="0.85"/><circle cx="831.12" cy="595.98" r="0.85"/><circle cx="814.17" cy="641.18" r="0.85"/><circle cx="827.89" cy="569.14" r="0.85"/><circle cx="844.36" cy="606.44" r="0.85"/><circle cx="840.25" cy="644.31" r="0.85"/><circle cx="833.34" cy="599.87" r="0.85"/><circle cx="815.49" cy="606.8" r="0.85"/><circle cx="823.68" cy="613.11" r="0.85"/><circle cx="879.64" cy="612.58" r="0.85"/><circle cx="819.89" cy="643.09" r="0.85"/><circle cx="858.67" cy="627.37" r="0.85"/><circle cx="855.3" cy="627.95" r="0.85"/><circle cx="852.11" cy="638.52" r="0.85"/><circle cx="858.95" cy="636.09" r="0.85"/><circle cx="821.86" cy="607.34" r="0.85"/><circle cx="817.86" cy="630.75" r="0.85"/><circle cx="859.02" cy="595.36" r="0.85"/><circle cx="845.84" cy="647.4" r="0.85"/><circle cx="864.23" cy="583.53" r="0.85"/><circle cx="833.86" cy="624.76" r="0.85"/><circle cx="835.45" cy="618.29" r="0.85"/><circle cx="866.52" cy="615.37" r="0.85"/><circle cx="809.19" cy="624.36" r="0.85"/><circle cx="833.58" cy="610.66" r="0.85"/><circle cx="823.12" cy="576.24" r="0.85"/><circle cx="805.37" cy="598.98" r="0.85"/><circle cx="820.64" cy="568.98" r="0.85"/><circle cx="862.51" cy="582.3" r="0.85"/><circle cx="816.63" cy="621.3" r="0.85"/><circle cx="798.86" cy="627.39" r="0.85"/><circle cx="815.93" cy="624.25" r="0.85"/><circle cx="822.55" cy="615.85" r="0.85"/><circle cx="839.67" cy="607.37" r="0.85"/><circle cx="803.75" cy="582.26" r="0.85"/><circle cx="835.5" cy="639.95" r="0.85"/><circle cx="821.16" cy="621.68" r="0.85"/><circle cx="841.24" cy="620.86" r="0.85"/><circle cx="857.85" cy="576.64" r="0.85"/><circle cx="844.66" cy="602.36" r="0.85"/><circle cx="827.95" cy="585.11" r="0.85"/><circle cx="816.86" cy="582.86" r="0.85"/><circle cx="819.25" cy="645.03" r="0.85"/><circle cx="874.23" cy="607.61" r="0.85"/><circle cx="855.38" cy="583.71" r="0.85"/><circle cx="800.06" cy="584.63" r="0.85"/><circle cx="839.88" cy="640.3" r="0.85"/><circle cx="835.37" cy="581.78" r="0.85"/><circle cx="830.05" cy="582" r="0.85"/><circle cx="802.77" cy="602.04" r="0.85"/><circle cx="825.55" cy="586.18" r="0.85"/><circle cx="814.3" cy="585.16" r="0.85"/><circle cx="842.22" cy="639.55" r="0.85"/><circle cx="832.6" cy="646.94" r="0.85"/><circle cx="799.92" cy="613.31" r="0.85"/><circle cx="806.63" cy="603.43" r="0.85"/><circle cx="839.46" cy="622.85" r="0.85"/><circle cx="865.01" cy="594.04" r="0.85"/><circle cx="805.13" cy="602.87" r="0.85"/><circle cx="844.77" cy="588.64" r="0.85"/><circle cx="855.06" cy="640.76" r="0.85"/><circle cx="802.62" cy="615.63" r="0.85"/><circle cx="855.81" cy="572.58" r="0.85"/><circle cx="842.63" cy="601" r="0.85"/><circle cx="807.24" cy="633.2" r="0.85"/><circle cx="842.83" cy="594.09" r="0.85"/><circle cx="848.94" cy="624.6" r="0.85"/><circle cx="857.33" cy="622.38" r="0.85"/><circle cx="846.85" cy="578.98" r="0.85"/><circle cx="824.11" cy="611.01" r="0.85"/><circle cx="801.95" cy="632.78" r="0.85"/><circle cx="826.58" cy="581.12" r="0.85"/><circle cx="797.83" cy="612.45" r="0.85"/><circle cx="837.43" cy="591.29" r="0.85"/><circle cx="825.26" cy="584.55" r="0.85"/><circle cx="815.39" cy="604.77" r="0.85"/><circle cx="818.97" cy="625.03" r="0.85"/><circle cx="832.23" cy="611.17" r="0.85"/><circle cx="846.53" cy="637.38" r="0.85"/><circle cx="853.75" cy="613.65" r="0.85"/><circle cx="831.95" cy="586" r="0.85"/><circle cx="826.87" cy="625.71" r="0.85"/><circle cx="843.16" cy="596.53" r="0.85"/><circle cx="809.95" cy="578.25" r="0.85"/><circle cx="844.99" cy="633.26" r="0.85"/><circle cx="845.52" cy="575.8" r="0.85"/><circle cx="830.17" cy="613.7" r="0.85"/><circle cx="811.74" cy="616.32" r="0.85"/><circle cx="830.96" cy="585.39" r="0.85"/><circle cx="807.06" cy="625.74" r="0.85"/><circle cx="846.17" cy="584.45" r="0.85"/><circle cx="811.53" cy="628.31" r="0.85"/><circle cx="853.53" cy="599.1" r="0.85"/><circle cx="872.76" cy="601.11" r="0.85"/><circle cx="811.72" cy="631.83" r="0.85"/><circle cx="830.94" cy="617.13" r="0.85"/><circle cx="837.52" cy="581.76" r="0.85"/><circle cx="806.12" cy="602.66" r="0.85"/><circle cx="867.43" cy="586.33" r="0.85"/><circle cx="869.7" cy="612.54" r="0.85"/><circle cx="807.62" cy="614.01" r="0.85"/><circle cx="851.51" cy="584.7" r="0.85"/><circle cx="795.85" cy="613.89" r="0.85"/><circle cx="808.05" cy="618.18" r="0.85"/><circle cx="796.94" cy="604.6" r="0.85"/><circle cx="818.47" cy="575.94" r="0.85"/><circle cx="829.33" cy="612.26" r="0.85"/><circle cx="822.63" cy="579.36" r="0.85"/><circle cx="841.12" cy="571.11" r="0.85"/><circle cx="851.62" cy="620.63" r="0.85"/><circle cx="871.44" cy="624.95" r="0.85"/><circle cx="846.92" cy="614.78" r="0.85"/><circle cx="837.18" cy="576.11" r="0.85"/><circle cx="870.41" cy="619.05" r="0.85"/><circle cx="829.15" cy="579.31" r="0.85"/><circle cx="870.68" cy="619.09" r="0.85"/><circle cx="807.46" cy="623.1" r="0.85"/><circle cx="875.98" cy="606.95" r="0.85"/><circle cx="848.05" cy="595.95" r="0.85"/><circle cx="820.61" cy="633.28" r="0.85"/><circle cx="879.9" cy="608.97" r="0.85"/><circle cx="833.05" cy="628.48" r="0.85"/><circle cx="827.99" cy="626.81" r="0.85"/><circle cx="857.08" cy="583.33" r="0.85"/><circle cx="808.25" cy="605.54" r="0.85"/><circle cx="859.37" cy="614.66" r="0.85"/><circle cx="862.69" cy="579.69" r="0.85"/><circle cx="850.25" cy="590.84" r="0.85"/><circle cx="839.46" cy="616.48" r="0.85"/><circle cx="810.51" cy="601.55" r="0.85"/><circle cx="806.72" cy="613.89" r="0.85"/><circle cx="813.66" cy="594.74" r="0.85"/><circle cx="842.71" cy="589.72" r="0.85"/><circle cx="864.98" cy="592.33" r="0.85"/><circle cx="859.73" cy="614.78" r="0.85"/><circle cx="809.17" cy="601.9" r="0.85"/><circle cx="813.69" cy="598" r="0.85"/><circle cx="830.75" cy="644.17" r="0.85"/><circle cx="827" cy="641.33" r="0.85"/><circle cx="847.38" cy="577.07" r="0.85"/><circle cx="795.97" cy="618.73" r="0.85"/><circle cx="798" cy="620.65" r="0.85"/><circle cx="863.4" cy="617.13" r="0.85"/><circle cx="830.31" cy="600.32" r="0.85"/><circle cx="844.12" cy="598.91" r="0.85"/><circle cx="821.25" cy="597.34" r="0.85"/><circle cx="865.41" cy="592.78" r="0.85"/><circle cx="846.16" cy="579.47" r="0.85"/><circle cx="819.98" cy="577.01" r="0.85"/><circle cx="830.91" cy="625.78" r="0.85"/><circle cx="845.29" cy="593.88" r="0.85"/><circle cx="853.78" cy="598.05" r="0.85"/><circle cx="847.36" cy="615.01" r="0.85"/><circle cx="845.6" cy="567.71" r="0.85"/><circle cx="806.02" cy="624.67" r="0.85"/><circle cx="834.52" cy="647.01" r="0.85"/><circle cx="829.76" cy="592.32" r="0.85"/><circle cx="870.65" cy="619.51" r="0.85"/><circle cx="875.07" cy="617.28" r="0.85"/><circle cx="830.8" cy="626.75" r="0.85"/><circle cx="815.05" cy="595.8" r="0.85"/><circle cx="820.59" cy="601.33" r="0.85"/><circle cx="857.66" cy="594.93" r="0.85"/><circle cx="845.74" cy="593.76" r="0.85"/><circle cx="849.7" cy="568.12" r="0.85"/><circle cx="830.34" cy="612.17" r="0.85"/><circle cx="811.02" cy="630.23" r="0.85"/><circle cx="841.87" cy="637.75" r="0.85"/><circle cx="861.27" cy="623.15" r="0.85"/><circle cx="832.6" cy="580.34" r="0.85"/><circle cx="830.12" cy="594.69" r="0.85"/><circle cx="843.73" cy="594.58" r="0.85"/><circle cx="875.13" cy="588.13" r="0.85"/><circle cx="865.92" cy="596.17" r="0.85"/><circle cx="829.97" cy="631.17" r="0.85"/><circle cx="836.57" cy="578.04" r="0.85"/><circle cx="848.55" cy="601.98" r="0.85"/><circle cx="796.09" cy="611.11" r="0.85"/><circle cx="810.25" cy="589.74" r="0.85"/><circle cx="850.37" cy="615.61" r="0.85"/><circle cx="831.02" cy="646.43" r="0.85"/><circle cx="848.25" cy="591" r="0.85"/><circle cx="843.5" cy="603.98" r="0.85"/><circle cx="801.55" cy="583.57" r="0.85"/><circle cx="812.8" cy="640.99" r="0.85"/><circle cx="831.09" cy="599.64" r="0.85"/><circle cx="821.89" cy="631.61" r="0.85"/><circle cx="837.12" cy="643.29" r="0.85"/><circle cx="853.26" cy="640.75" r="0.85"/><circle cx="833.07" cy="617.88" r="0.85"/><circle cx="823.91" cy="602.72" r="0.85"/><circle cx="799.74" cy="595.63" r="0.85"/><circle cx="812.02" cy="591.41" r="0.85"/><circle cx="867.1" cy="613.68" r="0.85"/><circle cx="865.28" cy="626.62" r="0.85"/><circle cx="858.93" cy="630.76" r="0.85"/><circle cx="820.4" cy="627.76" r="0.85"/><circle cx="827.32" cy="592.98" r="0.85"/><circle cx="856.99" cy="642.79" r="0.85"/><circle cx="816.83" cy="640.72" r="0.85"/><circle cx="857.69" cy="586.78" r="0.85"/><circle cx="844.44" cy="617.69" r="0.85"/><circle cx="847.33" cy="597.58" r="0.85"/><circle cx="804.53" cy="608.14" r="0.85"/><circle cx="858.59" cy="626.59" r="0.85"/><circle cx="852.94" cy="633.55" r="0.85"/><circle cx="810.07" cy="606.32" r="0.85"/><circle cx="845.45" cy="632.46" r="0.85"/><circle cx="840.99" cy="621.62" r="0.85"/><circle cx="839.09" cy="646.22" r="0.85"/><circle cx="795.28" cy="606.96" r="0.85"/><circle cx="878.73" cy="611.24" r="0.85"/><circle cx="797.75" cy="610.1" r="0.85"/><circle cx="803.73" cy="592.59" r="0.85"/><circle cx="841.42" cy="643.18" r="0.85"/><circle cx="849.28" cy="625.01" r="0.85"/><circle cx="863.38" cy="612.44" r="0.85"/><circle cx="813.05" cy="604.84" r="0.85"/><circle cx="846.3" cy="599.72" r="0.85"/><circle cx="817.89" cy="597.86" r="0.85"/><circle cx="804.55" cy="586.61" r="0.85"/><circle cx="833.84" cy="597.33" r="0.85"/><circle cx="837.4" cy="639.64" r="0.85"/><circle cx="845.32" cy="606.5" r="0.85"/><circle cx="809.74" cy="583.96" r="0.85"/><circle cx="846.59" cy="585.01" r="0.85"/><circle cx="847.52" cy="581.11" r="0.85"/><circle cx="840.48" cy="605.34" r="0.85"/><circle cx="862.59" cy="597.6" r="0.85"/><circle cx="825.68" cy="614.21" r="0.85"/><circle cx="837.71" cy="643.07" r="0.85"/><circle cx="829.15" cy="592.79" r="0.85"/><circle cx="827.36" cy="620.35" r="0.85"/><circle cx="843.05" cy="625.9" r="0.85"/><circle cx="815.46" cy="643.34" r="0.85"/><circle cx="875.36" cy="606.77" r="0.85"/><circle cx="805.95" cy="611.13" r="0.85"/><circle cx="844.11" cy="568.37" r="0.85"/><circle cx="836.82" cy="574.16" r="0.85"/><circle cx="847.37" cy="638.67" r="0.85"/><circle cx="858.42" cy="576.93" r="0.85"/><circle cx="867.44" cy="626.75" r="0.85"/><circle cx="826.23" cy="621.03" r="0.85"/><circle cx="871.5" cy="600.1" r="0.85"/><circle cx="836.05" cy="592.1" r="0.85"/><circle cx="856.5" cy="571.87" r="0.85"/><circle cx="867.65" cy="587.15" r="0.85"/><circle cx="855.87" cy="574.98" r="0.85"/><circle cx="812.2" cy="592.61" r="0.85"/><circle cx="854.1" cy="574.54" r="0.85"/><circle cx="852.94" cy="590.87" r="0.85"/><circle cx="867.4" cy="600.02" r="0.85"/><circle cx="850.52" cy="602.68" r="0.85"/><circle cx="874.5" cy="600.12" r="0.85"/><circle cx="836" cy="645.55" r="0.85"/><circle cx="838.68" cy="625.82" r="0.85"/><circle cx="815.99" cy="612.7" r="0.85"/><circle cx="794.92" cy="609.24" r="0.85"/><circle cx="821.95" cy="575.14" r="0.85"/><circle cx="806.39" cy="630.55" r="0.85"/><circle cx="846.28" cy="574.26" r="0.85"/><circle cx="873.56" cy="593.84" r="0.85"/><circle cx="825.78" cy="614.23" r="0.85"/><circle cx="813.53" cy="576.23" r="0.85"/><circle cx="818.52" cy="634.58" r="0.85"/><circle cx="856.57" cy="575.62" r="0.85"/><circle cx="867.03" cy="608.22" r="0.85"/><circle cx="850.95" cy="608.82" r="0.85"/><circle cx="847.3" cy="582.49" r="0.85"/><circle cx="813.13" cy="590.16" r="0.85"/><circle cx="826.18" cy="623.95" r="0.85"/><circle cx="812.15" cy="637.84" r="0.85"/><circle cx="819.22" cy="592.06" r="0.85"/><circle cx="855.85" cy="618.79" r="0.85"/><circle cx="827.73" cy="580.99" r="0.85"/><circle cx="815.68" cy="575.67" r="0.85"/><circle cx="862.7" cy="631.08" r="0.85"/><circle cx="874.78" cy="617.15" r="0.85"/><circle cx="845.66" cy="627.27" r="0.85"/><circle cx="861.87" cy="600.81" r="0.85"/><circle cx="843.15" cy="646.19" r="0.85"/><circle cx="804.72" cy="582.24" r="0.85"/><circle cx="812.18" cy="625.55" r="0.85"/><circle cx="866.4" cy="599.27" r="0.85"/><circle cx="855.46" cy="606.1" r="0.85"/><circle cx="845.04" cy="592.73" r="0.85"/><circle cx="835.69" cy="607.27" r="0.85"/><circle cx="855.69" cy="643.53" r="0.85"/><circle cx="798.79" cy="617.95" r="0.85"/><circle cx="836.37" cy="632.13" r="0.85"/><circle cx="862.66" cy="625.75" r="0.85"/><circle cx="856.8" cy="584.66" r="0.85"/><circle cx="806.42" cy="635.49" r="0.85"/><circle cx="864.51" cy="586.35" r="0.85"/><circle cx="867.15" cy="622.51" r="0.85"/><circle cx="796.36" cy="621.43" r="0.85"/><circle cx="813.55" cy="633.25" r="0.85"/><circle cx="818.41" cy="588.57" r="0.85"/><circle cx="800.92" cy="602.64" r="0.85"/><circle cx="862.23" cy="591.21" r="0.85"/><circle cx="808.22" cy="638.5" r="0.85"/><circle cx="873.88" cy="620.74" r="0.85"/><circle cx="823.27" cy="578.97" r="0.85"/><circle cx="800.67" cy="619.05" r="0.85"/></g>
<ellipse cx="940" cy="607.7" rx="49.3" ry="48.6" fill="#9a9c9c"/><ellipse cx="939.5" cy="607.7" rx="48.1" ry="47.4" fill="none" stroke="#c4c6c4" stroke-width="1.2" opacity="0.7"/><ellipse cx="940" cy="607.7" rx="46.7" ry="46" fill="#44484a"/><ellipse cx="940" cy="607.7" rx="45.3" ry="44.6" fill="url(#ge)"/><ellipse cx="940" cy="607.7" rx="45.3" ry="44.6" fill="url(#edge)"/><ellipse cx="940" cy="607.7" rx="44.3" ry="43.6" fill="none" stroke="#b0b4b4" stroke-width="1.3" opacity="0.4"/><g fill="#c4c8c8"><circle cx="968.14" cy="585.11" r="0.85"/><circle cx="939.99" cy="599.86" r="0.85"/><circle cx="932.84" cy="621.49" r="0.85"/><circle cx="978.41" cy="596.19" r="0.85"/><circle cx="960.06" cy="632.99" r="0.85"/><circle cx="931.86" cy="603.51" r="0.85"/><circle cx="911.35" cy="630.37" r="0.85"/><circle cx="925.8" cy="590.48" r="0.85"/><circle cx="941.79" cy="585.18" r="0.85"/><circle cx="913.48" cy="600.24" r="0.85"/><circle cx="973.93" cy="603.09" r="0.85"/><circle cx="951.83" cy="575.3" r="0.85"/><circle cx="909.49" cy="635.73" r="0.85"/><circle cx="931.14" cy="574.02" r="0.85"/><circle cx="937.06" cy="624.29" r="0.85"/><circle cx="905.58" cy="590.4" r="0.85"/><circle cx="946.79" cy="583.96" r="0.85"/><circle cx="959.49" cy="630.85" r="0.85"/><circle cx="952.29" cy="595.96" r="0.85"/><circle cx="938.71" cy="590.45" r="0.85"/><circle cx="936.27" cy="616.66" r="0.85"/><circle cx="932.24" cy="632.45" r="0.85"/><circle cx="980.82" cy="599.23" r="0.85"/><circle cx="949.1" cy="629.19" r="0.85"/><circle cx="957.72" cy="601.26" r="0.85"/><circle cx="927.87" cy="632.71" r="0.85"/><circle cx="956.85" cy="621.15" r="0.85"/><circle cx="919.24" cy="623.76" r="0.85"/><circle cx="961.4" cy="602.8" r="0.85"/><circle cx="951.56" cy="645.94" r="0.85"/><circle cx="902.98" cy="619.48" r="0.85"/><circle cx="915.56" cy="579.67" r="0.85"/><circle cx="933.44" cy="622.69" r="0.85"/><circle cx="941.3" cy="579.03" r="0.85"/><circle cx="907.52" cy="595.33" r="0.85"/><circle cx="940.37" cy="585.74" r="0.85"/><circle cx="913.5" cy="638.15" r="0.85"/><circle cx="917.55" cy="603.58" r="0.85"/><circle cx="925.18" cy="592.13" r="0.85"/><circle cx="941.16" cy="599.27" r="0.85"/><circle cx="954.83" cy="579.78" r="0.85"/><circle cx="915.01" cy="639.97" r="0.85"/><circle cx="937.96" cy="628.25" r="0.85"/><circle cx="968.51" cy="620.88" r="0.85"/><circle cx="940.82" cy="573.24" r="0.85"/><circle cx="907.38" cy="627.31" r="0.85"/><circle cx="958.03" cy="622.62" r="0.85"/><circle cx="914.32" cy="575.21" r="0.85"/><circle cx="916.42" cy="581.74" r="0.85"/><circle cx="944.11" cy="581.72" r="0.85"/><circle cx="974.1" cy="594.5" r="0.85"/><circle cx="925.48" cy="629.69" r="0.85"/><circle cx="948.63" cy="584.45" r="0.85"/><circle cx="955.6" cy="643.63" r="0.85"/><circle cx="909.91" cy="601.7" r="0.85"/><circle cx="920.42" cy="572.95" r="0.85"/><circle cx="956.54" cy="625.83" r="0.85"/><circle cx="965.02" cy="618.53" r="0.85"/><circle cx="900.75" cy="607.18" r="0.85"/><circle cx="924.04" cy="580.03" r="0.85"/><circle cx="913.51" cy="625.74" r="0.85"/><circle cx="934.17" cy="645.74" r="0.85"/><circle cx="949.32" cy="570.49" r="0.85"/><circle cx="960.28" cy="635.6" r="0.85"/><circle cx="940.78" cy="578.1" r="0.85"/><circle cx="972.37" cy="584.04" r="0.85"/><circle cx="938.31" cy="569.81" r="0.85"/><circle cx="916.33" cy="576.13" r="0.85"/><circle cx="964.22" cy="633.5" r="0.85"/><circle cx="930.47" cy="576.32" r="0.85"/><circle cx="938.27" cy="618.42" r="0.85"/><circle cx="909.25" cy="584.72" r="0.85"/><circle cx="937.17" cy="626.82" r="0.85"/><circle cx="942.13" cy="620.35" r="0.85"/><circle cx="921.17" cy="570.76" r="0.85"/><circle cx="948.2" cy="583.93" r="0.85"/><circle cx="936.43" cy="597.02" r="0.85"/><circle cx="952.81" cy="587.44" r="0.85"/><circle cx="973.73" cy="608.42" r="0.85"/><circle cx="954.35" cy="624.5" r="0.85"/><circle cx="966.46" cy="617.84" r="0.85"/><circle cx="904.04" cy="594.98" r="0.85"/><circle cx="977.49" cy="617.08" r="0.85"/><circle cx="955.48" cy="620.39" r="0.85"/><circle cx="922.96" cy="589.96" r="0.85"/><circle cx="924.37" cy="635.25" r="0.85"/><circle cx="947.6" cy="644.23" r="0.85"/><circle cx="949.93" cy="644.78" r="0.85"/><circle cx="951.24" cy="579.09" r="0.85"/><circle cx="976.83" cy="614.73" r="0.85"/><circle cx="969.73" cy="612.97" r="0.85"/><circle cx="930.52" cy="612.54" r="0.85"/><circle cx="915.22" cy="581.73" r="0.85"/><circle cx="916.84" cy="594.23" r="0.85"/><circle cx="907.46" cy="605.26" r="0.85"/><circle cx="945.88" cy="646.26" r="0.85"/><circle cx="978.12" cy="606.68" r="0.85"/><circle cx="963.69" cy="601.92" r="0.85"/><circle cx="951.32" cy="606.74" r="0.85"/><circle cx="924.6" cy="609.82" r="0.85"/><circle cx="906.32" cy="617.56" r="0.85"/><circle cx="932.59" cy="580.44" r="0.85"/><circle cx="929.9" cy="623" r="0.85"/><circle cx="921.47" cy="620.45" r="0.85"/><circle cx="952.53" cy="641.42" r="0.85"/><circle cx="911.98" cy="604.88" r="0.85"/><circle cx="951.51" cy="640.93" r="0.85"/><circle cx="947.2" cy="628.07" r="0.85"/><circle cx="906.91" cy="594.74" r="0.85"/><circle cx="976.25" cy="601.59" r="0.85"/><circle cx="978.66" cy="594.89" r="0.85"/><circle cx="933.81" cy="572.72" r="0.85"/><circle cx="957.81" cy="614.99" r="0.85"/><circle cx="979.39" cy="610.88" r="0.85"/><circle cx="934.09" cy="574.99" r="0.85"/><circle cx="937.81" cy="632.56" r="0.85"/><circle cx="957.46" cy="636.2" r="0.85"/><circle cx="963.48" cy="606.46" r="0.85"/><circle cx="957.12" cy="612.51" r="0.85"/><circle cx="915.23" cy="639.02" r="0.85"/><circle cx="949.63" cy="581.1" r="0.85"/><circle cx="951.13" cy="615.89" r="0.85"/><circle cx="961.3" cy="638.08" r="0.85"/><circle cx="898.36" cy="615.18" r="0.85"/><circle cx="972.23" cy="588.05" r="0.85"/><circle cx="901.87" cy="613.34" r="0.85"/><circle cx="949.71" cy="617.67" r="0.85"/><circle cx="912.06" cy="596.13" r="0.85"/><circle cx="945.4" cy="628.03" r="0.85"/><circle cx="980.18" cy="613" r="0.85"/><circle cx="929.77" cy="568.27" r="0.85"/><circle cx="967.9" cy="604.33" r="0.85"/><circle cx="937.09" cy="581.92" r="0.85"/><circle cx="954.79" cy="572.17" r="0.85"/><circle cx="943.22" cy="611.24" r="0.85"/><circle cx="947.29" cy="638.91" r="0.85"/><circle cx="937.06" cy="610.46" r="0.85"/><circle cx="958.23" cy="575.22" r="0.85"/><circle cx="931.38" cy="609.67" r="0.85"/><circle cx="963.83" cy="588.06" r="0.85"/><circle cx="961.82" cy="617.97" r="0.85"/><circle cx="911.63" cy="579.93" r="0.85"/><circle cx="906.15" cy="610.95" r="0.85"/><circle cx="945.76" cy="627.56" r="0.85"/><circle cx="961.83" cy="593.25" r="0.85"/><circle cx="965.96" cy="627.27" r="0.85"/><circle cx="953.34" cy="621.04" r="0.85"/><circle cx="908.67" cy="616.36" r="0.85"/><circle cx="916.59" cy="581.1" r="0.85"/><circle cx="929.73" cy="611.73" r="0.85"/><circle cx="938.43" cy="598.12" r="0.85"/><circle cx="913.55" cy="612.55" r="0.85"/><circle cx="923.27" cy="576.41" r="0.85"/><circle cx="942.2" cy="641.36" r="0.85"/><circle cx="929.6" cy="580.84" r="0.85"/><circle cx="965.5" cy="638.73" r="0.85"/><circle cx="931.35" cy="601.59" r="0.85"/><circle cx="943.02" cy="649.17" r="0.85"/><circle cx="943.55" cy="633.68" r="0.85"/><circle cx="949.14" cy="570.79" r="0.85"/><circle cx="915.59" cy="580.83" r="0.85"/><circle cx="952.65" cy="610.75" r="0.85"/><circle cx="977.68" cy="602.1" r="0.85"/><circle cx="949.12" cy="609.89" r="0.85"/><circle cx="942.46" cy="648.01" r="0.85"/><circle cx="946.62" cy="641.38" r="0.85"/><circle cx="970.78" cy="593.53" r="0.85"/><circle cx="959.06" cy="597.27" r="0.85"/><circle cx="943.27" cy="612.34" r="0.85"/><circle cx="940.61" cy="594.23" r="0.85"/><circle cx="975.33" cy="601.78" r="0.85"/><circle cx="954.75" cy="642.39" r="0.85"/><circle cx="955.85" cy="633.27" r="0.85"/><circle cx="969.69" cy="630.6" r="0.85"/><circle cx="971.31" cy="582.1" r="0.85"/><circle cx="979.24" cy="608.25" r="0.85"/><circle cx="903.81" cy="594.65" r="0.85"/><circle cx="906.52" cy="607.19" r="0.85"/><circle cx="908.49" cy="586.75" r="0.85"/><circle cx="948.75" cy="612.27" r="0.85"/><circle cx="917.99" cy="601.34" r="0.85"/><circle cx="937.04" cy="609.91" r="0.85"/><circle cx="939.79" cy="601.21" r="0.85"/><circle cx="958.39" cy="574.62" r="0.85"/><circle cx="925.65" cy="611.52" r="0.85"/><circle cx="928.63" cy="592.28" r="0.85"/><circle cx="927.25" cy="613.7" r="0.85"/><circle cx="971.08" cy="603.14" r="0.85"/><circle cx="932.17" cy="617.96" r="0.85"/><circle cx="935.13" cy="569.42" r="0.85"/><circle cx="947.84" cy="596.83" r="0.85"/><circle cx="924.24" cy="624.72" r="0.85"/><circle cx="941.27" cy="591.66" r="0.85"/><circle cx="906.99" cy="582.03" r="0.85"/><circle cx="940.42" cy="604.24" r="0.85"/><circle cx="952.78" cy="614.11" r="0.85"/><circle cx="928.36" cy="577.41" r="0.85"/><circle cx="911.52" cy="604.14" r="0.85"/><circle cx="912.23" cy="625.68" r="0.85"/><circle cx="915.78" cy="575.5" r="0.85"/><circle cx="935.88" cy="570.56" r="0.85"/><circle cx="973.23" cy="587.77" r="0.85"/><circle cx="938.45" cy="600.54" r="0.85"/><circle cx="923.5" cy="572.7" r="0.85"/><circle cx="903.86" cy="624.23" r="0.85"/><circle cx="957.63" cy="644.45" r="0.85"/><circle cx="906.62" cy="620.29" r="0.85"/><circle cx="939.61" cy="630.64" r="0.85"/><circle cx="925.95" cy="627.12" r="0.85"/><circle cx="963.44" cy="623.32" r="0.85"/><circle cx="974.14" cy="603.64" r="0.85"/><circle cx="973.81" cy="592.6" r="0.85"/><circle cx="962" cy="572.02" r="0.85"/><circle cx="940.38" cy="585.79" r="0.85"/><circle cx="940.04" cy="634.58" r="0.85"/><circle cx="960.25" cy="610.34" r="0.85"/><circle cx="970.83" cy="581.38" r="0.85"/><circle cx="922.28" cy="640.04" r="0.85"/><circle cx="946.27" cy="568.7" r="0.85"/><circle cx="948.58" cy="578.36" r="0.85"/><circle cx="970.55" cy="630.98" r="0.85"/><circle cx="926.88" cy="638.23" r="0.85"/><circle cx="919.07" cy="630.44" r="0.85"/><circle cx="956.67" cy="604.1" r="0.85"/><circle cx="906.36" cy="601.19" r="0.85"/><circle cx="900.01" cy="598.01" r="0.85"/><circle cx="906.02" cy="629.67" r="0.85"/><circle cx="924.55" cy="569.44" r="0.85"/><circle cx="956.57" cy="618" r="0.85"/><circle cx="930.57" cy="646.46" r="0.85"/><circle cx="961.61" cy="609.53" r="0.85"/><circle cx="930.98" cy="567.02" r="0.85"/><circle cx="952.58" cy="632.48" r="0.85"/><circle cx="926.35" cy="575.62" r="0.85"/><circle cx="939.08" cy="571.39" r="0.85"/><circle cx="940.2" cy="628.92" r="0.85"/><circle cx="974.82" cy="613.72" r="0.85"/><circle cx="945.49" cy="628.33" r="0.85"/><circle cx="973.26" cy="600.24" r="0.85"/><circle cx="911.05" cy="589.33" r="0.85"/><circle cx="911.04" cy="587.57" r="0.85"/><circle cx="936.43" cy="617.68" r="0.85"/><circle cx="944.68" cy="609.76" r="0.85"/><circle cx="929.66" cy="619.77" r="0.85"/><circle cx="962.68" cy="626.85" r="0.85"/><circle cx="974.62" cy="601.1" r="0.85"/><circle cx="934.52" cy="644.02" r="0.85"/><circle cx="945.89" cy="619.61" r="0.85"/><circle cx="931.08" cy="632.99" r="0.85"/><circle cx="929.48" cy="581.77" r="0.85"/><circle cx="938.22" cy="594.93" r="0.85"/><circle cx="962.67" cy="597.6" r="0.85"/><circle cx="943.68" cy="601.33" r="0.85"/><circle cx="949.61" cy="590.18" r="0.85"/><circle cx="963.36" cy="578.07" r="0.85"/><circle cx="929.29" cy="588.33" r="0.85"/><circle cx="958.5" cy="608.82" r="0.85"/><circle cx="953.98" cy="598.34" r="0.85"/><circle cx="922.41" cy="580.71" r="0.85"/><circle cx="930.43" cy="592.61" r="0.85"/><circle cx="948.21" cy="617.94" r="0.85"/><circle cx="966.16" cy="604.89" r="0.85"/><circle cx="921.5" cy="581.89" r="0.85"/><circle cx="941.81" cy="618.2" r="0.85"/><circle cx="979.1" cy="611.29" r="0.85"/><circle cx="968.56" cy="637.66" r="0.85"/><circle cx="916.33" cy="634.59" r="0.85"/><circle cx="964.36" cy="636.08" r="0.85"/><circle cx="939.73" cy="633.03" r="0.85"/><circle cx="925.95" cy="605.68" r="0.85"/><circle cx="940.41" cy="645.04" r="0.85"/><circle cx="934.23" cy="632.9" r="0.85"/><circle cx="941.87" cy="587.98" r="0.85"/><circle cx="946.87" cy="626.09" r="0.85"/><circle cx="920.81" cy="624.53" r="0.85"/><circle cx="921.58" cy="585.38" r="0.85"/><circle cx="946.53" cy="600.82" r="0.85"/><circle cx="919.91" cy="574.92" r="0.85"/><circle cx="940.69" cy="614.84" r="0.85"/><circle cx="926.6" cy="613.08" r="0.85"/><circle cx="905.26" cy="616.49" r="0.85"/><circle cx="952.14" cy="615.68" r="0.85"/><circle cx="922.42" cy="609.94" r="0.85"/><circle cx="943.41" cy="635.27" r="0.85"/><circle cx="948.16" cy="615.08" r="0.85"/><circle cx="921.27" cy="629.66" r="0.85"/><circle cx="969.2" cy="595.6" r="0.85"/><circle cx="958.07" cy="616.27" r="0.85"/><circle cx="938.84" cy="576.32" r="0.85"/><circle cx="968.6" cy="577.8" r="0.85"/><circle cx="948.85" cy="596.89" r="0.85"/><circle cx="968.9" cy="597.19" r="0.85"/><circle cx="941.13" cy="624.95" r="0.85"/><circle cx="952.93" cy="593.2" r="0.85"/><circle cx="958.99" cy="618.45" r="0.85"/><circle cx="965.65" cy="594.66" r="0.85"/><circle cx="938.64" cy="596.36" r="0.85"/><circle cx="917.06" cy="614.57" r="0.85"/><circle cx="949.59" cy="640.45" r="0.85"/><circle cx="930.53" cy="618.79" r="0.85"/><circle cx="969.37" cy="604.82" r="0.85"/><circle cx="941.89" cy="611.65" r="0.85"/><circle cx="922.53" cy="583.08" r="0.85"/><circle cx="968.82" cy="612.1" r="0.85"/><circle cx="938.13" cy="577.08" r="0.85"/><circle cx="943" cy="637.12" r="0.85"/><circle cx="912.87" cy="587.01" r="0.85"/><circle cx="963.36" cy="637.35" r="0.85"/><circle cx="974.47" cy="595.62" r="0.85"/><circle cx="956.1" cy="587.87" r="0.85"/><circle cx="954.85" cy="597.46" r="0.85"/><circle cx="944.76" cy="639.73" r="0.85"/><circle cx="949.92" cy="600.75" r="0.85"/><circle cx="941.66" cy="615.46" r="0.85"/><circle cx="925.22" cy="613.57" r="0.85"/><circle cx="953.22" cy="641.51" r="0.85"/><circle cx="904.3" cy="587.42" r="0.85"/><circle cx="911.39" cy="627.62" r="0.85"/><circle cx="981.29" cy="610.93" r="0.85"/><circle cx="943.11" cy="636.45" r="0.85"/><circle cx="898.7" cy="604.72" r="0.85"/><circle cx="897.7" cy="609.77" r="0.85"/><circle cx="925.68" cy="594.26" r="0.85"/><circle cx="949.62" cy="591.45" r="0.85"/><circle cx="968.74" cy="607.63" r="0.85"/><circle cx="946.19" cy="648.28" r="0.85"/><circle cx="928.17" cy="631.73" r="0.85"/><circle cx="920.79" cy="636.23" r="0.85"/><circle cx="965.74" cy="611.38" r="0.85"/><circle cx="960.31" cy="640.12" r="0.85"/></g>
<ellipse cx="1042" cy="607.3" rx="50" ry="49" fill="#9a9c9c"/><ellipse cx="1041.5" cy="607.3" rx="48.8" ry="47.8" fill="none" stroke="#c4c6c4" stroke-width="1.2" opacity="0.7"/><ellipse cx="1042" cy="607.3" rx="47.4" ry="46.4" fill="#44484a"/><ellipse cx="1042" cy="607.3" rx="46" ry="45" fill="url(#ge)"/><ellipse cx="1042" cy="607.3" rx="46" ry="45" fill="url(#edge)"/><ellipse cx="1042" cy="607.3" rx="45" ry="44" fill="none" stroke="#b0b4b4" stroke-width="1.3" opacity="0.4"/><g fill="#c4c8c8"><circle cx="1075.67" cy="607.33" r="0.85"/><circle cx="1040.57" cy="635.73" r="0.85"/><circle cx="1008.27" cy="593.79" r="0.85"/><circle cx="1055.74" cy="623.07" r="0.85"/><circle cx="1072.76" cy="635.74" r="0.85"/><circle cx="1051.47" cy="619.9" r="0.85"/><circle cx="1009.38" cy="602.82" r="0.85"/><circle cx="1049.8" cy="600.71" r="0.85"/><circle cx="1043.74" cy="624.5" r="0.85"/><circle cx="1017.04" cy="592.75" r="0.85"/><circle cx="1007.77" cy="628.86" r="0.85"/><circle cx="1020.89" cy="574" r="0.85"/><circle cx="1063.59" cy="601.44" r="0.85"/><circle cx="1067.77" cy="597.69" r="0.85"/><circle cx="1081.17" cy="620.17" r="0.85"/><circle cx="1046.54" cy="610.7" r="0.85"/><circle cx="1036.28" cy="629.31" r="0.85"/><circle cx="1081.44" cy="599.16" r="0.85"/><circle cx="1014.45" cy="622.09" r="0.85"/><circle cx="1064.58" cy="576.44" r="0.85"/><circle cx="1024.36" cy="582.45" r="0.85"/><circle cx="1057.86" cy="621.25" r="0.85"/><circle cx="1023.95" cy="580.2" r="0.85"/><circle cx="1054.92" cy="569.3" r="0.85"/><circle cx="1060.44" cy="602.96" r="0.85"/><circle cx="1078.35" cy="625.7" r="0.85"/><circle cx="1025.36" cy="599.61" r="0.85"/><circle cx="1034.23" cy="587.34" r="0.85"/><circle cx="1044.21" cy="632.77" r="0.85"/><circle cx="1006.84" cy="602.11" r="0.85"/><circle cx="1075.31" cy="623.49" r="0.85"/><circle cx="1020.92" cy="586.88" r="0.85"/><circle cx="1023.84" cy="573.96" r="0.85"/><circle cx="1071.73" cy="609.06" r="0.85"/><circle cx="1026.09" cy="575.31" r="0.85"/><circle cx="1030.99" cy="592.96" r="0.85"/><circle cx="1079" cy="597.64" r="0.85"/><circle cx="1045.04" cy="634.86" r="0.85"/><circle cx="1060.98" cy="602.27" r="0.85"/><circle cx="1006.36" cy="629.69" r="0.85"/><circle cx="1058.86" cy="595.34" r="0.85"/><circle cx="1039.61" cy="582.08" r="0.85"/><circle cx="1022.4" cy="575.66" r="0.85"/><circle cx="1056.18" cy="621.62" r="0.85"/><circle cx="1046.87" cy="628.56" r="0.85"/><circle cx="1057.53" cy="610.76" r="0.85"/><circle cx="1018.71" cy="622.54" r="0.85"/><circle cx="1071.11" cy="622.44" r="0.85"/><circle cx="1072.69" cy="595.94" r="0.85"/><circle cx="1019.65" cy="635.22" r="0.85"/><circle cx="1025.3" cy="614.1" r="0.85"/><circle cx="1036.3" cy="607.94" r="0.85"/><circle cx="1034.23" cy="592.16" r="0.85"/><circle cx="1013.04" cy="637.56" r="0.85"/><circle cx="1046.16" cy="568.9" r="0.85"/><circle cx="1020.41" cy="581.09" r="0.85"/><circle cx="1030.13" cy="567.43" r="0.85"/><circle cx="1054.52" cy="642.19" r="0.85"/><circle cx="1035.14" cy="627.58" r="0.85"/><circle cx="1056.56" cy="577.81" r="0.85"/><circle cx="1065.68" cy="575.28" r="0.85"/><circle cx="1025.68" cy="597.34" r="0.85"/><circle cx="1073.45" cy="610.21" r="0.85"/><circle cx="1038.56" cy="585.51" r="0.85"/><circle cx="1044.69" cy="608.54" r="0.85"/><circle cx="1058.72" cy="638.51" r="0.85"/><circle cx="1062.71" cy="607.8" r="0.85"/><circle cx="1038.54" cy="642.76" r="0.85"/><circle cx="1047.98" cy="606.83" r="0.85"/><circle cx="1073.46" cy="634.16" r="0.85"/><circle cx="1058.36" cy="604.24" r="0.85"/><circle cx="1026.05" cy="633.54" r="0.85"/><circle cx="1030.09" cy="631.98" r="0.85"/><circle cx="1020.23" cy="610.15" r="0.85"/><circle cx="1053.78" cy="611.44" r="0.85"/><circle cx="1048.83" cy="618.19" r="0.85"/><circle cx="1016.35" cy="582.52" r="0.85"/><circle cx="1038.88" cy="644.76" r="0.85"/><circle cx="1038.64" cy="582.83" r="0.85"/><circle cx="1023.27" cy="608.25" r="0.85"/><circle cx="1071.17" cy="593.65" r="0.85"/><circle cx="1058.08" cy="612.54" r="0.85"/><circle cx="1032.54" cy="582.77" r="0.85"/><circle cx="1037.74" cy="587.5" r="0.85"/><circle cx="1053.29" cy="571.12" r="0.85"/><circle cx="1069.45" cy="625.35" r="0.85"/><circle cx="1055.1" cy="640.45" r="0.85"/><circle cx="1054.79" cy="571.87" r="0.85"/><circle cx="1043.55" cy="620.11" r="0.85"/><circle cx="1025.2" cy="580.13" r="0.85"/><circle cx="1054.25" cy="621.45" r="0.85"/><circle cx="1029.67" cy="600.43" r="0.85"/><circle cx="1027.87" cy="591.84" r="0.85"/><circle cx="1040.49" cy="634.75" r="0.85"/><circle cx="1006.03" cy="599.87" r="0.85"/><circle cx="1078.08" cy="614.24" r="0.85"/><circle cx="1046.22" cy="629.7" r="0.85"/><circle cx="1019.07" cy="580.27" r="0.85"/><circle cx="1011.18" cy="580.83" r="0.85"/><circle cx="1048.78" cy="629.91" r="0.85"/><circle cx="1030.48" cy="588.91" r="0.85"/><circle cx="1053.3" cy="624.08" r="0.85"/><circle cx="1047.25" cy="569.23" r="0.85"/><circle cx="1033.11" cy="566.87" r="0.85"/><circle cx="1048.61" cy="584.7" r="0.85"/><circle cx="1027.33" cy="640.18" r="0.85"/><circle cx="1073.68" cy="618.6" r="0.85"/><circle cx="1050.11" cy="612.27" r="0.85"/><circle cx="1025.26" cy="605.88" r="0.85"/><circle cx="1078.79" cy="590.83" r="0.85"/><circle cx="1023.34" cy="611.77" r="0.85"/><circle cx="1064.47" cy="627.83" r="0.85"/><circle cx="1016.21" cy="603.91" r="0.85"/><circle cx="1035.4" cy="577.26" r="0.85"/><circle cx="1044.24" cy="593.71" r="0.85"/></g>
<ellipse cx="1144.8" cy="607.6" rx="49.4" ry="48.8" fill="#9a9c9c"/><ellipse cx="1144.3" cy="607.6" rx="48.2" ry="47.6" fill="none" stroke="#c4c6c4" stroke-width="1.2" opacity="0.7"/><ellipse cx="1144.8" cy="607.6" rx="46.8" ry="46.2" fill="#44484a"/><ellipse cx="1144.8" cy="607.6" rx="45.4" ry="44.8" fill="url(#ge0)"/><ellipse cx="1144.8" cy="607.6" rx="45.4" ry="44.8" fill="url(#edge)"/><ellipse cx="1144.8" cy="607.6" rx="44.4" ry="43.8" fill="none" stroke="#b0b4b4" stroke-width="1.3" opacity="0.4"/>
<text x="686.9" y="462.5" style="font-family:'Liberation Serif', serif;font-size:12.5px;font-weight:bold;fill:#fff">Control</text>
<text x="794.5" y="462.5" style="font-family:'Liberation Serif', serif;font-size:12.5px;font-weight:bold;fill:#fff">BC</text>
<text x="888" y="462.5" style="font-family:'Liberation Serif', serif;font-size:12.5px;font-weight:bold;fill:#fff">BT</text>
<text x="992" y="462.5" style="font-family:'Liberation Serif', serif;font-size:12.5px;font-weight:bold;fill:#fff">BT@Zn1</text>
<text x="1087.5" y="462.5" style="font-family:'Liberation Serif', serif;font-size:12.5px;font-weight:bold;fill:#fff">BT@Zn3</text>
<text x="686.9" y="567.5" style="font-family:'Liberation Serif', serif;font-size:12.5px;font-weight:bold;fill:#fff">Control</text>
<text x="794.5" y="567.5" style="font-family:'Liberation Serif', serif;font-size:12.5px;font-weight:bold;fill:#fff">BC</text>
<text x="888" y="567.5" style="font-family:'Liberation Serif', serif;font-size:12.5px;font-weight:bold;fill:#fff">BT</text>
<text x="992" y="567.5" style="font-family:'Liberation Serif', serif;font-size:12.5px;font-weight:bold;fill:#fff">BT@Zn1</text>
<text x="1087.5" y="567.5" style="font-family:'Liberation Serif', serif;font-size:12.5px;font-weight:bold;fill:#fff">BT@Zn3</text>
<text x="620.2" y="501" style="font-family:'Liberation Serif', serif;font-size:15px;font-weight:bold;font-style:italic;fill:#111">S.aureus</text>
<text x="636.3" y="612.5" style="font-family:'Liberation Serif', serif;font-size:15px;font-weight:bold;font-style:italic;fill:#111">E. coli</text>
</svg></body></html>
